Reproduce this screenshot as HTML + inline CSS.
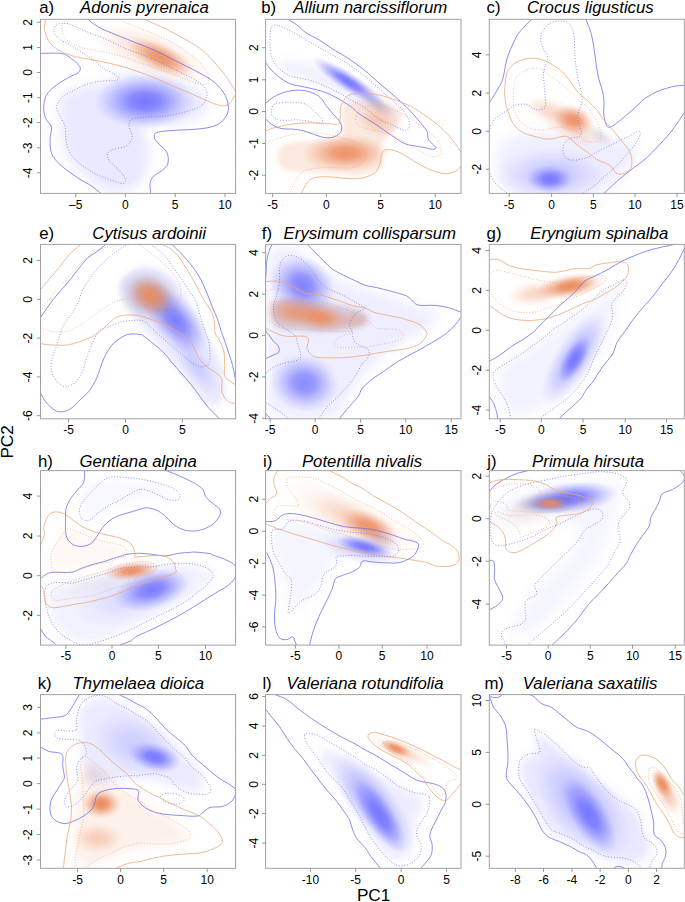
<!DOCTYPE html><html><head><meta charset="utf-8"><style>html,body{margin:0;padding:0;background:#fff;}svg{display:block;}</style></head><body>
<svg width="685" height="902" viewBox="0 0 685 902" font-family='"Liberation Sans", sans-serif'>
<defs><clipPath id="clip_a"><rect x="40.5" y="19.3" width="195.1" height="174.1"/></clipPath><filter id="f1" x="-50%" y="-50%" width="200%" height="200%"><feGaussianBlur stdDeviation="18"/></filter><radialGradient id="g1"><stop offset="0" stop-color="rgb(120,120,255)" stop-opacity="1.000"/><stop offset="0.3" stop-color="rgb(120,120,255)" stop-opacity="0.850"/><stop offset="0.55" stop-color="rgb(120,120,255)" stop-opacity="0.500"/><stop offset="0.8" stop-color="rgb(120,120,255)" stop-opacity="0.180"/><stop offset="1.0" stop-color="rgb(120,120,255)" stop-opacity="0.000"/></radialGradient><radialGradient id="g2"><stop offset="0" stop-color="rgb(236,138,92)" stop-opacity="0.300"/><stop offset="0.3" stop-color="rgb(236,138,92)" stop-opacity="0.255"/><stop offset="0.55" stop-color="rgb(236,138,92)" stop-opacity="0.150"/><stop offset="0.8" stop-color="rgb(236,138,92)" stop-opacity="0.054"/><stop offset="1.0" stop-color="rgb(236,138,92)" stop-opacity="0.000"/></radialGradient><radialGradient id="g3"><stop offset="0" stop-color="rgb(236,138,92)" stop-opacity="0.900"/><stop offset="0.3" stop-color="rgb(236,138,92)" stop-opacity="0.765"/><stop offset="0.55" stop-color="rgb(236,138,92)" stop-opacity="0.450"/><stop offset="0.8" stop-color="rgb(236,138,92)" stop-opacity="0.162"/><stop offset="1.0" stop-color="rgb(236,138,92)" stop-opacity="0.000"/></radialGradient><clipPath id="clip_b"><rect x="265.6" y="19.3" width="195.4" height="174.1"/></clipPath><filter id="f2" x="-50%" y="-50%" width="200%" height="200%"><feGaussianBlur stdDeviation="14"/></filter><filter id="f3" x="-50%" y="-50%" width="200%" height="200%"><feGaussianBlur stdDeviation="9"/></filter><radialGradient id="g4"><stop offset="0" stop-color="rgb(236,138,92)" stop-opacity="0.900"/><stop offset="0.3" stop-color="rgb(236,138,92)" stop-opacity="0.765"/><stop offset="0.55" stop-color="rgb(236,138,92)" stop-opacity="0.450"/><stop offset="0.8" stop-color="rgb(236,138,92)" stop-opacity="0.162"/><stop offset="1.0" stop-color="rgb(236,138,92)" stop-opacity="0.000"/></radialGradient><radialGradient id="g5"><stop offset="0" stop-color="rgb(236,138,92)" stop-opacity="0.350"/><stop offset="0.3" stop-color="rgb(236,138,92)" stop-opacity="0.297"/><stop offset="0.55" stop-color="rgb(236,138,92)" stop-opacity="0.175"/><stop offset="0.8" stop-color="rgb(236,138,92)" stop-opacity="0.063"/><stop offset="1.0" stop-color="rgb(236,138,92)" stop-opacity="0.000"/></radialGradient><radialGradient id="g6"><stop offset="0" stop-color="rgb(120,120,255)" stop-opacity="1.000"/><stop offset="0.3" stop-color="rgb(120,120,255)" stop-opacity="0.850"/><stop offset="0.55" stop-color="rgb(120,120,255)" stop-opacity="0.500"/><stop offset="0.8" stop-color="rgb(120,120,255)" stop-opacity="0.180"/><stop offset="1.0" stop-color="rgb(120,120,255)" stop-opacity="0.000"/></radialGradient><radialGradient id="g7"><stop offset="0" stop-color="rgb(140,130,170)" stop-opacity="0.350"/><stop offset="0.3" stop-color="rgb(140,130,170)" stop-opacity="0.297"/><stop offset="0.55" stop-color="rgb(140,130,170)" stop-opacity="0.175"/><stop offset="0.8" stop-color="rgb(140,130,170)" stop-opacity="0.063"/><stop offset="1.0" stop-color="rgb(140,130,170)" stop-opacity="0.000"/></radialGradient><clipPath id="clip_c"><rect x="489.3" y="19.3" width="195" height="174.1"/></clipPath><filter id="f4" x="-50%" y="-50%" width="200%" height="200%"><feGaussianBlur stdDeviation="20"/></filter><radialGradient id="g8"><stop offset="0" stop-color="rgb(120,120,255)" stop-opacity="0.350"/><stop offset="0.3" stop-color="rgb(120,120,255)" stop-opacity="0.297"/><stop offset="0.55" stop-color="rgb(120,120,255)" stop-opacity="0.175"/><stop offset="0.8" stop-color="rgb(120,120,255)" stop-opacity="0.063"/><stop offset="1.0" stop-color="rgb(120,120,255)" stop-opacity="0.000"/></radialGradient><radialGradient id="g9"><stop offset="0" stop-color="rgb(120,120,255)" stop-opacity="1.000"/><stop offset="0.3" stop-color="rgb(120,120,255)" stop-opacity="0.850"/><stop offset="0.55" stop-color="rgb(120,120,255)" stop-opacity="0.500"/><stop offset="0.8" stop-color="rgb(120,120,255)" stop-opacity="0.180"/><stop offset="1.0" stop-color="rgb(120,120,255)" stop-opacity="0.000"/></radialGradient><radialGradient id="g10"><stop offset="0" stop-color="rgb(236,138,92)" stop-opacity="0.320"/><stop offset="0.3" stop-color="rgb(236,138,92)" stop-opacity="0.272"/><stop offset="0.55" stop-color="rgb(236,138,92)" stop-opacity="0.160"/><stop offset="0.8" stop-color="rgb(236,138,92)" stop-opacity="0.058"/><stop offset="1.0" stop-color="rgb(236,138,92)" stop-opacity="0.000"/></radialGradient><radialGradient id="g11"><stop offset="0" stop-color="rgb(236,138,92)" stop-opacity="0.180"/><stop offset="0.3" stop-color="rgb(236,138,92)" stop-opacity="0.153"/><stop offset="0.55" stop-color="rgb(236,138,92)" stop-opacity="0.090"/><stop offset="0.8" stop-color="rgb(236,138,92)" stop-opacity="0.032"/><stop offset="1.0" stop-color="rgb(236,138,92)" stop-opacity="0.000"/></radialGradient><radialGradient id="g12"><stop offset="0" stop-color="rgb(236,138,92)" stop-opacity="0.900"/><stop offset="0.3" stop-color="rgb(236,138,92)" stop-opacity="0.765"/><stop offset="0.55" stop-color="rgb(236,138,92)" stop-opacity="0.450"/><stop offset="0.8" stop-color="rgb(236,138,92)" stop-opacity="0.162"/><stop offset="1.0" stop-color="rgb(236,138,92)" stop-opacity="0.000"/></radialGradient><radialGradient id="g13"><stop offset="0" stop-color="rgb(170,150,160)" stop-opacity="0.250"/><stop offset="0.3" stop-color="rgb(170,150,160)" stop-opacity="0.212"/><stop offset="0.55" stop-color="rgb(170,150,160)" stop-opacity="0.125"/><stop offset="0.8" stop-color="rgb(170,150,160)" stop-opacity="0.045"/><stop offset="1.0" stop-color="rgb(170,150,160)" stop-opacity="0.000"/></radialGradient><clipPath id="clip_e"><rect x="40.5" y="244.4" width="195.1" height="174.4"/></clipPath><filter id="f5" x="-50%" y="-50%" width="200%" height="200%"><feGaussianBlur stdDeviation="12"/></filter><radialGradient id="g14"><stop offset="0" stop-color="rgb(120,120,255)" stop-opacity="0.950"/><stop offset="0.3" stop-color="rgb(120,120,255)" stop-opacity="0.807"/><stop offset="0.55" stop-color="rgb(120,120,255)" stop-opacity="0.475"/><stop offset="0.8" stop-color="rgb(120,120,255)" stop-opacity="0.171"/><stop offset="1.0" stop-color="rgb(120,120,255)" stop-opacity="0.000"/></radialGradient><radialGradient id="g15"><stop offset="0" stop-color="rgb(120,120,255)" stop-opacity="0.250"/><stop offset="0.3" stop-color="rgb(120,120,255)" stop-opacity="0.212"/><stop offset="0.55" stop-color="rgb(120,120,255)" stop-opacity="0.125"/><stop offset="0.8" stop-color="rgb(120,120,255)" stop-opacity="0.045"/><stop offset="1.0" stop-color="rgb(120,120,255)" stop-opacity="0.000"/></radialGradient><radialGradient id="g16"><stop offset="0" stop-color="rgb(150,130,155)" stop-opacity="0.600"/><stop offset="0.3" stop-color="rgb(150,130,155)" stop-opacity="0.510"/><stop offset="0.55" stop-color="rgb(150,130,155)" stop-opacity="0.300"/><stop offset="0.8" stop-color="rgb(150,130,155)" stop-opacity="0.108"/><stop offset="1.0" stop-color="rgb(150,130,155)" stop-opacity="0.000"/></radialGradient><radialGradient id="g17"><stop offset="0" stop-color="rgb(236,138,92)" stop-opacity="0.900"/><stop offset="0.3" stop-color="rgb(236,138,92)" stop-opacity="0.765"/><stop offset="0.55" stop-color="rgb(236,138,92)" stop-opacity="0.450"/><stop offset="0.8" stop-color="rgb(236,138,92)" stop-opacity="0.162"/><stop offset="1.0" stop-color="rgb(236,138,92)" stop-opacity="0.000"/></radialGradient><clipPath id="clip_f"><rect x="265.6" y="244.4" width="195.4" height="174.4"/></clipPath><filter id="f6" x="-50%" y="-50%" width="200%" height="200%"><feGaussianBlur stdDeviation="16"/></filter><radialGradient id="g18"><stop offset="0" stop-color="rgb(120,120,255)" stop-opacity="0.920"/><stop offset="0.3" stop-color="rgb(120,120,255)" stop-opacity="0.782"/><stop offset="0.55" stop-color="rgb(120,120,255)" stop-opacity="0.460"/><stop offset="0.8" stop-color="rgb(120,120,255)" stop-opacity="0.166"/><stop offset="1.0" stop-color="rgb(120,120,255)" stop-opacity="0.000"/></radialGradient><radialGradient id="g19"><stop offset="0" stop-color="rgb(120,120,255)" stop-opacity="0.850"/><stop offset="0.3" stop-color="rgb(120,120,255)" stop-opacity="0.722"/><stop offset="0.55" stop-color="rgb(120,120,255)" stop-opacity="0.425"/><stop offset="0.8" stop-color="rgb(120,120,255)" stop-opacity="0.153"/><stop offset="1.0" stop-color="rgb(120,120,255)" stop-opacity="0.000"/></radialGradient><filter id="f7" x="-50%" y="-50%" width="200%" height="200%"><feGaussianBlur stdDeviation="10"/></filter><radialGradient id="g20"><stop offset="0" stop-color="rgb(236,138,92)" stop-opacity="0.700"/><stop offset="0.3" stop-color="rgb(236,138,92)" stop-opacity="0.595"/><stop offset="0.55" stop-color="rgb(236,138,92)" stop-opacity="0.350"/><stop offset="0.8" stop-color="rgb(236,138,92)" stop-opacity="0.126"/><stop offset="1.0" stop-color="rgb(236,138,92)" stop-opacity="0.000"/></radialGradient><radialGradient id="g21"><stop offset="0" stop-color="rgb(236,138,92)" stop-opacity="0.900"/><stop offset="0.3" stop-color="rgb(236,138,92)" stop-opacity="0.765"/><stop offset="0.55" stop-color="rgb(236,138,92)" stop-opacity="0.450"/><stop offset="0.8" stop-color="rgb(236,138,92)" stop-opacity="0.162"/><stop offset="1.0" stop-color="rgb(236,138,92)" stop-opacity="0.000"/></radialGradient><radialGradient id="g22"><stop offset="0" stop-color="rgb(236,138,92)" stop-opacity="0.300"/><stop offset="0.3" stop-color="rgb(236,138,92)" stop-opacity="0.255"/><stop offset="0.55" stop-color="rgb(236,138,92)" stop-opacity="0.150"/><stop offset="0.8" stop-color="rgb(236,138,92)" stop-opacity="0.054"/><stop offset="1.0" stop-color="rgb(236,138,92)" stop-opacity="0.000"/></radialGradient><clipPath id="clip_g"><rect x="489.3" y="244.4" width="195" height="174.4"/></clipPath><filter id="f8" x="-50%" y="-50%" width="200%" height="200%"><feGaussianBlur stdDeviation="18"/></filter><radialGradient id="g23"><stop offset="0" stop-color="rgb(120,120,255)" stop-opacity="0.550"/><stop offset="0.3" stop-color="rgb(120,120,255)" stop-opacity="0.468"/><stop offset="0.55" stop-color="rgb(120,120,255)" stop-opacity="0.275"/><stop offset="0.8" stop-color="rgb(120,120,255)" stop-opacity="0.099"/><stop offset="1.0" stop-color="rgb(120,120,255)" stop-opacity="0.000"/></radialGradient><radialGradient id="g24"><stop offset="0" stop-color="rgb(120,120,255)" stop-opacity="1.000"/><stop offset="0.3" stop-color="rgb(120,120,255)" stop-opacity="0.850"/><stop offset="0.55" stop-color="rgb(120,120,255)" stop-opacity="0.500"/><stop offset="0.8" stop-color="rgb(120,120,255)" stop-opacity="0.180"/><stop offset="1.0" stop-color="rgb(120,120,255)" stop-opacity="0.000"/></radialGradient><radialGradient id="g25"><stop offset="0" stop-color="rgb(236,138,92)" stop-opacity="0.350"/><stop offset="0.3" stop-color="rgb(236,138,92)" stop-opacity="0.297"/><stop offset="0.55" stop-color="rgb(236,138,92)" stop-opacity="0.175"/><stop offset="0.8" stop-color="rgb(236,138,92)" stop-opacity="0.063"/><stop offset="1.0" stop-color="rgb(236,138,92)" stop-opacity="0.000"/></radialGradient><radialGradient id="g26"><stop offset="0" stop-color="rgb(236,138,92)" stop-opacity="1.000"/><stop offset="0.3" stop-color="rgb(236,138,92)" stop-opacity="0.850"/><stop offset="0.55" stop-color="rgb(236,138,92)" stop-opacity="0.500"/><stop offset="0.8" stop-color="rgb(236,138,92)" stop-opacity="0.180"/><stop offset="1.0" stop-color="rgb(236,138,92)" stop-opacity="0.000"/></radialGradient><clipPath id="clip_h"><rect x="40.5" y="470.6" width="195.1" height="174.5"/></clipPath><filter id="f9" x="-50%" y="-50%" width="200%" height="200%"><feGaussianBlur stdDeviation="16"/></filter><filter id="f10" x="-50%" y="-50%" width="200%" height="200%"><feGaussianBlur stdDeviation="12"/></filter><filter id="f11" x="-50%" y="-50%" width="200%" height="200%"><feGaussianBlur stdDeviation="10"/></filter><radialGradient id="g27"><stop offset="0" stop-color="rgb(120,120,255)" stop-opacity="0.200"/><stop offset="0.3" stop-color="rgb(120,120,255)" stop-opacity="0.170"/><stop offset="0.55" stop-color="rgb(120,120,255)" stop-opacity="0.100"/><stop offset="0.8" stop-color="rgb(120,120,255)" stop-opacity="0.036"/><stop offset="1.0" stop-color="rgb(120,120,255)" stop-opacity="0.000"/></radialGradient><radialGradient id="g28"><stop offset="0" stop-color="rgb(120,120,255)" stop-opacity="0.950"/><stop offset="0.3" stop-color="rgb(120,120,255)" stop-opacity="0.807"/><stop offset="0.55" stop-color="rgb(120,120,255)" stop-opacity="0.475"/><stop offset="0.8" stop-color="rgb(120,120,255)" stop-opacity="0.171"/><stop offset="1.0" stop-color="rgb(120,120,255)" stop-opacity="0.000"/></radialGradient><radialGradient id="g29"><stop offset="0" stop-color="rgb(200,180,200)" stop-opacity="0.180"/><stop offset="0.3" stop-color="rgb(200,180,200)" stop-opacity="0.153"/><stop offset="0.55" stop-color="rgb(200,180,200)" stop-opacity="0.090"/><stop offset="0.8" stop-color="rgb(200,180,200)" stop-opacity="0.032"/><stop offset="1.0" stop-color="rgb(200,180,200)" stop-opacity="0.000"/></radialGradient><radialGradient id="g30"><stop offset="0" stop-color="rgb(236,138,92)" stop-opacity="0.950"/><stop offset="0.3" stop-color="rgb(236,138,92)" stop-opacity="0.807"/><stop offset="0.55" stop-color="rgb(236,138,92)" stop-opacity="0.475"/><stop offset="0.8" stop-color="rgb(236,138,92)" stop-opacity="0.171"/><stop offset="1.0" stop-color="rgb(236,138,92)" stop-opacity="0.000"/></radialGradient><clipPath id="clip_i"><rect x="265.6" y="470.6" width="195.4" height="174.5"/></clipPath><filter id="f12" x="-50%" y="-50%" width="200%" height="200%"><feGaussianBlur stdDeviation="14"/></filter><filter id="f13" x="-50%" y="-50%" width="200%" height="200%"><feGaussianBlur stdDeviation="14"/></filter><radialGradient id="g31"><stop offset="0" stop-color="rgb(236,138,92)" stop-opacity="0.300"/><stop offset="0.3" stop-color="rgb(236,138,92)" stop-opacity="0.255"/><stop offset="0.55" stop-color="rgb(236,138,92)" stop-opacity="0.150"/><stop offset="0.8" stop-color="rgb(236,138,92)" stop-opacity="0.054"/><stop offset="1.0" stop-color="rgb(236,138,92)" stop-opacity="0.000"/></radialGradient><radialGradient id="g32"><stop offset="0" stop-color="rgb(236,138,92)" stop-opacity="0.900"/><stop offset="0.3" stop-color="rgb(236,138,92)" stop-opacity="0.765"/><stop offset="0.55" stop-color="rgb(236,138,92)" stop-opacity="0.450"/><stop offset="0.8" stop-color="rgb(236,138,92)" stop-opacity="0.162"/><stop offset="1.0" stop-color="rgb(236,138,92)" stop-opacity="0.000"/></radialGradient><radialGradient id="g33"><stop offset="0" stop-color="rgb(120,120,255)" stop-opacity="0.300"/><stop offset="0.3" stop-color="rgb(120,120,255)" stop-opacity="0.255"/><stop offset="0.55" stop-color="rgb(120,120,255)" stop-opacity="0.150"/><stop offset="0.8" stop-color="rgb(120,120,255)" stop-opacity="0.054"/><stop offset="1.0" stop-color="rgb(120,120,255)" stop-opacity="0.000"/></radialGradient><radialGradient id="g34"><stop offset="0" stop-color="rgb(120,120,255)" stop-opacity="1.000"/><stop offset="0.3" stop-color="rgb(120,120,255)" stop-opacity="0.850"/><stop offset="0.55" stop-color="rgb(120,120,255)" stop-opacity="0.500"/><stop offset="0.8" stop-color="rgb(120,120,255)" stop-opacity="0.180"/><stop offset="1.0" stop-color="rgb(120,120,255)" stop-opacity="0.000"/></radialGradient><radialGradient id="g35"><stop offset="0" stop-color="rgb(170,140,170)" stop-opacity="0.350"/><stop offset="0.3" stop-color="rgb(170,140,170)" stop-opacity="0.297"/><stop offset="0.55" stop-color="rgb(170,140,170)" stop-opacity="0.175"/><stop offset="0.8" stop-color="rgb(170,140,170)" stop-opacity="0.063"/><stop offset="1.0" stop-color="rgb(170,140,170)" stop-opacity="0.000"/></radialGradient><clipPath id="clip_j"><rect x="489.3" y="470.6" width="195" height="174.5"/></clipPath><filter id="f14" x="-50%" y="-50%" width="200%" height="200%"><feGaussianBlur stdDeviation="18"/></filter><radialGradient id="g36"><stop offset="0" stop-color="rgb(236,138,92)" stop-opacity="0.100"/><stop offset="0.3" stop-color="rgb(236,138,92)" stop-opacity="0.085"/><stop offset="0.55" stop-color="rgb(236,138,92)" stop-opacity="0.050"/><stop offset="0.8" stop-color="rgb(236,138,92)" stop-opacity="0.018"/><stop offset="1.0" stop-color="rgb(236,138,92)" stop-opacity="0.000"/></radialGradient><radialGradient id="g37"><stop offset="0" stop-color="rgb(120,120,255)" stop-opacity="1.000"/><stop offset="0.3" stop-color="rgb(120,120,255)" stop-opacity="0.850"/><stop offset="0.55" stop-color="rgb(120,120,255)" stop-opacity="0.500"/><stop offset="0.8" stop-color="rgb(120,120,255)" stop-opacity="0.180"/><stop offset="1.0" stop-color="rgb(120,120,255)" stop-opacity="0.000"/></radialGradient><radialGradient id="g38"><stop offset="0" stop-color="rgb(115,100,165)" stop-opacity="0.600"/><stop offset="0.3" stop-color="rgb(115,100,165)" stop-opacity="0.510"/><stop offset="0.55" stop-color="rgb(115,100,165)" stop-opacity="0.300"/><stop offset="0.8" stop-color="rgb(115,100,165)" stop-opacity="0.108"/><stop offset="1.0" stop-color="rgb(115,100,165)" stop-opacity="0.000"/></radialGradient><radialGradient id="g39"><stop offset="0" stop-color="rgb(236,138,92)" stop-opacity="0.950"/><stop offset="0.3" stop-color="rgb(236,138,92)" stop-opacity="0.807"/><stop offset="0.55" stop-color="rgb(236,138,92)" stop-opacity="0.475"/><stop offset="0.8" stop-color="rgb(236,138,92)" stop-opacity="0.171"/><stop offset="1.0" stop-color="rgb(236,138,92)" stop-opacity="0.000"/></radialGradient><clipPath id="clip_k"><rect x="40.5" y="694.6" width="195.1" height="173.7"/></clipPath><filter id="f15" x="-50%" y="-50%" width="200%" height="200%"><feGaussianBlur stdDeviation="16"/></filter><filter id="f16" x="-50%" y="-50%" width="200%" height="200%"><feGaussianBlur stdDeviation="16"/></filter><radialGradient id="g40"><stop offset="0" stop-color="rgb(120,120,255)" stop-opacity="1.000"/><stop offset="0.3" stop-color="rgb(120,120,255)" stop-opacity="0.850"/><stop offset="0.55" stop-color="rgb(120,120,255)" stop-opacity="0.500"/><stop offset="0.8" stop-color="rgb(120,120,255)" stop-opacity="0.180"/><stop offset="1.0" stop-color="rgb(120,120,255)" stop-opacity="0.000"/></radialGradient><radialGradient id="g41"><stop offset="0" stop-color="rgb(120,120,255)" stop-opacity="0.250"/><stop offset="0.3" stop-color="rgb(120,120,255)" stop-opacity="0.212"/><stop offset="0.55" stop-color="rgb(120,120,255)" stop-opacity="0.125"/><stop offset="0.8" stop-color="rgb(120,120,255)" stop-opacity="0.045"/><stop offset="1.0" stop-color="rgb(120,120,255)" stop-opacity="0.000"/></radialGradient><radialGradient id="g42"><stop offset="0" stop-color="rgb(236,138,92)" stop-opacity="1.000"/><stop offset="0.3" stop-color="rgb(236,138,92)" stop-opacity="0.850"/><stop offset="0.55" stop-color="rgb(236,138,92)" stop-opacity="0.500"/><stop offset="0.8" stop-color="rgb(236,138,92)" stop-opacity="0.180"/><stop offset="1.0" stop-color="rgb(236,138,92)" stop-opacity="0.000"/></radialGradient><radialGradient id="g43"><stop offset="0" stop-color="rgb(236,138,92)" stop-opacity="0.350"/><stop offset="0.3" stop-color="rgb(236,138,92)" stop-opacity="0.297"/><stop offset="0.55" stop-color="rgb(236,138,92)" stop-opacity="0.175"/><stop offset="0.8" stop-color="rgb(236,138,92)" stop-opacity="0.063"/><stop offset="1.0" stop-color="rgb(236,138,92)" stop-opacity="0.000"/></radialGradient><radialGradient id="g44"><stop offset="0" stop-color="rgb(200,190,200)" stop-opacity="0.250"/><stop offset="0.3" stop-color="rgb(200,190,200)" stop-opacity="0.212"/><stop offset="0.55" stop-color="rgb(200,190,200)" stop-opacity="0.125"/><stop offset="0.8" stop-color="rgb(200,190,200)" stop-opacity="0.045"/><stop offset="1.0" stop-color="rgb(200,190,200)" stop-opacity="0.000"/></radialGradient><clipPath id="clip_l"><rect x="265.6" y="694.6" width="195.4" height="173.7"/></clipPath><filter id="f17" x="-50%" y="-50%" width="200%" height="200%"><feGaussianBlur stdDeviation="16"/></filter><radialGradient id="g45"><stop offset="0" stop-color="rgb(120,120,255)" stop-opacity="0.600"/><stop offset="0.3" stop-color="rgb(120,120,255)" stop-opacity="0.510"/><stop offset="0.55" stop-color="rgb(120,120,255)" stop-opacity="0.300"/><stop offset="0.8" stop-color="rgb(120,120,255)" stop-opacity="0.108"/><stop offset="1.0" stop-color="rgb(120,120,255)" stop-opacity="0.000"/></radialGradient><radialGradient id="g46"><stop offset="0" stop-color="rgb(120,120,255)" stop-opacity="1.000"/><stop offset="0.3" stop-color="rgb(120,120,255)" stop-opacity="0.850"/><stop offset="0.55" stop-color="rgb(120,120,255)" stop-opacity="0.500"/><stop offset="0.8" stop-color="rgb(120,120,255)" stop-opacity="0.180"/><stop offset="1.0" stop-color="rgb(120,120,255)" stop-opacity="0.000"/></radialGradient><radialGradient id="g47"><stop offset="0" stop-color="rgb(236,138,92)" stop-opacity="0.300"/><stop offset="0.3" stop-color="rgb(236,138,92)" stop-opacity="0.255"/><stop offset="0.55" stop-color="rgb(236,138,92)" stop-opacity="0.150"/><stop offset="0.8" stop-color="rgb(236,138,92)" stop-opacity="0.054"/><stop offset="1.0" stop-color="rgb(236,138,92)" stop-opacity="0.000"/></radialGradient><radialGradient id="g48"><stop offset="0" stop-color="rgb(236,138,92)" stop-opacity="0.950"/><stop offset="0.3" stop-color="rgb(236,138,92)" stop-opacity="0.807"/><stop offset="0.55" stop-color="rgb(236,138,92)" stop-opacity="0.475"/><stop offset="0.8" stop-color="rgb(236,138,92)" stop-opacity="0.171"/><stop offset="1.0" stop-color="rgb(236,138,92)" stop-opacity="0.000"/></radialGradient><clipPath id="clip_m"><rect x="489.3" y="694.6" width="195" height="173.7"/></clipPath><filter id="f18" x="-50%" y="-50%" width="200%" height="200%"><feGaussianBlur stdDeviation="16"/></filter><radialGradient id="g49"><stop offset="0" stop-color="rgb(120,120,255)" stop-opacity="0.450"/><stop offset="0.3" stop-color="rgb(120,120,255)" stop-opacity="0.383"/><stop offset="0.55" stop-color="rgb(120,120,255)" stop-opacity="0.225"/><stop offset="0.8" stop-color="rgb(120,120,255)" stop-opacity="0.081"/><stop offset="1.0" stop-color="rgb(120,120,255)" stop-opacity="0.000"/></radialGradient><radialGradient id="g50"><stop offset="0" stop-color="rgb(120,120,255)" stop-opacity="1.000"/><stop offset="0.3" stop-color="rgb(120,120,255)" stop-opacity="0.850"/><stop offset="0.55" stop-color="rgb(120,120,255)" stop-opacity="0.500"/><stop offset="0.8" stop-color="rgb(120,120,255)" stop-opacity="0.180"/><stop offset="1.0" stop-color="rgb(120,120,255)" stop-opacity="0.000"/></radialGradient><radialGradient id="g51"><stop offset="0" stop-color="rgb(236,138,92)" stop-opacity="0.450"/><stop offset="0.3" stop-color="rgb(236,138,92)" stop-opacity="0.383"/><stop offset="0.55" stop-color="rgb(236,138,92)" stop-opacity="0.225"/><stop offset="0.8" stop-color="rgb(236,138,92)" stop-opacity="0.081"/><stop offset="1.0" stop-color="rgb(236,138,92)" stop-opacity="0.000"/></radialGradient><radialGradient id="g52"><stop offset="0" stop-color="rgb(236,138,92)" stop-opacity="0.950"/><stop offset="0.3" stop-color="rgb(236,138,92)" stop-opacity="0.807"/><stop offset="0.55" stop-color="rgb(236,138,92)" stop-opacity="0.475"/><stop offset="0.8" stop-color="rgb(236,138,92)" stop-opacity="0.171"/><stop offset="1.0" stop-color="rgb(236,138,92)" stop-opacity="0.000"/></radialGradient></defs>
<g clip-path="url(#clip_a)"><g transform="translate(40,18) scale(0.287591)"><path d="M70.0 300.0 C75.0 263.3 95.0 262.5 120.0 250.0 C145.0 237.5 190.0 235.0 220.0 225.0 C250.0 215.0 266.7 194.2 300.0 190.0 C333.3 185.8 376.7 188.3 420.0 200.0 C463.3 211.7 535.0 238.3 560.0 260.0 C585.0 281.7 585.0 311.7 570.0 330.0 C555.0 348.3 505.0 361.7 470.0 370.0 C435.0 378.3 375.0 366.7 360.0 380.0 C345.0 393.3 380.0 420.0 380.0 450.0 C380.0 480.0 373.3 535.0 360.0 560.0 C346.7 585.0 321.7 593.3 300.0 600.0 C278.3 606.7 255.0 610.0 230.0 600.0 C205.0 590.0 173.3 561.7 150.0 540.0 C126.7 518.3 103.3 510.0 90.0 470.0 C76.7 430.0 65.0 336.7 70.0 300.0Z" fill="rgb(120,120,255)" fill-opacity="0.16" filter="url(#f1)"/><ellipse cx="365" cy="290" rx="175" ry="95" transform="rotate(0 365 290)" fill="url(#g1)"/><ellipse cx="390" cy="125" rx="220" ry="80" transform="rotate(22 390 125)" fill="url(#g2)"/><ellipse cx="420" cy="138" rx="125" ry="48" transform="rotate(25 420 138)" fill="url(#g3)"/><path d="M24.0 -10.0 C22.5 -3.5 16.0 19.2 15.0 29.0 C14.0 38.8 15.5 40.5 18.0 49.0 C20.5 57.5 24.5 71.2 30.0 80.0 C35.5 88.8 42.5 95.3 51.0 102.0 C59.5 108.7 69.2 114.7 81.0 120.0 C92.8 125.3 107.5 130.2 122.0 134.0 C136.5 137.8 152.8 140.2 168.0 143.0 C183.2 145.8 197.0 147.7 213.0 151.0 C229.0 154.3 248.7 159.2 264.0 163.0 C279.3 166.8 291.0 169.7 305.0 174.0 C319.0 178.3 333.8 183.8 348.0 189.0 C362.2 194.2 371.3 197.3 390.0 205.0 C408.7 212.7 436.7 225.0 460.0 235.0 C483.3 245.0 508.3 255.5 530.0 265.0 C551.7 274.5 573.0 285.3 590.0 292.0 C607.0 298.7 621.2 303.7 632.0 305.0 C642.8 306.3 648.7 303.8 655.0 300.0 C661.3 296.2 665.5 288.3 670.0 282.0 C674.5 275.7 677.8 268.2 682.0 262.0 C686.2 255.8 692.8 247.8 695.0 245.0" fill="none" stroke="#eea878" stroke-width="2.8" stroke-linejoin="round"/><path d="M695.0 275.0 C693.2 272.8 687.5 266.8 684.0 262.0 C680.5 257.2 679.5 254.8 674.0 246.0 C668.5 237.2 659.7 221.3 651.0 209.0 C642.3 196.7 634.3 186.3 622.0 172.0 C609.7 157.7 592.0 136.7 577.0 123.0 C562.0 109.3 549.5 101.2 532.0 90.0 C514.5 78.8 490.7 66.0 472.0 56.0 C453.3 46.0 438.7 38.8 420.0 30.0 C401.3 21.2 371.7 8.8 360.0 3.0 C348.3 -2.8 351.7 -3.7 350.0 -5.0" fill="none" stroke="#eea878" stroke-width="2.8" stroke-linejoin="round"/><path d="M100.0 -5.0 C96.8 -1.5 85.2 9.5 81.0 16.0 C76.8 22.5 75.3 27.7 75.0 34.0 C74.7 40.3 76.3 47.2 79.0 54.0 C81.7 60.8 84.7 68.7 91.0 75.0 C97.3 81.3 106.8 87.0 117.0 92.0 C127.2 97.0 139.3 101.5 152.0 105.0 C164.7 108.5 179.5 110.5 193.0 113.0 C206.5 115.5 219.5 117.2 233.0 120.0 C246.5 122.8 260.3 126.2 274.0 130.0 C287.7 133.8 302.7 138.7 315.0 143.0 C327.3 147.3 335.5 151.5 348.0 156.0 C360.5 160.5 371.3 163.5 390.0 170.0 C408.7 176.5 438.3 187.0 460.0 195.0 C481.7 203.0 502.5 211.8 520.0 218.0 C537.5 224.2 554.2 230.8 565.0 232.0 C575.8 233.2 581.7 230.3 585.0 225.0 C588.3 219.7 589.2 210.8 585.0 200.0 C580.8 189.2 572.5 173.7 560.0 160.0 C547.5 146.3 530.0 132.2 510.0 118.0 C490.0 103.8 467.0 88.7 440.0 75.0 C413.0 61.3 370.5 45.3 348.0 36.0 C325.5 26.7 319.0 25.3 305.0 19.0 C291.0 12.7 270.8 1.5 264.0 -2.0" fill="none" stroke="#eea878" stroke-width="2.8" stroke-dasharray="3.2 6.4" stroke-linejoin="round"/><path d="M-5.0 123.0 C7.7 123.0 53.3 121.0 71.0 123.0 C88.7 125.0 90.8 128.7 101.0 135.0 C111.2 141.3 125.5 154.2 132.0 161.0 C138.5 167.8 140.0 171.0 140.0 176.0 C140.0 181.0 138.5 186.0 132.0 191.0 C125.5 196.0 112.0 200.0 101.0 206.0 C90.0 212.0 77.0 219.3 66.0 227.0 C55.0 234.7 43.0 243.5 35.0 252.0 C27.0 260.5 21.7 267.3 18.0 278.0 C14.3 288.7 12.7 304.0 13.0 316.0 C13.3 328.0 15.5 339.3 20.0 350.0 C24.5 360.7 37.5 368.3 40.0 380.0 C42.5 391.7 35.0 405.0 35.0 420.0 C35.0 435.0 34.2 455.0 40.0 470.0 C45.8 485.0 55.0 495.8 70.0 510.0 C85.0 524.2 111.7 542.5 130.0 555.0 C148.3 567.5 165.3 575.0 180.0 585.0 C194.7 595.0 211.7 610.0 218.0 615.0" fill="none" stroke="#7070e8" stroke-width="2.8" stroke-linejoin="round"/><path d="M165.0 -5.0 C166.5 -2.3 166.5 4.3 174.0 11.0 C181.5 17.7 197.5 28.2 210.0 35.0 C222.5 41.8 230.2 44.2 249.0 52.0 C267.8 59.8 298.2 72.0 323.0 82.0 C347.8 92.0 373.2 100.8 398.0 112.0 C422.8 123.2 447.2 136.5 472.0 149.0 C496.8 161.5 524.5 174.5 547.0 187.0 C569.5 199.5 590.8 210.3 607.0 224.0 C623.2 237.7 636.0 254.2 644.0 269.0 C652.0 283.8 654.8 300.3 655.0 313.0 C655.2 325.7 651.7 335.2 645.0 345.0 C638.3 354.8 629.2 365.3 615.0 372.0 C600.8 378.7 582.5 382.0 560.0 385.0 C537.5 388.0 503.3 388.3 480.0 390.0 C456.7 391.7 433.7 392.5 420.0 395.0 C406.3 397.5 400.5 399.2 398.0 405.0 C395.5 410.8 398.0 420.0 405.0 430.0 C412.0 440.0 433.3 452.5 440.0 465.0 C446.7 477.5 447.5 494.2 445.0 505.0 C442.5 515.8 433.3 522.5 425.0 530.0 C416.7 537.5 402.0 542.5 395.0 550.0 C388.0 557.5 384.7 564.2 383.0 575.0 C381.3 585.8 384.7 608.3 385.0 615.0" fill="none" stroke="#7070e8" stroke-width="2.8" stroke-linejoin="round"/><path d="M48.0 42.0 C48.8 37.3 51.3 29.8 56.0 26.0 C60.7 22.2 68.5 19.8 76.0 19.0 C83.5 18.2 91.7 18.5 101.0 21.0 C110.3 23.5 120.0 28.8 132.0 34.0 C144.0 39.2 159.5 46.5 173.0 52.0 C186.5 57.5 199.5 61.5 213.0 67.0 C226.5 72.5 240.5 78.7 254.0 85.0 C267.5 91.3 278.3 98.3 294.0 105.0 C309.7 111.7 330.3 118.3 348.0 125.0 C365.7 131.7 379.7 135.8 400.0 145.0 C420.3 154.2 446.7 168.3 470.0 180.0 C493.3 191.7 522.5 204.2 540.0 215.0 C557.5 225.8 568.3 235.0 575.0 245.0 C581.7 255.0 582.5 265.0 580.0 275.0 C577.5 285.0 571.7 296.7 560.0 305.0 C548.3 313.3 530.0 319.2 510.0 325.0 C490.0 330.8 463.3 336.7 440.0 340.0 C416.7 343.3 390.0 343.0 370.0 345.0 C350.0 347.0 330.0 347.0 320.0 352.0 C310.0 357.0 310.0 364.5 310.0 375.0 C310.0 385.5 321.7 403.3 320.0 415.0 C318.3 426.7 310.0 438.3 300.0 445.0 C290.0 451.7 270.8 450.8 260.0 455.0 C249.2 459.2 238.3 463.3 235.0 470.0 C231.7 476.7 234.2 485.8 240.0 495.0 C245.8 504.2 260.8 515.0 270.0 525.0 C279.2 535.0 291.7 546.7 295.0 555.0 C298.3 563.3 297.5 573.3 290.0 575.0 C282.5 576.7 266.7 570.8 250.0 565.0 C233.3 559.2 210.0 550.8 190.0 540.0 C170.0 529.2 145.0 513.3 130.0 500.0 C115.0 486.7 106.7 473.3 100.0 460.0 C93.3 446.7 92.0 433.3 90.0 420.0 C88.0 406.7 91.3 393.3 88.0 380.0 C84.7 366.7 75.0 350.7 70.0 340.0 C65.0 329.3 59.2 323.8 58.0 316.0 C56.8 308.2 59.2 300.3 63.0 293.0 C66.8 285.7 72.0 278.8 81.0 272.0 C90.0 265.2 105.2 258.3 117.0 252.0 C128.8 245.7 140.2 238.7 152.0 234.0 C163.8 229.3 176.2 226.5 188.0 224.0 C199.8 221.5 210.3 220.2 223.0 219.0 C235.7 217.8 255.5 218.7 264.0 217.0 C272.5 215.3 274.8 212.5 274.0 209.0 C273.2 205.5 267.5 201.5 259.0 196.0 C250.5 190.5 234.8 184.0 223.0 176.0 C211.2 168.0 200.7 157.3 188.0 148.0 C175.3 138.7 160.5 128.8 147.0 120.0 C133.5 111.2 119.7 102.5 107.0 95.0 C94.3 87.5 80.3 81.8 71.0 75.0 C61.7 68.2 54.8 59.5 51.0 54.0 C47.2 48.5 47.2 46.7 48.0 42.0Z" fill="none" stroke="#7070e8" stroke-width="2.8" stroke-dasharray="3.2 6.4" stroke-linejoin="round"/></g></g>
<rect x="40.5" y="19.3" width="195.1" height="174.1" fill="none" stroke="#a2a2a2" stroke-width="1"/>
<path d="M75.8 193.4v3.6 M125.4 193.4v3.6 M175.2 193.4v3.6 M225 193.4v3.6 M40.5 22.3h-3.6 M40.5 47.5h-3.6 M40.5 72.5h-3.6 M40.5 97.7h-3.6 M40.5 122.7h-3.6 M40.5 147.8h-3.6 M40.5 172.8h-3.6" stroke="#8c8c8c" stroke-width="0.9" fill="none"/>
<text x="75.8" y="208.6" font-size="12.0" text-anchor="middle">–5</text>
<text x="125.4" y="208.6" font-size="12.0" text-anchor="middle">0</text>
<text x="175.2" y="208.6" font-size="12.0" text-anchor="middle">5</text>
<text x="225" y="208.6" font-size="12.0" text-anchor="middle">10</text>
<text transform="translate(32.4,22.3) rotate(-90)" font-size="12.0" text-anchor="middle">2</text>
<text transform="translate(32.4,47.5) rotate(-90)" font-size="12.0" text-anchor="middle">1</text>
<text transform="translate(32.4,72.5) rotate(-90)" font-size="12.0" text-anchor="middle">0</text>
<text transform="translate(32.4,97.7) rotate(-90)" font-size="12.0" text-anchor="middle">-1</text>
<text transform="translate(32.4,122.7) rotate(-90)" font-size="12.0" text-anchor="middle">-2</text>
<text transform="translate(32.4,147.8) rotate(-90)" font-size="12.0" text-anchor="middle">-3</text>
<text transform="translate(32.4,172.8) rotate(-90)" font-size="12.0" text-anchor="middle">-4</text>
<text x="39.2" y="13" font-size="16.8">a)</text>
<text x="80.1" y="13" font-size="16.8" font-style="italic">Adonis pyrenaica</text>
<g clip-path="url(#clip_b)"><g transform="translate(265,18) scale(0.287591)"><path d="M60.0 150.0 C73.3 145.0 118.3 151.7 150.0 160.0 C181.7 168.3 216.7 185.0 250.0 200.0 C283.3 215.0 318.3 233.3 350.0 250.0 C381.7 266.7 420.0 285.0 440.0 300.0 C460.0 315.0 470.0 331.7 470.0 340.0 C470.0 348.3 460.0 355.0 440.0 350.0 C420.0 345.0 381.7 325.0 350.0 310.0 C318.3 295.0 283.3 275.0 250.0 260.0 C216.7 245.0 180.0 231.7 150.0 220.0 C120.0 208.3 85.0 201.7 70.0 190.0 C55.0 178.3 46.7 155.0 60.0 150.0Z" fill="rgb(120,120,255)" fill-opacity="0.1" filter="url(#f2)"/><path d="M45.0 480.0 C46.7 469.2 47.5 453.3 60.0 445.0 C72.5 436.7 96.7 433.3 120.0 430.0 C143.3 426.7 177.0 427.0 200.0 425.0 C223.0 423.0 246.0 425.5 258.0 418.0 C270.0 410.5 270.0 396.3 272.0 380.0 C274.0 363.7 266.7 335.0 270.0 320.0 C273.3 305.0 280.3 296.7 292.0 290.0 C303.7 283.3 322.0 280.0 340.0 280.0 C358.0 280.0 381.7 285.0 400.0 290.0 C418.3 295.0 438.3 301.7 450.0 310.0 C461.7 318.3 468.3 328.3 470.0 340.0 C471.7 351.7 468.3 366.7 460.0 380.0 C451.7 393.3 430.0 407.5 420.0 420.0 C410.0 432.5 401.7 441.7 400.0 455.0 C398.3 468.3 411.7 487.5 410.0 500.0 C408.3 512.5 403.3 522.5 390.0 530.0 C376.7 537.5 353.3 543.0 330.0 545.0 C306.7 547.0 280.0 543.7 250.0 542.0 C220.0 540.3 178.3 537.0 150.0 535.0 C121.7 533.0 96.7 534.2 80.0 530.0 C63.3 525.8 55.8 518.3 50.0 510.0 C44.2 501.7 43.3 490.8 45.0 480.0Z" fill="rgb(236,138,92)" fill-opacity="0.2" filter="url(#f3)"/><ellipse cx="280" cy="470" rx="150" ry="66" transform="rotate(0 280 470)" fill="url(#g4)"/><ellipse cx="390" cy="355" rx="80" ry="55" transform="rotate(25 390 355)" fill="url(#g5)"/><ellipse cx="290" cy="222" rx="150" ry="34" transform="rotate(33 290 222)" fill="url(#g6)"/><ellipse cx="390" cy="300" rx="70" ry="28" transform="rotate(33 390 300)" fill="url(#g7)"/><path d="M-5.0 143.0 C-1.7 148.0 6.5 163.0 15.0 173.0 C23.5 183.0 34.2 193.8 46.0 203.0 C57.8 212.2 71.7 222.0 86.0 228.0 C100.3 234.0 116.7 235.5 132.0 239.0 C147.3 242.5 162.8 244.8 178.0 249.0 C193.2 253.2 207.8 257.3 223.0 264.0 C238.2 270.7 255.3 280.8 269.0 289.0 C282.7 297.2 296.0 306.2 305.0 313.0 C314.0 319.8 309.7 320.5 323.0 330.0 C336.3 339.5 365.5 357.0 385.0 370.0 C404.5 383.0 423.5 397.0 440.0 408.0 C456.5 419.0 470.5 429.8 484.0 436.0 C497.5 442.2 508.7 442.5 521.0 445.0 C533.3 447.5 547.7 449.0 558.0 451.0 C568.3 453.0 576.8 457.0 583.0 457.0 C589.2 457.0 595.0 454.0 595.0 451.0 C595.0 448.0 587.7 444.2 583.0 439.0 C578.3 433.8 570.2 427.3 567.0 420.0 C563.8 412.7 568.5 404.3 564.0 395.0 C559.5 385.7 549.2 375.3 540.0 364.0 C530.8 352.7 520.5 339.3 509.0 327.0 C497.5 314.7 484.5 302.3 471.0 290.0 C457.5 277.7 442.3 265.3 428.0 253.0 C413.7 240.7 398.3 227.7 385.0 216.0 C371.7 204.3 364.8 196.2 348.0 183.0 C331.2 169.8 303.0 149.7 284.0 137.0 C265.0 124.3 250.0 117.2 234.0 107.0 C218.0 96.8 203.3 85.3 188.0 76.0 C172.7 66.7 154.7 59.5 142.0 51.0 C129.3 42.5 122.2 32.7 112.0 25.0 C101.8 17.3 88.0 10.0 81.0 5.0 C74.0 0.0 71.8 -3.3 70.0 -5.0" fill="none" stroke="#7070e8" stroke-width="2.8" stroke-linejoin="round"/><path d="M23.0 31.0 C26.8 25.0 33.0 24.2 41.0 25.0 C49.0 25.8 59.2 30.5 71.0 36.0 C82.8 41.5 95.8 48.8 112.0 58.0 C128.2 67.2 149.5 80.3 168.0 91.0 C186.5 101.7 203.7 111.0 223.0 122.0 C242.3 133.0 263.2 143.5 284.0 157.0 C304.8 170.5 328.0 187.0 348.0 203.0 C368.0 219.0 387.5 238.5 404.0 253.0 C420.5 267.5 433.7 277.7 447.0 290.0 C460.3 302.3 474.8 314.7 484.0 327.0 C493.2 339.3 500.0 353.7 502.0 364.0 C504.0 374.3 500.0 384.8 496.0 389.0 C492.0 393.2 487.3 392.2 478.0 389.0 C468.7 385.8 453.5 376.2 440.0 370.0 C426.5 363.8 412.3 361.5 397.0 352.0 C381.7 342.5 363.3 323.5 348.0 313.0 C332.7 302.5 319.0 297.2 305.0 289.0 C291.0 280.8 278.5 272.0 264.0 264.0 C249.5 256.0 232.3 247.8 218.0 241.0 C203.7 234.2 192.3 228.0 178.0 223.0 C163.7 218.0 147.3 214.7 132.0 211.0 C116.7 207.3 100.3 207.3 86.0 201.0 C71.7 194.7 56.2 182.8 46.0 173.0 C35.8 163.2 29.7 153.8 25.0 142.0 C20.3 130.2 19.2 115.5 18.0 102.0 C16.8 88.5 17.2 72.8 18.0 61.0 C18.8 49.2 19.2 37.0 23.0 31.0Z" fill="none" stroke="#7070e8" stroke-width="2.8" stroke-dasharray="3.2 6.4" stroke-linejoin="round"/><path d="M-5.0 303.0 C1.0 298.2 17.5 281.8 31.0 274.0 C44.5 266.2 60.8 259.8 76.0 256.0 C91.2 252.2 107.7 250.5 122.0 251.0 C136.3 251.5 150.2 254.7 162.0 259.0 C173.8 263.3 184.5 269.3 193.0 277.0 C201.5 284.7 205.3 295.2 213.0 305.0 C220.7 314.8 231.3 327.0 239.0 336.0 C246.7 345.0 254.3 351.3 259.0 359.0 C263.7 366.7 267.0 374.8 267.0 382.0 C267.0 389.2 264.5 396.5 259.0 402.0 C253.5 407.5 243.3 412.8 234.0 415.0 C224.7 417.2 214.0 416.8 203.0 415.0 C192.0 413.2 179.8 407.8 168.0 404.0 C156.2 400.2 143.0 394.8 132.0 392.0 C121.0 389.2 114.7 388.3 102.0 387.0 C89.3 385.7 68.8 386.7 56.0 384.0 C43.2 381.3 35.2 377.5 25.0 371.0 C14.8 364.5 0.0 349.3 -5.0 345.0" fill="none" stroke="#7070e8" stroke-width="2.8" stroke-linejoin="round"/><path d="M31.0 300.0 C35.7 295.7 39.2 296.2 51.0 295.0 C62.8 293.8 87.7 292.5 102.0 293.0 C116.3 293.5 127.0 294.2 137.0 298.0 C147.0 301.8 154.3 309.7 162.0 316.0 C169.7 322.3 176.5 328.8 183.0 336.0 C189.5 343.2 200.2 354.0 201.0 359.0 C201.8 364.0 196.2 366.0 188.0 366.0 C179.8 366.0 164.7 361.0 152.0 359.0 C139.3 357.0 124.7 354.5 112.0 354.0 C99.3 353.5 87.0 356.0 76.0 356.0 C65.0 356.0 54.5 356.5 46.0 354.0 C37.5 351.5 28.8 346.5 25.0 341.0 C21.2 335.5 22.0 327.8 23.0 321.0 C24.0 314.2 26.3 304.3 31.0 300.0Z" fill="none" stroke="#7070e8" stroke-width="2.8" stroke-dasharray="3.2 6.4" stroke-linejoin="round"/><path d="M-5.0 396.0 C0.0 394.0 13.2 387.7 25.0 384.0 C36.8 380.3 50.7 377.0 66.0 374.0 C81.3 371.0 100.0 367.5 117.0 366.0 C134.0 364.5 152.0 364.8 168.0 365.0 C184.0 365.2 198.3 366.3 213.0 367.0 C227.7 367.7 248.0 371.7 256.0 369.0 C264.0 366.3 260.0 359.8 261.0 351.0 C262.0 342.2 260.7 325.3 262.0 316.0 C263.3 306.7 264.0 303.0 269.0 295.0 C274.0 287.0 280.0 273.5 292.0 268.0 C304.0 262.5 323.5 262.0 341.0 262.0 C358.5 262.0 377.3 263.8 397.0 268.0 C416.7 272.2 438.3 279.2 459.0 287.0 C479.7 294.8 500.3 303.2 521.0 315.0 C541.7 326.8 564.5 343.7 583.0 358.0 C601.5 372.3 618.7 387.5 632.0 401.0 C645.3 414.5 655.2 428.7 663.0 439.0 C670.8 449.3 673.7 454.5 679.0 463.0 C684.3 471.5 695.0 480.7 695.0 490.0 C695.0 499.3 685.3 511.5 679.0 519.0 C672.7 526.5 665.8 531.3 657.0 535.0 C648.2 538.7 638.3 541.7 626.0 541.0 C613.7 540.3 598.5 536.7 583.0 531.0 C567.5 525.3 549.5 516.2 533.0 507.0 C516.5 497.8 498.3 483.8 484.0 476.0 C469.7 468.2 458.3 462.7 447.0 460.0 C435.7 457.3 423.0 457.3 416.0 460.0 C409.0 462.7 407.7 468.2 405.0 476.0 C402.3 483.8 403.8 496.7 400.0 507.0 C396.2 517.3 391.8 529.8 382.0 538.0 C372.2 546.2 355.7 552.5 341.0 556.0 C326.3 559.5 310.2 559.3 294.0 559.0 C277.8 558.7 260.0 555.2 244.0 554.0 C228.0 552.8 211.7 551.2 198.0 552.0 C184.3 552.8 171.3 554.3 162.0 559.0 C152.7 563.7 148.3 570.7 142.0 580.0 C135.7 589.3 127.0 609.2 124.0 615.0" fill="none" stroke="#eea878" stroke-width="2.8" stroke-linejoin="round"/><path d="M-5.0 450.0 C0.0 446.2 13.2 433.3 25.0 427.0 C36.8 420.7 50.7 416.3 66.0 412.0 C81.3 407.7 99.2 403.2 117.0 401.0 C134.8 398.8 154.5 398.0 173.0 399.0 C191.5 400.0 211.2 403.8 228.0 407.0 C244.8 410.2 261.2 414.5 274.0 418.0 C286.8 421.5 295.3 423.8 305.0 428.0 C314.7 432.2 325.0 437.2 332.0 443.0 C339.0 448.8 344.2 455.5 347.0 463.0 C349.8 470.5 351.0 480.5 349.0 488.0 C347.0 495.5 343.2 502.7 335.0 508.0 C326.8 513.3 311.8 517.8 300.0 520.0 C288.2 522.2 278.5 521.0 264.0 521.0 C249.5 521.0 229.2 519.5 213.0 520.0 C196.8 520.5 180.5 521.7 167.0 524.0 C153.5 526.3 141.7 528.2 132.0 534.0 C122.3 539.8 115.3 549.7 109.0 559.0 C102.7 568.3 97.8 580.7 94.0 590.0 C90.2 599.3 87.3 610.8 86.0 615.0" fill="none" stroke="#eea878" stroke-width="2.8" stroke-dasharray="3.2 6.4" stroke-linejoin="round"/><path d="M317.0 340.0 C319.0 332.8 320.8 320.8 329.0 315.0 C337.2 309.2 351.5 306.0 366.0 305.0 C380.5 304.0 399.5 305.3 416.0 309.0 C432.5 312.7 449.5 319.8 465.0 327.0 C480.5 334.2 494.5 342.7 509.0 352.0 C523.5 361.3 537.7 371.7 552.0 383.0 C566.3 394.3 585.2 408.7 595.0 420.0 C604.8 431.3 608.8 441.7 611.0 451.0 C613.2 460.3 612.7 470.8 608.0 476.0 C603.3 481.2 592.3 483.0 583.0 482.0 C573.7 481.0 564.3 476.2 552.0 470.0 C539.7 463.8 523.5 453.3 509.0 445.0 C494.5 436.7 479.5 427.3 465.0 420.0 C450.5 412.7 437.5 406.2 422.0 401.0 C406.5 395.8 387.5 393.0 372.0 389.0 C356.5 385.0 338.2 382.2 329.0 377.0 C319.8 371.8 319.0 364.2 317.0 358.0 C315.0 351.8 315.0 347.2 317.0 340.0Z" fill="none" stroke="#eea878" stroke-width="2.8" stroke-dasharray="3.2 6.4" stroke-linejoin="round"/></g></g>
<rect x="265.6" y="19.3" width="195.4" height="174.1" fill="none" stroke="#a2a2a2" stroke-width="1"/>
<path d="M272.6 193.4v3.6 M326.4 193.4v3.6 M380.6 193.4v3.6 M435.3 193.4v3.6 M265.6 47.7h-3.6 M265.6 79.8h-3.6 M265.6 111.5h-3.6 M265.6 143.5h-3.6 M265.6 175.2h-3.6" stroke="#8c8c8c" stroke-width="0.9" fill="none"/>
<text x="272.6" y="208.6" font-size="12.0" text-anchor="middle">-5</text>
<text x="326.4" y="208.6" font-size="12.0" text-anchor="middle">0</text>
<text x="380.6" y="208.6" font-size="12.0" text-anchor="middle">5</text>
<text x="435.3" y="208.6" font-size="12.0" text-anchor="middle">10</text>
<text transform="translate(257.5,47.7) rotate(-90)" font-size="12.0" text-anchor="middle">2</text>
<text transform="translate(257.5,79.8) rotate(-90)" font-size="12.0" text-anchor="middle">1</text>
<text transform="translate(257.5,111.5) rotate(-90)" font-size="12.0" text-anchor="middle">0</text>
<text transform="translate(257.5,143.5) rotate(-90)" font-size="12.0" text-anchor="middle">-1</text>
<text transform="translate(257.5,175.2) rotate(-90)" font-size="12.0" text-anchor="middle">-2</text>
<text x="261.2" y="13" font-size="16.8">b)</text>
<text x="293.35" y="13" font-size="16.8" font-style="italic">Allium narcissiflorum</text>
<g clip-path="url(#clip_c)"><g transform="translate(488,18) scale(0.287591)"><path d="M30.0 470.0 C38.3 440.0 71.7 421.7 100.0 410.0 C128.3 398.3 166.7 400.0 200.0 400.0 C233.3 400.0 266.7 406.7 300.0 410.0 C333.3 413.3 370.0 416.7 400.0 420.0 C430.0 423.3 460.0 421.7 480.0 430.0 C500.0 438.3 521.7 451.7 520.0 470.0 C518.3 488.3 490.0 518.3 470.0 540.0 C450.0 561.7 428.3 586.7 400.0 600.0 C371.7 613.3 341.7 616.7 300.0 620.0 C258.3 623.3 191.7 625.0 150.0 620.0 C108.3 615.0 70.0 615.0 50.0 590.0 C30.0 565.0 21.7 500.0 30.0 470.0Z" fill="rgb(120,120,255)" fill-opacity="0.13" filter="url(#f4)"/><ellipse cx="225" cy="545" rx="200" ry="95" transform="rotate(0 225 545)" fill="url(#g8)"/><ellipse cx="215" cy="560" rx="80" ry="48" transform="rotate(0 215 560)" fill="url(#g9)"/><ellipse cx="275" cy="365" rx="150" ry="60" transform="rotate(34 275 365)" fill="url(#g10)"/><ellipse cx="200" cy="320" rx="90" ry="40" transform="rotate(20 200 320)" fill="url(#g11)"/><ellipse cx="298" cy="354" rx="75" ry="52" transform="rotate(20 298 354)" fill="url(#g12)"/><ellipse cx="390" cy="410" rx="60" ry="30" transform="rotate(35 390 410)" fill="url(#g13)"/><path d="M-5.0 305.0 C-3.3 303.2 -0.8 302.5 5.0 294.0 C10.8 285.5 22.3 267.5 30.0 254.0 C37.7 240.5 45.0 231.7 51.0 213.0 C57.0 194.3 59.3 164.0 66.0 142.0 C72.7 120.0 83.3 97.0 91.0 81.0 C98.7 65.0 101.8 58.7 112.0 46.0 C122.2 33.3 143.2 13.5 152.0 5.0 C160.8 -3.5 162.8 -3.3 165.0 -5.0" fill="none" stroke="#7070e8" stroke-width="2.8" stroke-linejoin="round"/><path d="M336.0 -5.0 C336.7 -3.3 336.3 -4.3 340.0 5.0 C343.7 14.3 353.3 34.8 358.0 51.0 C362.7 67.2 365.2 85.2 368.0 102.0 C370.8 118.8 372.5 135.2 375.0 152.0 C377.5 168.8 379.2 186.0 383.0 203.0 C386.8 220.0 394.7 240.5 398.0 254.0 C401.3 267.5 402.2 274.2 403.0 284.0 C403.8 293.8 403.0 303.7 403.0 313.0 C403.0 322.3 401.3 329.7 403.0 340.0 C404.7 350.3 408.7 368.7 413.0 375.0 C417.3 381.3 422.2 380.5 429.0 378.0 C435.8 375.5 443.8 368.0 454.0 360.0 C464.2 352.0 478.2 340.2 490.0 330.0 C501.8 319.8 516.7 306.7 525.0 299.0 C533.3 291.3 530.7 290.7 540.0 284.0 C549.3 277.3 567.3 265.7 581.0 259.0 C594.7 252.3 609.3 247.8 622.0 244.0 C634.7 240.2 644.8 237.8 657.0 236.0 C669.2 234.2 688.7 233.5 695.0 233.0" fill="none" stroke="#7070e8" stroke-width="2.8" stroke-linejoin="round"/><path d="M695.0 310.0 C689.5 318.3 672.5 344.8 662.0 360.0 C651.5 375.2 643.8 386.7 632.0 401.0 C620.2 415.3 604.5 431.7 591.0 446.0 C577.5 460.3 565.3 474.3 551.0 487.0 C536.7 499.7 521.2 509.3 505.0 522.0 C488.8 534.7 471.0 548.3 454.0 563.0 C437.0 577.7 412.3 600.5 403.0 610.0 C393.7 619.5 398.8 618.3 398.0 620.0" fill="none" stroke="#7070e8" stroke-width="2.8" stroke-linejoin="round"/><path d="M-5.0 410.0 C-3.3 407.5 2.8 400.0 5.0 395.0 C7.2 390.0 5.5 386.7 8.0 380.0 C10.5 373.3 13.7 362.5 20.0 355.0 C26.3 347.5 37.5 341.0 46.0 335.0 C54.5 329.0 63.0 324.3 71.0 319.0 C79.0 313.7 83.8 306.2 94.0 303.0 C104.2 299.8 121.5 298.2 132.0 300.0 C142.5 301.8 149.8 310.7 157.0 314.0 C164.2 317.3 168.7 320.0 175.0 320.0 C181.3 320.0 190.8 317.2 195.0 314.0 C199.2 310.8 199.5 309.2 200.0 301.0 C200.5 292.8 198.8 277.2 198.0 265.0 C197.2 252.8 195.8 240.0 195.0 228.0 C194.2 216.0 192.2 204.0 193.0 193.0 C193.8 182.0 197.5 171.3 200.0 162.0 C202.5 152.7 209.2 146.2 208.0 137.0 C206.8 127.8 197.2 117.2 193.0 107.0 C188.8 96.8 183.5 86.2 183.0 76.0 C182.5 65.8 185.0 55.3 190.0 46.0 C195.0 36.7 203.2 26.0 213.0 20.0 C222.8 14.0 238.0 10.3 249.0 10.0 C260.0 9.7 271.5 12.8 279.0 18.0 C286.5 23.2 290.5 31.3 294.0 41.0 C297.5 50.7 298.7 61.7 300.0 76.0 C301.3 90.3 300.8 110.0 302.0 127.0 C303.2 144.0 304.5 161.2 307.0 178.0 C309.5 194.8 313.7 212.8 317.0 228.0 C320.3 243.2 325.7 257.2 327.0 269.0 C328.3 280.8 327.0 289.8 325.0 299.0 C323.0 308.2 317.2 315.5 315.0 324.0 C312.8 332.5 311.2 340.7 312.0 350.0 C312.8 359.3 317.8 371.7 320.0 380.0 C322.2 388.3 325.8 394.5 325.0 400.0 C324.2 405.5 321.0 410.0 315.0 413.0 C309.0 416.0 296.7 415.0 289.0 418.0 C281.3 421.0 273.7 425.5 269.0 431.0 C264.3 436.5 261.8 443.3 261.0 451.0 C260.2 458.7 261.0 470.2 264.0 477.0 C267.0 483.8 272.2 489.2 279.0 492.0 C285.8 494.8 296.5 494.5 305.0 494.0 C313.5 493.5 322.8 490.7 330.0 489.0 C337.2 487.3 338.3 488.7 348.0 484.0 C357.7 479.3 372.8 469.0 388.0 461.0 C403.2 453.0 422.0 444.3 439.0 436.0 C456.0 427.7 476.5 417.8 490.0 411.0 C503.5 404.2 513.3 396.8 520.0 395.0 C526.7 393.2 530.0 394.8 530.0 400.0 C530.0 405.2 526.7 415.0 520.0 426.0 C513.3 437.0 501.8 451.7 490.0 466.0 C478.2 480.3 463.5 497.5 449.0 512.0 C434.5 526.5 417.3 540.3 403.0 553.0 C388.7 565.7 374.0 579.5 363.0 588.0 C352.0 596.5 344.5 598.7 337.0 604.0 C329.5 609.3 321.2 617.3 318.0 620.0" fill="none" stroke="#7070e8" stroke-width="2.8" stroke-dasharray="3.2 6.4" stroke-linejoin="round"/><path d="M-3.0 525.0 C-1.7 527.2 1.2 530.8 5.0 538.0 C8.8 545.2 13.2 558.8 20.0 568.0 C26.8 577.2 38.3 586.2 46.0 593.0 C53.7 599.8 61.2 604.5 66.0 609.0 C70.8 613.5 73.5 618.2 75.0 620.0" fill="none" stroke="#7070e8" stroke-width="2.8" stroke-dasharray="3.2 6.4" stroke-linejoin="round"/><path d="M145.0 140.0 C158.5 139.2 175.0 141.3 188.0 145.0 C201.0 148.7 211.2 154.8 223.0 162.0 C234.8 169.2 248.8 178.7 259.0 188.0 C269.2 197.3 276.3 207.8 284.0 218.0 C291.7 228.2 297.3 239.7 305.0 249.0 C312.7 258.3 322.8 267.3 330.0 274.0 C337.2 280.7 343.3 284.8 348.0 289.0 C352.7 293.2 353.0 294.0 358.0 299.0 C363.0 304.0 370.5 309.7 378.0 319.0 C385.5 328.3 393.7 343.2 403.0 355.0 C412.3 366.8 423.8 378.2 434.0 390.0 C444.2 401.8 454.7 414.2 464.0 426.0 C473.3 437.8 484.0 450.0 490.0 461.0 C496.0 472.0 498.8 481.8 500.0 492.0 C501.2 502.2 500.5 514.3 497.0 522.0 C493.5 529.7 486.2 534.5 479.0 538.0 C471.8 541.5 460.7 543.8 454.0 543.0 C447.3 542.2 443.2 537.3 439.0 533.0 C434.8 528.7 435.0 522.2 429.0 517.0 C423.0 511.8 411.5 506.2 403.0 502.0 C394.5 497.8 386.3 497.0 378.0 492.0 C369.7 487.0 359.8 477.2 353.0 472.0 C346.2 466.8 344.2 466.2 337.0 461.0 C329.8 455.8 318.8 448.2 310.0 441.0 C301.2 433.8 291.7 423.0 284.0 418.0 C276.3 413.0 272.3 411.0 264.0 411.0 C255.7 411.0 244.2 416.3 234.0 418.0 C223.8 419.7 214.0 421.8 203.0 421.0 C192.0 420.2 179.8 416.0 168.0 413.0 C156.2 410.0 143.0 407.7 132.0 403.0 C121.0 398.3 110.5 393.0 102.0 385.0 C93.5 377.0 86.3 365.2 81.0 355.0 C75.7 344.8 73.2 333.2 70.0 324.0 C66.8 314.8 64.0 311.7 62.0 300.0 C60.0 288.3 57.8 270.2 58.0 254.0 C58.2 237.8 60.0 216.5 63.0 203.0 C66.0 189.5 68.7 181.8 76.0 173.0 C83.3 164.2 95.5 155.5 107.0 150.0 C118.5 144.5 131.5 140.8 145.0 140.0Z" fill="none" stroke="#eea878" stroke-width="2.8" stroke-linejoin="round"/><path d="M157.0 175.0 C168.8 173.7 177.8 175.3 188.0 180.0 C198.2 184.7 207.0 195.0 218.0 203.0 C229.0 211.0 241.3 217.8 254.0 228.0 C266.7 238.2 282.2 253.0 294.0 264.0 C305.8 275.0 316.0 286.3 325.0 294.0 C334.0 301.7 342.5 304.0 348.0 310.0 C353.5 316.0 353.8 323.3 358.0 330.0 C362.2 336.7 368.0 340.8 373.0 350.0 C378.0 359.2 384.7 374.8 388.0 385.0 C391.3 395.2 393.8 403.8 393.0 411.0 C392.2 418.2 388.0 424.5 383.0 428.0 C378.0 431.5 370.7 432.3 363.0 432.0 C355.3 431.7 345.0 431.3 337.0 426.0 C329.0 420.7 323.8 406.3 315.0 400.0 C306.2 393.7 294.2 391.3 284.0 388.0 C273.8 384.7 264.2 380.8 254.0 380.0 C243.8 379.2 233.2 381.3 223.0 383.0 C212.8 384.7 204.8 389.7 193.0 390.0 C181.2 390.3 164.7 389.2 152.0 385.0 C139.3 380.8 126.3 373.5 117.0 365.0 C107.7 356.5 100.7 344.2 96.0 334.0 C91.3 323.8 90.2 317.3 89.0 304.0 C87.8 290.7 87.8 269.2 89.0 254.0 C90.2 238.8 91.3 224.0 96.0 213.0 C100.7 202.0 106.8 194.3 117.0 188.0 C127.2 181.7 145.2 176.3 157.0 175.0Z" fill="none" stroke="#eea878" stroke-width="2.8" stroke-dasharray="3.2 6.4" stroke-linejoin="round"/></g></g>
<rect x="489.3" y="19.3" width="195" height="174.1" fill="none" stroke="#a2a2a2" stroke-width="1"/>
<path d="M509.2 193.4v3.6 M551.6 193.4v3.6 M593.4 193.4v3.6 M635 193.4v3.6 M677 193.4v3.6 M489.3 54.8h-3.6 M489.3 93.1h-3.6 M489.3 131.3h-3.6 M489.3 169.2h-3.6" stroke="#8c8c8c" stroke-width="0.9" fill="none"/>
<text x="509.2" y="208.6" font-size="12.0" text-anchor="middle">-5</text>
<text x="551.6" y="208.6" font-size="12.0" text-anchor="middle">0</text>
<text x="593.4" y="208.6" font-size="12.0" text-anchor="middle">5</text>
<text x="635" y="208.6" font-size="12.0" text-anchor="middle">10</text>
<text x="677" y="208.6" font-size="12.0" text-anchor="middle">15</text>
<text transform="translate(481.2,54.8) rotate(-90)" font-size="12.0" text-anchor="middle">4</text>
<text transform="translate(481.2,93.1) rotate(-90)" font-size="12.0" text-anchor="middle">2</text>
<text transform="translate(481.2,131.3) rotate(-90)" font-size="12.0" text-anchor="middle">0</text>
<text transform="translate(481.2,169.2) rotate(-90)" font-size="12.0" text-anchor="middle">-2</text>
<text x="486.6" y="13" font-size="16.8">c)</text>
<text x="526.9" y="13" font-size="16.8" font-style="italic">Crocus ligusticus</text>
<g clip-path="url(#clip_e)"><g transform="translate(40,243) scale(0.287591)"><path d="M300.0 110.0 C313.3 100.0 338.3 81.7 360.0 80.0 C381.7 78.3 408.3 86.7 430.0 100.0 C451.7 113.3 471.7 136.7 490.0 160.0 C508.3 183.3 525.0 213.3 540.0 240.0 C555.0 266.7 566.7 293.3 580.0 320.0 C593.3 346.7 610.0 373.3 620.0 400.0 C630.0 426.7 638.3 455.0 640.0 480.0 C641.7 505.0 638.3 536.7 630.0 550.0 C621.7 563.3 606.7 568.3 590.0 560.0 C573.3 551.7 550.0 523.3 530.0 500.0 C510.0 476.7 491.7 446.7 470.0 420.0 C448.3 393.3 421.7 365.0 400.0 340.0 C378.3 315.0 358.3 293.3 340.0 270.0 C321.7 246.7 300.0 221.7 290.0 200.0 C280.0 178.3 278.3 155.0 280.0 140.0 C281.7 125.0 286.7 120.0 300.0 110.0Z" fill="rgb(120,120,255)" fill-opacity="0.16" filter="url(#f5)"/><ellipse cx="470" cy="268" rx="150" ry="75" transform="rotate(50 470 268)" fill="url(#g14)"/><ellipse cx="540" cy="420" rx="130" ry="50" transform="rotate(55 540 420)" fill="url(#g15)"/><ellipse cx="380" cy="185" rx="120" ry="95" transform="rotate(25 380 185)" fill="url(#g16)"/><ellipse cx="385" cy="183" rx="85" ry="65" transform="rotate(30 385 183)" fill="url(#g17)"/><path d="M-5.0 170.0 C-3.8 168.7 -4.7 170.0 2.0 162.0 C8.7 154.0 24.3 134.7 35.0 122.0 C45.7 109.3 55.0 99.5 66.0 86.0 C77.0 72.5 88.3 54.5 101.0 41.0 C113.7 27.5 133.8 12.7 142.0 5.0 C150.2 -2.7 148.7 -3.3 150.0 -5.0" fill="none" stroke="#eea878" stroke-width="2.8" stroke-linejoin="round"/><path d="M-5.0 242.0 C-3.8 240.7 -3.8 241.3 2.0 234.0 C7.8 226.7 20.2 210.8 30.0 198.0 C39.8 185.2 50.8 168.8 61.0 157.0 C71.2 145.2 80.0 138.8 91.0 127.0 C102.0 115.2 116.0 97.8 127.0 86.0 C138.0 74.2 146.0 65.7 157.0 56.0 C168.0 46.3 181.2 34.8 193.0 28.0 C204.8 21.2 215.3 18.3 228.0 15.0 C240.7 11.7 254.5 9.7 269.0 8.0 C283.5 6.3 301.8 5.0 315.0 5.0 C328.2 5.0 337.5 3.8 348.0 8.0 C358.5 12.2 366.3 21.2 378.0 30.0 C389.7 38.8 405.3 50.0 418.0 61.0 C430.7 72.0 443.8 84.2 454.0 96.0 C464.2 107.8 473.0 121.0 479.0 132.0 C485.0 143.0 488.7 151.8 490.0 162.0 C491.3 172.2 489.7 184.5 487.0 193.0 C484.3 201.5 480.3 208.3 474.0 213.0 C467.7 217.7 459.2 219.7 449.0 221.0 C438.8 222.3 424.8 222.3 413.0 221.0 C401.2 219.7 389.0 216.0 378.0 213.0 C367.0 210.0 355.0 206.0 347.0 203.0 C339.0 200.0 338.8 196.3 330.0 195.0 C321.2 193.7 306.7 192.8 294.0 195.0 C281.3 197.2 267.5 201.7 254.0 208.0 C240.5 214.3 225.7 224.5 213.0 233.0 C200.3 241.5 189.8 250.5 178.0 259.0 C166.2 267.5 154.8 276.3 142.0 284.0 C129.2 291.7 114.5 300.7 101.0 305.0 C87.5 309.3 72.8 310.0 61.0 310.0 C49.2 310.0 39.8 307.7 30.0 305.0 C20.2 302.3 7.8 296.5 2.0 294.0 C-3.8 291.5 -3.8 290.7 -5.0 290.0" fill="none" stroke="#eea878" stroke-width="2.8" stroke-dasharray="3.2 6.4" stroke-linejoin="round"/><path d="M-5.0 268.0 C-3.8 266.5 -3.8 267.3 2.0 259.0 C7.8 250.7 20.2 231.5 30.0 218.0 C39.8 204.5 49.2 192.3 61.0 178.0 C72.8 163.7 88.3 147.3 101.0 132.0 C113.7 116.7 126.0 99.5 137.0 86.0 C148.0 72.5 156.8 60.3 167.0 51.0 C177.2 41.7 187.8 37.7 198.0 30.0 C208.2 22.3 221.8 10.8 228.0 5.0 C234.2 -0.8 233.8 -3.3 235.0 -5.0" fill="none" stroke="#7070e8" stroke-width="2.8" stroke-linejoin="round"/><path d="M325.0 -5.0 C323.3 -3.5 320.2 1.5 315.0 4.0 C309.8 6.5 303.3 4.8 294.0 10.0 C284.7 15.2 270.8 25.7 259.0 35.0 C247.2 44.3 234.0 55.8 223.0 66.0 C212.0 76.2 202.3 85.0 193.0 96.0 C183.7 107.0 174.7 120.2 167.0 132.0 C159.3 143.8 152.8 154.3 147.0 167.0 C141.2 179.7 137.8 195.2 132.0 208.0 C126.2 220.8 119.7 232.2 112.0 244.0 C104.3 255.8 92.8 267.5 86.0 279.0 C79.2 290.5 75.2 301.2 71.0 313.0 C66.8 324.8 65.2 337.2 61.0 350.0 C56.8 362.8 49.8 376.5 46.0 390.0 C42.2 403.5 38.0 419.2 38.0 431.0 C38.0 442.8 41.3 451.3 46.0 461.0 C50.7 470.7 58.5 482.5 66.0 489.0 C73.5 495.5 82.5 500.0 91.0 500.0 C99.5 500.0 109.3 494.7 117.0 489.0 C124.7 483.3 131.2 474.8 137.0 466.0 C142.8 457.2 147.8 447.0 152.0 436.0 C156.2 425.0 157.7 412.7 162.0 400.0 C166.3 387.3 172.8 372.7 178.0 360.0 C183.2 347.3 188.0 333.3 193.0 324.0 C198.0 314.7 199.5 309.8 208.0 304.0 C216.5 298.2 231.3 294.0 244.0 289.0 C256.7 284.0 270.5 277.3 284.0 274.0 C297.5 270.7 314.3 269.8 325.0 269.0 C335.7 268.2 340.8 267.8 348.0 269.0 C355.2 270.2 360.5 270.7 368.0 276.0 C375.5 281.3 385.5 293.8 393.0 301.0 C400.5 308.2 402.8 310.0 413.0 319.0 C423.2 328.0 441.2 344.0 454.0 355.0 C466.8 366.0 477.3 374.5 490.0 385.0 C502.7 395.5 519.0 410.5 530.0 418.0 C541.0 425.5 548.3 428.3 556.0 430.0 C563.7 431.7 570.5 430.3 576.0 428.0 C581.5 425.7 586.5 424.0 589.0 416.0 C591.5 408.0 591.5 392.7 591.0 380.0 C590.5 367.3 589.3 353.5 586.0 340.0 C582.7 326.5 578.5 321.8 571.0 299.0 C563.5 276.2 550.3 225.8 541.0 203.0 C531.7 180.2 523.5 175.5 515.0 162.0 C506.5 148.5 498.5 134.7 490.0 122.0 C481.5 109.3 472.5 97.8 464.0 86.0 C455.5 74.2 447.5 61.2 439.0 51.0 C430.5 40.8 422.3 32.7 413.0 25.0 C403.7 17.3 389.3 10.0 383.0 5.0 C376.7 0.0 376.3 -3.3 375.0 -5.0" fill="none" stroke="#7070e8" stroke-width="2.8" stroke-dasharray="3.2 6.4" stroke-linejoin="round"/><path d="M-5.0 350.0 C-3.8 350.0 -4.0 349.3 2.0 350.0 C8.0 350.7 16.2 353.2 31.0 354.0 C45.8 354.8 74.2 356.5 91.0 355.0 C107.8 353.5 118.3 349.2 132.0 345.0 C145.7 340.8 161.2 335.5 173.0 330.0 C184.8 324.5 195.5 317.2 203.0 312.0 C210.5 306.8 212.8 303.7 218.0 299.0 C223.2 294.3 226.3 290.7 234.0 284.0 C241.7 277.3 254.0 264.5 264.0 259.0 C274.0 253.5 283.0 252.3 294.0 251.0 C305.0 249.7 321.0 250.5 330.0 251.0 C339.0 251.5 340.0 252.0 348.0 254.0 C356.0 256.0 365.3 258.8 378.0 263.0 C390.7 267.2 409.7 273.0 424.0 279.0 C438.3 285.0 452.2 292.3 464.0 299.0 C475.8 305.7 484.8 311.3 495.0 319.0 C505.2 326.7 517.5 335.7 525.0 345.0 C532.5 354.3 534.8 364.8 540.0 375.0 C545.2 385.2 549.2 396.7 556.0 406.0 C562.8 415.3 571.8 423.5 581.0 431.0 C590.2 438.5 602.5 444.2 611.0 451.0 C619.5 457.8 628.5 461.8 632.0 472.0 C635.5 482.2 630.3 501.0 632.0 512.0 C633.7 523.0 637.0 530.8 642.0 538.0 C647.0 545.2 653.2 551.7 662.0 555.0 C670.8 558.3 689.5 557.5 695.0 558.0" fill="none" stroke="#eea878" stroke-width="2.8" stroke-linejoin="round"/><path d="M415.0 -5.0 C416.5 -3.3 417.5 0.8 424.0 5.0 C430.5 9.2 443.8 12.3 454.0 20.0 C464.2 27.7 475.7 39.2 485.0 51.0 C494.3 62.8 501.7 77.5 510.0 91.0 C518.3 104.5 527.3 118.3 535.0 132.0 C542.7 145.7 549.2 160.3 556.0 173.0 C562.8 185.7 569.3 197.0 576.0 208.0 C582.7 219.0 591.0 228.0 596.0 239.0 C601.0 250.0 603.8 261.7 606.0 274.0 C608.2 286.3 606.3 302.8 609.0 313.0 C611.7 323.2 617.0 324.7 622.0 335.0 C627.0 345.3 635.7 359.8 639.0 375.0 C642.3 390.2 641.5 411.7 642.0 426.0 C642.5 440.3 638.7 451.7 642.0 461.0 C645.3 470.3 653.2 475.5 662.0 482.0 C670.8 488.5 689.5 497.0 695.0 500.0" fill="none" stroke="#eea878" stroke-width="2.8" stroke-linejoin="round"/><path d="M450.0 -5.0 C451.5 -3.3 451.5 -2.7 459.0 5.0 C466.5 12.7 484.0 29.2 495.0 41.0 C506.0 52.8 515.7 64.2 525.0 76.0 C534.3 87.8 543.3 99.3 551.0 112.0 C558.7 124.7 565.2 139.3 571.0 152.0 C576.8 164.7 581.0 175.3 586.0 188.0 C591.0 200.7 595.8 215.5 601.0 228.0 C606.2 240.5 612.3 250.3 617.0 263.0 C621.7 275.7 624.8 291.2 629.0 304.0 C633.2 316.8 637.3 326.5 642.0 340.0 C646.7 353.5 652.3 370.7 657.0 385.0 C661.7 399.3 666.7 413.3 670.0 426.0 C673.3 438.7 675.0 450.3 677.0 461.0 C679.0 471.7 679.8 480.2 682.0 490.0 C684.2 499.8 688.7 515.0 690.0 520.0" fill="none" stroke="#7070e8" stroke-width="2.8" stroke-linejoin="round"/><path d="M-5.0 515.0 C-3.8 516.2 -2.2 515.7 2.0 522.0 C6.2 528.3 11.8 543.2 20.0 553.0 C28.2 562.8 41.7 575.3 51.0 581.0 C60.3 586.7 66.7 587.8 76.0 587.0 C85.3 586.2 96.0 583.3 107.0 576.0 C118.0 568.7 131.0 553.7 142.0 543.0 C153.0 532.3 163.7 524.7 173.0 512.0 C182.3 499.3 190.5 483.8 198.0 467.0 C205.5 450.2 211.2 427.2 218.0 411.0 C224.8 394.8 231.3 381.5 239.0 370.0 C246.7 358.5 253.0 350.7 264.0 342.0 C275.0 333.3 291.0 322.0 305.0 318.0 C319.0 314.0 339.2 317.3 348.0 318.0 C356.8 318.7 351.3 317.5 358.0 322.0 C364.7 326.5 376.2 335.3 388.0 345.0 C399.8 354.7 417.2 368.2 429.0 380.0 C440.8 391.8 448.8 404.2 459.0 416.0 C469.2 427.8 479.0 438.3 490.0 451.0 C501.0 463.7 514.0 478.3 525.0 492.0 C536.0 505.7 545.8 519.5 556.0 533.0 C566.2 546.5 575.0 560.3 586.0 573.0 C597.0 585.7 614.7 601.2 622.0 609.0 C629.3 616.8 628.7 618.2 630.0 620.0" fill="none" stroke="#7070e8" stroke-width="2.8" stroke-linejoin="round"/></g></g>
<rect x="40.5" y="244.4" width="195.1" height="174.4" fill="none" stroke="#a2a2a2" stroke-width="1"/>
<path d="M68.5 418.8v3.6 M125.5 418.8v3.6 M182.4 418.8v3.6 M40.5 260.5h-3.6 M40.5 299.3h-3.6 M40.5 338.1h-3.6 M40.5 376.9h-3.6 M40.5 415.7h-3.6" stroke="#8c8c8c" stroke-width="0.9" fill="none"/>
<text x="68.5" y="434" font-size="12.0" text-anchor="middle">-5</text>
<text x="125.5" y="434" font-size="12.0" text-anchor="middle">0</text>
<text x="182.4" y="434" font-size="12.0" text-anchor="middle">5</text>
<text transform="translate(32.4,260.5) rotate(-90)" font-size="12.0" text-anchor="middle">2</text>
<text transform="translate(32.4,299.3) rotate(-90)" font-size="12.0" text-anchor="middle">0</text>
<text transform="translate(32.4,338.1) rotate(-90)" font-size="12.0" text-anchor="middle">-2</text>
<text transform="translate(32.4,376.9) rotate(-90)" font-size="12.0" text-anchor="middle">-4</text>
<text transform="translate(32.4,415.7) rotate(-90)" font-size="12.0" text-anchor="middle">-6</text>
<text x="39.2" y="239.2" font-size="16.8">e)</text>
<text x="92.3" y="239.2" font-size="16.8" font-style="italic">Cytisus ardoinii</text>
<g clip-path="url(#clip_f)"><g transform="translate(265,243) scale(0.287591)"><path d="M20.0 40.0 C35.0 10.0 76.7 16.7 100.0 20.0 C123.3 23.3 138.3 45.0 160.0 60.0 C181.7 75.0 203.3 95.0 230.0 110.0 C256.7 125.0 288.3 138.3 320.0 150.0 C351.7 161.7 386.7 168.3 420.0 180.0 C453.3 191.7 490.0 210.0 520.0 220.0 C550.0 230.0 593.3 226.7 600.0 240.0 C606.7 253.3 581.7 281.7 560.0 300.0 C538.3 318.3 500.0 330.0 470.0 350.0 C440.0 370.0 408.3 391.7 380.0 420.0 C351.7 448.3 323.3 490.0 300.0 520.0 C276.7 550.0 273.3 585.0 240.0 600.0 C206.7 615.0 136.7 613.3 100.0 610.0 C63.3 606.7 35.0 615.0 20.0 580.0 C5.0 545.0 11.7 463.3 10.0 400.0 C8.3 336.7 8.3 260.0 10.0 200.0 C11.7 140.0 5.0 70.0 20.0 40.0Z" fill="rgb(120,120,255)" fill-opacity="0.13" filter="url(#f6)"/><ellipse cx="130" cy="148" rx="120" ry="100" transform="rotate(35 130 148)" fill="url(#g18)"/><ellipse cx="137" cy="487" rx="120" ry="100" transform="rotate(10 137 487)" fill="url(#g19)"/><path d="M30.0 205.0 C39.2 192.5 60.0 195.8 80.0 195.0 C100.0 194.2 125.0 197.5 150.0 200.0 C175.0 202.5 205.0 205.8 230.0 210.0 C255.0 214.2 280.0 218.3 300.0 225.0 C320.0 231.7 341.7 240.8 350.0 250.0 C358.3 259.2 358.3 271.7 350.0 280.0 C341.7 288.3 325.0 295.0 300.0 300.0 C275.0 305.0 230.0 309.2 200.0 310.0 C170.0 310.8 143.3 306.7 120.0 305.0 C96.7 303.3 75.8 305.8 60.0 300.0 C44.2 294.2 30.0 285.8 25.0 270.0 C20.0 254.2 20.8 217.5 30.0 205.0Z" fill="rgb(170,140,160)" fill-opacity="0.35" filter="url(#f7)"/><ellipse cx="95" cy="240" rx="100" ry="58" transform="rotate(5 95 240)" fill="url(#g20)"/><ellipse cx="190" cy="258" rx="110" ry="52" transform="rotate(8 190 258)" fill="url(#g21)"/><ellipse cx="310" cy="268" rx="70" ry="38" transform="rotate(0 310 268)" fill="url(#g22)"/><path d="M140.0 -5.0 C141.2 -3.3 141.5 -1.0 147.0 5.0 C152.5 11.0 163.7 21.7 173.0 31.0 C182.3 40.3 192.8 51.0 203.0 61.0 C213.2 71.0 222.2 82.5 234.0 91.0 C245.8 99.5 260.5 105.2 274.0 112.0 C287.5 118.8 302.7 126.2 315.0 132.0 C327.3 137.8 335.8 143.2 348.0 147.0 C360.2 150.8 372.8 151.5 388.0 155.0 C403.2 158.5 422.0 163.3 439.0 168.0 C456.0 172.7 478.2 178.0 490.0 183.0 C501.8 188.0 502.8 192.5 510.0 198.0 C517.2 203.5 519.5 212.8 533.0 216.0 C546.5 219.2 572.8 215.3 591.0 217.0 C609.2 218.7 627.7 222.3 642.0 226.0 C656.3 229.7 669.0 235.7 677.0 239.0 C685.0 242.3 690.0 241.8 690.0 246.0 C690.0 250.2 681.7 257.7 677.0 264.0 C672.3 270.3 669.5 275.8 662.0 284.0 C654.5 292.2 643.8 303.7 632.0 313.0 C620.2 322.3 608.0 329.7 591.0 340.0 C574.0 350.3 551.2 363.2 530.0 375.0 C508.8 386.8 483.5 399.2 464.0 411.0 C444.5 422.8 429.0 435.0 413.0 446.0 C397.0 457.0 380.7 466.8 368.0 477.0 C355.3 487.2 344.2 497.8 337.0 507.0 C329.8 516.2 332.2 521.8 325.0 532.0 C317.8 542.2 304.2 556.0 294.0 568.0 C283.8 580.0 270.5 595.3 264.0 604.0 C257.5 612.7 256.5 617.3 255.0 620.0" fill="none" stroke="#7070e8" stroke-width="2.8" stroke-linejoin="round"/><path d="M32.0 -5.0 C30.8 -3.3 27.8 0.0 25.0 5.0 C22.2 10.0 17.8 17.3 15.0 25.0 C12.2 32.7 9.7 42.5 8.0 51.0 C6.3 59.5 6.0 63.3 5.0 76.0 C4.0 88.7 3.7 106.3 2.0 127.0 C0.3 147.7 -5.0 171.0 -5.0 200.0 C-5.0 229.0 -1.2 281.2 2.0 301.0 C5.2 320.8 9.7 312.5 14.0 319.0 C18.3 325.5 22.7 333.5 28.0 340.0 C33.3 346.5 42.7 351.5 46.0 358.0 C49.3 364.5 51.0 373.7 48.0 379.0 C45.0 384.3 35.7 386.2 28.0 390.0 C20.3 393.8 7.5 399.5 2.0 402.0 C-3.5 404.5 -3.8 404.5 -5.0 405.0" fill="none" stroke="#7070e8" stroke-width="2.8" stroke-linejoin="round"/><path d="M-5.0 588.0 C-3.8 588.8 -1.3 590.0 2.0 593.0 C5.3 596.0 11.7 601.5 15.0 606.0 C18.3 610.5 20.8 617.7 22.0 620.0" fill="none" stroke="#7070e8" stroke-width="2.8" stroke-linejoin="round"/><path d="M51.0 127.0 C51.0 120.2 49.3 97.8 51.0 86.0 C52.7 74.2 55.2 63.2 61.0 56.0 C66.8 48.8 76.7 43.8 86.0 43.0 C95.3 42.2 106.8 45.5 117.0 51.0 C127.2 56.5 137.7 65.8 147.0 76.0 C156.3 86.2 163.7 100.2 173.0 112.0 C182.3 123.8 192.0 137.7 203.0 147.0 C214.0 156.3 227.2 162.0 239.0 168.0 C250.8 174.0 262.2 177.2 274.0 183.0 C285.8 188.8 299.0 196.7 310.0 203.0 C321.0 209.3 333.3 217.0 340.0 221.0 C346.7 225.0 352.5 224.0 350.0 227.0 C347.5 230.0 332.5 233.7 325.0 239.0 C317.5 244.3 310.2 251.5 305.0 259.0 C299.8 266.5 294.5 276.3 294.0 284.0 C293.5 291.7 299.3 295.7 302.0 305.0 C304.7 314.3 305.3 331.3 310.0 340.0 C314.7 348.7 323.7 353.2 330.0 357.0 C336.3 360.8 343.3 360.8 348.0 363.0 C352.7 365.2 355.5 366.3 358.0 370.0 C360.5 373.7 363.8 379.0 363.0 385.0 C362.2 391.0 357.3 400.0 353.0 406.0 C348.7 412.0 343.3 411.8 337.0 421.0 C330.7 430.2 323.8 447.5 315.0 461.0 C306.2 474.5 295.0 489.2 284.0 502.0 C273.0 514.8 260.8 526.2 249.0 538.0 C237.2 549.8 222.3 562.0 213.0 573.0 C203.7 584.0 197.7 596.2 193.0 604.0 C188.3 611.8 186.3 617.3 185.0 620.0" fill="none" stroke="#7070e8" stroke-width="2.8" stroke-dasharray="3.2 6.4" stroke-linejoin="round"/><path d="M51.0 127.0 C50.2 132.8 48.5 151.0 46.0 162.0 C43.5 173.0 38.7 183.7 36.0 193.0 C33.3 202.3 31.0 211.2 30.0 218.0 C29.0 224.8 28.5 225.5 30.0 234.0 C31.5 242.5 33.3 259.0 39.0 269.0 C44.7 279.0 55.2 286.8 64.0 294.0 C72.8 301.2 84.8 306.7 92.0 312.0 C99.2 317.3 103.3 319.5 107.0 326.0 C110.7 332.5 111.3 341.5 114.0 351.0 C116.7 360.5 121.7 374.7 123.0 383.0 C124.3 391.3 125.5 396.3 122.0 401.0 C118.5 405.7 111.3 408.2 102.0 411.0 C92.7 413.8 77.8 414.7 66.0 418.0 C54.2 421.3 41.2 425.5 31.0 431.0 C20.8 436.5 11.0 446.2 5.0 451.0 C-1.0 455.8 -3.3 458.5 -5.0 460.0" fill="none" stroke="#7070e8" stroke-width="2.8" stroke-dasharray="3.2 6.4" stroke-linejoin="round"/><path d="M-5.0 548.0 C-3.8 548.8 -4.0 548.8 2.0 553.0 C8.0 557.2 21.2 566.3 31.0 573.0 C40.8 579.7 52.7 586.5 61.0 593.0 C69.3 599.5 77.0 607.5 81.0 612.0 C85.0 616.5 84.3 618.7 85.0 620.0" fill="none" stroke="#7070e8" stroke-width="2.8" stroke-dasharray="3.2 6.4" stroke-linejoin="round"/><path d="M-5.0 135.0 C-3.8 134.8 -6.5 134.3 2.0 134.0 C10.5 133.7 33.7 131.7 46.0 133.0 C58.3 134.3 65.0 137.5 76.0 142.0 C87.0 146.5 101.0 154.5 112.0 160.0 C123.0 165.5 131.0 172.0 142.0 175.0 C153.0 178.0 165.3 175.8 178.0 178.0 C190.7 180.2 203.7 183.8 218.0 188.0 C232.3 192.2 249.5 198.0 264.0 203.0 C278.5 208.0 291.0 214.2 305.0 218.0 C319.0 221.8 335.8 222.2 348.0 226.0 C360.2 229.8 367.2 237.2 378.0 241.0 C388.8 244.8 398.7 246.0 413.0 249.0 C427.3 252.0 449.5 255.7 464.0 259.0 C478.5 262.3 489.0 265.7 500.0 269.0 C511.0 272.3 521.7 274.8 530.0 279.0 C538.3 283.2 544.5 288.3 550.0 294.0 C555.5 299.7 560.8 308.8 563.0 313.0 C565.2 317.2 565.2 314.5 563.0 319.0 C560.8 323.5 555.5 334.0 550.0 340.0 C544.5 346.0 540.0 350.3 530.0 355.0 C520.0 359.7 505.2 364.7 490.0 368.0 C474.8 371.3 456.0 372.5 439.0 375.0 C422.0 377.5 403.2 380.5 388.0 383.0 C372.8 385.5 363.7 387.7 348.0 390.0 C332.3 392.3 311.5 395.5 294.0 397.0 C276.5 398.5 262.3 399.0 243.0 399.0 C223.7 399.0 192.5 399.7 178.0 397.0 C163.5 394.3 161.3 388.3 156.0 383.0 C150.7 377.7 147.2 370.3 146.0 365.0 C144.8 359.7 148.2 356.3 149.0 351.0 C149.8 345.7 153.8 337.5 151.0 333.0 C148.2 328.5 145.3 325.5 132.0 324.0 C118.7 322.5 88.8 326.7 71.0 324.0 C53.2 321.3 36.2 312.7 25.0 308.0 C13.8 303.3 9.0 299.0 4.0 296.0 C-1.0 293.0 -3.5 291.0 -5.0 290.0" fill="none" stroke="#eea878" stroke-width="2.8" stroke-linejoin="round"/><path d="M-5.0 169.0 C-3.8 168.7 -3.8 168.3 2.0 167.0 C7.8 165.7 19.3 161.0 30.0 161.0 C40.7 161.0 54.2 163.0 66.0 167.0 C77.8 171.0 90.0 179.8 101.0 185.0 C112.0 190.2 120.8 195.5 132.0 198.0 C143.2 200.5 156.2 198.7 168.0 200.0 C179.8 201.3 190.3 203.0 203.0 206.0 C215.7 209.0 230.5 213.5 244.0 218.0 C257.5 222.5 270.5 227.8 284.0 233.0 C297.5 238.2 315.3 244.7 325.0 249.0 C334.7 253.3 335.7 254.8 342.0 259.0 C348.3 263.2 356.2 268.2 363.0 274.0 C369.8 279.8 374.7 289.8 383.0 294.0 C391.3 298.2 401.2 298.0 413.0 299.0 C424.8 300.0 445.5 299.2 454.0 300.0 C462.5 300.8 459.3 300.8 464.0 304.0 C468.7 307.2 480.3 314.0 482.0 319.0 C483.7 324.0 481.2 329.7 474.0 334.0 C466.8 338.3 453.3 341.5 439.0 345.0 C424.7 348.5 403.2 352.2 388.0 355.0 C372.8 357.8 358.5 360.8 348.0 362.0 C337.5 363.2 336.5 361.7 325.0 362.0 C313.5 362.3 292.5 364.3 279.0 364.0 C265.5 363.7 249.8 363.7 244.0 360.0 C238.2 356.3 239.8 348.0 244.0 342.0 C248.2 336.0 258.8 329.5 269.0 324.0 C279.2 318.5 303.3 311.8 305.0 309.0 C306.7 306.2 289.3 307.3 279.0 307.0 C268.7 306.7 254.0 307.0 243.0 307.0 C232.0 307.0 223.8 307.3 213.0 307.0 C202.2 306.7 189.8 306.0 178.0 305.0 C166.2 304.0 153.8 301.8 142.0 301.0 C130.2 300.2 118.8 300.5 107.0 300.0 C95.2 299.5 81.2 299.5 71.0 298.0 C60.8 296.5 54.3 294.7 46.0 291.0 C37.7 287.3 28.0 280.5 21.0 276.0 C14.0 271.5 8.3 267.0 4.0 264.0 C-0.3 261.0 -3.5 259.0 -5.0 258.0" fill="none" stroke="#eea878" stroke-width="2.8" stroke-dasharray="3.2 6.4" stroke-linejoin="round"/></g></g>
<rect x="265.6" y="244.4" width="195.4" height="174.4" fill="none" stroke="#a2a2a2" stroke-width="1"/>
<path d="M270.2 418.8v3.6 M315.2 418.8v3.6 M360.6 418.8v3.6 M405.8 418.8v3.6 M451.2 418.8v3.6 M265.6 252.7h-3.6 M265.6 294.2h-3.6 M265.6 335.4h-3.6 M265.6 376.9h-3.6 M265.6 418.3h-3.6" stroke="#8c8c8c" stroke-width="0.9" fill="none"/>
<text x="270.2" y="434" font-size="12.0" text-anchor="middle">-5</text>
<text x="315.2" y="434" font-size="12.0" text-anchor="middle">0</text>
<text x="360.6" y="434" font-size="12.0" text-anchor="middle">5</text>
<text x="405.8" y="434" font-size="12.0" text-anchor="middle">10</text>
<text x="451.2" y="434" font-size="12.0" text-anchor="middle">15</text>
<text transform="translate(257.5,252.7) rotate(-90)" font-size="12.0" text-anchor="middle">4</text>
<text transform="translate(257.5,294.2) rotate(-90)" font-size="12.0" text-anchor="middle">2</text>
<text transform="translate(257.5,335.4) rotate(-90)" font-size="12.0" text-anchor="middle">0</text>
<text transform="translate(257.5,376.9) rotate(-90)" font-size="12.0" text-anchor="middle">-2</text>
<text transform="translate(257.5,418.3) rotate(-90)" font-size="12.0" text-anchor="middle">-4</text>
<text x="261.8" y="239.2" font-size="16.8">f)</text>
<text x="283.6" y="239.2" font-size="16.8" font-style="italic">Erysimum collisparsum</text>
<g clip-path="url(#clip_g)"><g transform="translate(488,243) scale(0.287591)"><path d="M40.0 440.0 C51.7 410.0 90.0 401.7 120.0 380.0 C150.0 358.3 186.7 333.3 220.0 310.0 C253.3 286.7 286.7 263.3 320.0 240.0 C353.3 216.7 395.0 185.0 420.0 170.0 C445.0 155.0 465.0 140.0 470.0 150.0 C475.0 160.0 460.0 200.0 450.0 230.0 C440.0 260.0 426.7 296.7 410.0 330.0 C393.3 363.3 371.7 400.0 350.0 430.0 C328.3 460.0 305.0 486.7 280.0 510.0 C255.0 533.3 230.0 555.0 200.0 570.0 C170.0 585.0 125.0 601.7 100.0 600.0 C75.0 598.3 60.0 586.7 50.0 560.0 C40.0 533.3 28.3 470.0 40.0 440.0Z" fill="rgb(120,120,255)" fill-opacity="0.08" filter="url(#f8)"/><ellipse cx="300" cy="400" rx="190" ry="70" transform="rotate(-58 300 400)" fill="url(#g23)"/><ellipse cx="300" cy="405" rx="90" ry="38" transform="rotate(-60 300 405)" fill="url(#g24)"/><ellipse cx="170" cy="175" rx="110" ry="45" transform="rotate(-8 170 175)" fill="url(#g25)"/><ellipse cx="285" cy="150" rx="120" ry="42" transform="rotate(-10 285 150)" fill="url(#g26)"/><path d="M-5.0 57.0 C-3.3 57.0 -1.8 56.8 5.0 57.0 C11.8 57.2 24.2 54.3 36.0 58.0 C47.8 61.7 63.3 73.8 76.0 79.0 C88.7 84.2 99.3 86.5 112.0 89.0 C124.7 91.5 138.5 92.3 152.0 94.0 C165.5 95.7 179.3 97.7 193.0 99.0 C206.7 100.3 221.3 102.5 234.0 102.0 C246.7 101.5 257.2 98.2 269.0 96.0 C280.8 93.8 291.8 90.2 305.0 89.0 C318.2 87.8 335.8 91.2 348.0 89.0 C360.2 86.8 366.2 79.3 378.0 76.0 C389.8 72.7 405.5 70.8 419.0 69.0 C432.5 67.2 448.0 64.2 459.0 65.0 C470.0 65.8 480.3 67.0 485.0 74.0 C489.7 81.0 489.7 97.3 487.0 107.0 C484.3 116.7 477.0 123.7 469.0 132.0 C461.0 140.3 450.0 149.3 439.0 157.0 C428.0 164.7 414.8 171.2 403.0 178.0 C391.2 184.8 379.0 193.0 368.0 198.0 C357.0 203.0 349.3 203.0 337.0 208.0 C324.7 213.0 307.8 221.7 294.0 228.0 C280.2 234.3 266.7 240.8 254.0 246.0 C241.3 251.2 230.7 255.5 218.0 259.0 C205.3 262.5 193.2 265.3 178.0 267.0 C162.8 268.7 144.0 270.0 127.0 269.0 C110.0 268.0 91.2 266.0 76.0 261.0 C60.8 256.0 47.8 246.5 36.0 239.0 C24.2 231.5 11.8 220.8 5.0 216.0 C-1.8 211.2 -3.3 211.0 -5.0 210.0" fill="none" stroke="#eea878" stroke-width="2.8" stroke-linejoin="round"/><path d="M-5.0 115.0 C-3.3 114.0 -1.0 112.5 5.0 109.0 C11.0 105.5 20.8 95.2 31.0 94.0 C41.2 92.8 52.5 98.7 66.0 102.0 C79.5 105.3 97.7 110.3 112.0 114.0 C126.3 117.7 138.5 121.0 152.0 124.0 C165.5 127.0 179.3 129.8 193.0 132.0 C206.7 134.2 220.5 137.0 234.0 137.0 C247.5 137.0 260.5 134.5 274.0 132.0 C287.5 129.5 304.5 124.2 315.0 122.0 C325.5 119.8 328.2 120.3 337.0 119.0 C345.8 117.7 357.0 114.8 368.0 114.0 C379.0 113.2 395.8 112.3 403.0 114.0 C410.2 115.7 411.8 119.3 411.0 124.0 C410.2 128.7 405.2 136.5 398.0 142.0 C390.8 147.5 378.2 151.8 368.0 157.0 C357.8 162.2 347.5 167.8 337.0 173.0 C326.5 178.2 317.2 182.5 305.0 188.0 C292.8 193.5 278.5 200.2 264.0 206.0 C249.5 211.8 234.0 217.5 218.0 223.0 C202.0 228.5 185.7 236.0 168.0 239.0 C150.3 242.0 129.0 242.8 112.0 241.0 C95.0 239.2 79.5 234.3 66.0 228.0 C52.5 221.7 41.2 213.0 31.0 203.0 C20.8 193.0 11.0 175.2 5.0 168.0 C-1.0 160.8 -3.3 161.3 -5.0 160.0" fill="none" stroke="#eea878" stroke-width="2.8" stroke-dasharray="3.2 6.4" stroke-linejoin="round"/><path d="M-5.0 416.0 C-3.3 415.2 -2.7 415.3 5.0 411.0 C12.7 406.7 28.3 398.5 41.0 390.0 C53.7 381.5 67.5 369.2 81.0 360.0 C94.5 350.8 108.5 343.8 122.0 335.0 C135.5 326.2 154.3 313.0 162.0 307.0 C169.7 301.0 162.8 304.5 168.0 299.0 C173.2 293.5 183.8 283.2 193.0 274.0 C202.2 264.8 212.8 254.2 223.0 244.0 C233.2 233.8 243.8 222.3 254.0 213.0 C264.2 203.7 274.7 196.5 284.0 188.0 C293.3 179.5 301.2 171.3 310.0 162.0 C318.8 152.7 325.7 140.3 337.0 132.0 C348.3 123.7 364.3 118.8 378.0 112.0 C391.7 105.2 404.7 99.0 419.0 91.0 C433.3 83.0 449.7 71.5 464.0 64.0 C478.3 56.5 490.5 52.0 505.0 46.0 C519.5 40.0 535.0 33.2 551.0 28.0 C567.0 22.8 585.0 18.8 601.0 15.0 C617.0 11.2 637.2 8.3 647.0 5.0 C656.8 1.7 657.8 -3.3 660.0 -5.0" fill="none" stroke="#7070e8" stroke-width="2.8" stroke-linejoin="round"/><path d="M690.0 8.0 C688.8 10.0 687.7 11.2 683.0 20.0 C678.3 28.8 669.7 47.3 662.0 61.0 C654.3 74.7 646.3 88.5 637.0 102.0 C627.7 115.5 617.0 127.7 606.0 142.0 C595.0 156.3 582.0 174.5 571.0 188.0 C560.0 201.5 550.2 211.2 540.0 223.0 C529.8 234.8 519.2 247.2 510.0 259.0 C500.8 270.8 489.7 287.3 485.0 294.0 C480.3 300.7 488.0 290.5 482.0 299.0 C476.0 307.5 457.0 330.7 449.0 345.0 C441.0 359.3 442.5 370.7 434.0 385.0 C425.5 399.3 409.0 415.7 398.0 431.0 C387.0 446.3 378.2 462.7 368.0 477.0 C357.8 491.3 344.2 506.8 337.0 517.0 C329.8 527.2 332.2 529.5 325.0 538.0 C317.8 546.5 305.8 557.0 294.0 568.0 C282.2 579.0 262.0 595.3 254.0 604.0 C246.0 612.7 247.3 617.3 246.0 620.0" fill="none" stroke="#7070e8" stroke-width="2.8" stroke-linejoin="round"/><path d="M-5.0 524.0 C-3.7 525.5 -1.2 527.3 3.0 533.0 C7.2 538.7 15.3 548.0 20.0 558.0 C24.7 568.0 28.8 582.7 31.0 593.0 C33.2 603.3 32.7 615.5 33.0 620.0" fill="none" stroke="#7070e8" stroke-width="2.8" stroke-linejoin="round"/><path d="M80.0 620.0 C79.8 618.7 80.5 619.8 79.0 612.0 C77.5 604.2 74.8 585.3 71.0 573.0 C67.2 560.7 62.7 549.8 56.0 538.0 C49.3 526.2 37.3 513.8 31.0 502.0 C24.7 490.2 19.3 476.3 18.0 467.0 C16.7 457.7 17.5 452.8 23.0 446.0 C28.5 439.2 37.8 434.5 51.0 426.0 C64.2 417.5 85.2 406.0 102.0 395.0 C118.8 384.0 136.8 370.8 152.0 360.0 C167.2 349.2 180.3 340.2 193.0 330.0 C205.7 319.8 217.8 306.7 228.0 299.0 C238.2 291.3 243.8 290.7 254.0 284.0 C264.2 277.3 277.2 267.3 289.0 259.0 C300.8 250.7 315.2 241.7 325.0 234.0 C334.8 226.3 340.8 219.8 348.0 213.0 C355.2 206.2 358.8 201.5 368.0 193.0 C377.2 184.5 391.2 170.0 403.0 162.0 C414.8 154.0 428.0 150.5 439.0 145.0 C450.0 139.5 461.8 130.7 469.0 129.0 C476.2 127.3 481.2 129.5 482.0 135.0 C482.8 140.5 479.5 153.2 474.0 162.0 C468.5 170.8 456.5 179.5 449.0 188.0 C441.5 196.5 431.5 203.7 429.0 213.0 C426.5 222.3 434.0 233.8 434.0 244.0 C434.0 254.2 431.7 264.8 429.0 274.0 C426.3 283.2 424.0 286.3 418.0 299.0 C412.0 311.7 401.3 333.0 393.0 350.0 C384.7 367.0 375.5 384.2 368.0 401.0 C360.5 417.8 356.0 435.8 348.0 451.0 C340.0 466.2 330.7 478.3 320.0 492.0 C309.3 505.7 297.5 520.3 284.0 533.0 C270.5 545.7 252.5 558.0 239.0 568.0 C225.5 578.0 213.2 585.7 203.0 593.0 C192.8 600.3 183.5 607.5 178.0 612.0 C172.5 616.5 171.3 618.7 170.0 620.0" fill="none" stroke="#7070e8" stroke-width="2.8" stroke-dasharray="3.2 6.4" stroke-linejoin="round"/></g></g>
<rect x="489.3" y="244.4" width="195" height="174.4" fill="none" stroke="#a2a2a2" stroke-width="1"/>
<path d="M500.3 418.8v3.6 M541.3 418.8v3.6 M583 418.8v3.6 M625.2 418.8v3.6 M666.6 418.8v3.6 M489.3 250.5h-3.6 M489.3 290.4h-3.6 M489.3 330.3h-3.6 M489.3 370.2h-3.6 M489.3 410.1h-3.6" stroke="#8c8c8c" stroke-width="0.9" fill="none"/>
<text x="500.3" y="434" font-size="12.0" text-anchor="middle">-5</text>
<text x="541.3" y="434" font-size="12.0" text-anchor="middle">0</text>
<text x="583" y="434" font-size="12.0" text-anchor="middle">5</text>
<text x="625.2" y="434" font-size="12.0" text-anchor="middle">10</text>
<text x="666.6" y="434" font-size="12.0" text-anchor="middle">15</text>
<text transform="translate(481.2,250.5) rotate(-90)" font-size="12.0" text-anchor="middle">4</text>
<text transform="translate(481.2,290.4) rotate(-90)" font-size="12.0" text-anchor="middle">2</text>
<text transform="translate(481.2,330.3) rotate(-90)" font-size="12.0" text-anchor="middle">0</text>
<text transform="translate(481.2,370.2) rotate(-90)" font-size="12.0" text-anchor="middle">-2</text>
<text transform="translate(481.2,410.1) rotate(-90)" font-size="12.0" text-anchor="middle">-4</text>
<text x="486.6" y="239.2" font-size="16.8">g)</text>
<text x="530.2" y="239.2" font-size="16.8" font-style="italic">Eryngium spinalba</text>
<g clip-path="url(#clip_h)"><g transform="translate(40,469) scale(0.287591)"><path d="M30.0 420.0 C40.0 399.2 71.7 403.3 100.0 395.0 C128.3 386.7 166.7 378.3 200.0 370.0 C233.3 361.7 263.3 350.8 300.0 345.0 C336.7 339.2 380.0 336.7 420.0 335.0 C460.0 333.3 510.0 330.0 540.0 335.0 C570.0 340.0 593.3 352.5 600.0 365.0 C606.7 377.5 596.7 394.2 580.0 410.0 C563.3 425.8 530.0 443.3 500.0 460.0 C470.0 476.7 433.3 493.3 400.0 510.0 C366.7 526.7 333.3 545.0 300.0 560.0 C266.7 575.0 233.3 595.0 200.0 600.0 C166.7 605.0 126.7 603.3 100.0 590.0 C73.3 576.7 51.7 548.3 40.0 520.0 C28.3 491.7 20.0 440.8 30.0 420.0Z" fill="rgb(120,120,255)" fill-opacity="0.09" filter="url(#f9)"/><path d="M160.0 60.0 C176.7 45.0 220.0 42.5 250.0 40.0 C280.0 37.5 311.7 41.7 340.0 45.0 C368.3 48.3 400.0 52.5 420.0 60.0 C440.0 67.5 463.3 83.3 460.0 90.0 C456.7 96.7 426.7 95.0 400.0 100.0 C373.3 105.0 330.0 111.7 300.0 120.0 C270.0 128.3 241.7 141.7 220.0 150.0 C198.3 158.3 181.7 173.3 170.0 170.0 C158.3 166.7 151.7 148.3 150.0 130.0 C148.3 111.7 143.3 75.0 160.0 60.0Z" fill="rgb(120,120,255)" fill-opacity="0.05" filter="url(#f10)"/><path d="M50.0 260.0 C55.0 239.2 66.7 225.8 80.0 220.0 C93.3 214.2 110.0 220.8 130.0 225.0 C150.0 229.2 176.7 238.3 200.0 245.0 C223.3 251.7 254.2 257.5 270.0 265.0 C285.8 272.5 296.7 281.7 295.0 290.0 C293.3 298.3 279.2 307.5 260.0 315.0 C240.8 322.5 206.7 329.2 180.0 335.0 C153.3 340.8 121.7 348.3 100.0 350.0 C78.3 351.7 58.3 360.0 50.0 345.0 C41.7 330.0 45.0 280.8 50.0 260.0Z" fill="rgb(236,138,92)" fill-opacity="0.06" filter="url(#f11)"/><ellipse cx="330" cy="440" rx="240" ry="95" transform="rotate(-18 330 440)" fill="url(#g27)"/><ellipse cx="389" cy="420" rx="135" ry="68" transform="rotate(-15 389 420)" fill="url(#g28)"/><ellipse cx="200" cy="400" rx="170" ry="45" transform="rotate(-15 200 400)" fill="url(#g29)"/><ellipse cx="318" cy="354" rx="100" ry="34" transform="rotate(-6 318 354)" fill="url(#g30)"/><path d="M150.0 -5.0 C150.8 -3.3 154.7 -3.5 155.0 5.0 C155.3 13.5 155.8 35.0 152.0 46.0 C148.2 57.0 139.5 61.7 132.0 71.0 C124.5 80.3 113.8 91.0 107.0 102.0 C100.2 113.0 94.0 124.3 91.0 137.0 C88.0 149.7 89.3 164.5 89.0 178.0 C88.7 191.5 87.8 207.0 89.0 218.0 C90.2 229.0 91.3 236.3 96.0 244.0 C100.7 251.7 108.5 259.8 117.0 264.0 C125.5 268.2 136.8 269.8 147.0 269.0 C157.2 268.2 169.5 264.8 178.0 259.0 C186.5 253.2 191.3 243.3 198.0 234.0 C204.7 224.7 210.3 212.3 218.0 203.0 C225.7 193.7 234.7 184.8 244.0 178.0 C253.3 171.2 262.2 166.7 274.0 162.0 C285.8 157.3 302.7 153.7 315.0 150.0 C327.3 146.3 339.2 142.5 348.0 140.0 C356.8 137.5 358.8 134.7 368.0 135.0 C377.2 135.3 392.0 137.5 403.0 142.0 C414.0 146.5 424.7 154.3 434.0 162.0 C443.3 169.7 449.7 180.3 459.0 188.0 C468.3 195.7 478.2 203.3 490.0 208.0 C501.8 212.7 516.5 216.0 530.0 216.0 C543.5 216.0 558.3 212.7 571.0 208.0 C583.7 203.3 596.7 196.5 606.0 188.0 C615.3 179.5 624.3 165.5 627.0 157.0 C629.7 148.5 628.0 144.5 622.0 137.0 C616.0 129.5 598.7 118.8 591.0 112.0 C583.3 105.2 580.2 102.8 576.0 96.0 C571.8 89.2 572.0 78.5 566.0 71.0 C560.0 63.5 551.0 57.7 540.0 51.0 C529.0 44.3 512.7 37.0 500.0 31.0 C487.3 25.0 474.2 19.3 464.0 15.0 C453.8 10.7 444.7 8.3 439.0 5.0 C433.3 1.7 431.5 -3.3 430.0 -5.0" fill="none" stroke="#7070e8" stroke-width="2.8" stroke-linejoin="round"/><path d="M348.0 71.0 C337.5 72.7 326.5 80.0 315.0 86.0 C303.5 92.0 291.7 100.2 279.0 107.0 C266.3 113.8 251.7 119.5 239.0 127.0 C226.3 134.5 214.0 143.5 203.0 152.0 C192.0 160.5 182.3 174.5 173.0 178.0 C163.7 181.5 153.0 178.2 147.0 173.0 C141.0 167.8 137.0 156.3 137.0 147.0 C137.0 137.7 141.0 127.2 147.0 117.0 C153.0 106.8 163.7 96.2 173.0 86.0 C182.3 75.8 192.8 65.2 203.0 56.0 C213.2 46.8 222.2 35.7 234.0 31.0 C245.8 26.3 260.5 28.0 274.0 28.0 C287.5 28.0 304.5 30.2 315.0 31.0 C325.5 31.8 324.8 31.0 337.0 33.0 C349.2 35.0 371.0 38.8 388.0 43.0 C405.0 47.2 424.7 52.8 439.0 58.0 C453.3 63.2 466.0 68.5 474.0 74.0 C482.0 79.5 486.2 85.5 487.0 91.0 C487.8 96.5 485.3 104.3 479.0 107.0 C472.7 109.7 460.0 109.7 449.0 107.0 C438.0 104.3 424.8 96.2 413.0 91.0 C401.2 85.8 388.8 79.3 378.0 76.0 C367.2 72.7 358.5 69.3 348.0 71.0Z" fill="none" stroke="#7070e8" stroke-width="2.8" stroke-dasharray="3.2 6.4" stroke-linejoin="round"/><path d="M-5.0 386.0 C-3.8 385.2 -2.8 384.5 2.0 381.0 C6.8 377.5 16.2 368.7 24.0 365.0 C31.8 361.3 34.7 360.0 49.0 359.0 C63.3 358.0 94.5 361.2 110.0 359.0 C125.5 356.8 129.8 350.5 142.0 346.0 C154.2 341.5 169.5 336.0 183.0 332.0 C196.5 328.0 211.2 325.5 223.0 322.0 C234.8 318.5 244.8 314.0 254.0 311.0 C263.2 308.0 270.3 306.3 278.0 304.0 C285.7 301.7 288.7 298.8 300.0 297.0 C311.3 295.2 330.8 293.0 346.0 293.0 C361.2 293.0 375.8 295.5 391.0 297.0 C406.2 298.5 421.7 302.7 437.0 302.0 C452.3 301.3 469.0 295.0 483.0 293.0 C497.0 291.0 511.5 290.7 521.0 290.0 C530.5 289.3 528.3 288.3 540.0 289.0 C551.7 289.7 580.8 292.3 591.0 294.0 C601.2 295.7 592.5 295.7 601.0 299.0 C609.5 302.3 630.2 308.8 642.0 314.0 C653.8 319.2 665.2 324.0 672.0 330.0 C678.8 336.0 682.2 341.7 683.0 350.0 C683.8 358.3 682.2 370.7 677.0 380.0 C671.8 389.3 663.0 397.5 652.0 406.0 C641.0 414.5 624.5 422.7 611.0 431.0 C597.5 439.3 584.5 447.5 571.0 456.0 C557.5 464.5 545.3 472.7 530.0 482.0 C514.7 491.3 495.8 502.7 479.0 512.0 C462.2 521.3 445.8 529.5 429.0 538.0 C412.2 546.5 393.3 555.8 378.0 563.0 C362.7 570.2 347.5 575.2 337.0 581.0 C326.5 586.8 324.7 592.8 315.0 598.0 C305.3 603.2 286.5 608.3 279.0 612.0 C271.5 615.7 271.5 618.7 270.0 620.0" fill="none" stroke="#7070e8" stroke-width="2.8" stroke-linejoin="round"/><path d="M-5.0 550.0 C-3.7 551.3 -1.2 552.5 3.0 558.0 C7.2 563.5 12.0 575.0 20.0 583.0 C28.0 591.0 44.7 599.8 51.0 606.0 C57.3 612.2 56.8 617.7 58.0 620.0" fill="none" stroke="#7070e8" stroke-width="2.8" stroke-linejoin="round"/><path d="M16.0 426.0 C17.5 420.0 18.5 410.2 24.0 405.0 C29.5 399.8 39.5 396.7 49.0 395.0 C58.5 393.3 70.2 394.7 81.0 395.0 C91.8 395.3 101.8 398.7 114.0 397.0 C126.2 395.3 140.5 389.0 154.0 385.0 C167.5 381.0 181.3 377.0 195.0 373.0 C208.7 369.0 222.2 365.5 236.0 361.0 C249.8 356.5 267.3 349.0 278.0 346.0 C288.7 343.0 288.7 344.0 300.0 343.0 C311.3 342.0 330.8 340.5 346.0 340.0 C361.2 339.5 375.5 341.3 391.0 340.0 C406.5 338.7 422.5 334.0 439.0 332.0 C455.5 330.0 473.2 328.0 490.0 328.0 C506.8 328.0 524.8 329.2 540.0 332.0 C555.2 334.8 570.8 339.5 581.0 345.0 C591.2 350.5 598.5 358.3 601.0 365.0 C603.5 371.7 600.2 378.2 596.0 385.0 C591.8 391.8 583.5 399.2 576.0 406.0 C568.5 412.8 560.3 418.5 551.0 426.0 C541.7 433.5 532.0 442.5 520.0 451.0 C508.0 459.5 494.2 468.5 479.0 477.0 C463.8 485.5 445.8 493.7 429.0 502.0 C412.2 510.3 393.3 519.3 378.0 527.0 C362.7 534.7 351.0 541.2 337.0 548.0 C323.0 554.8 309.5 561.3 294.0 568.0 C278.5 574.7 260.8 582.0 244.0 588.0 C227.2 594.0 207.0 600.0 193.0 604.0 C179.0 608.0 170.2 611.3 160.0 612.0 C149.8 612.7 141.7 611.2 132.0 608.0 C122.3 604.8 113.0 599.7 102.0 593.0 C91.0 586.3 76.2 578.0 66.0 568.0 C55.8 558.0 47.8 545.7 41.0 533.0 C34.2 520.3 29.3 507.3 25.0 492.0 C20.7 476.7 16.5 452.0 15.0 441.0 C13.5 430.0 14.5 432.0 16.0 426.0Z" fill="none" stroke="#7070e8" stroke-width="2.8" stroke-dasharray="3.2 6.4" stroke-linejoin="round"/><path d="M-5.0 268.0 C-3.8 267.3 -1.3 270.7 2.0 264.0 C5.3 257.3 13.2 238.2 15.0 228.0 C16.8 217.8 11.3 213.0 13.0 203.0 C14.7 193.0 20.3 176.5 25.0 168.0 C29.7 159.5 34.2 155.0 41.0 152.0 C47.8 149.0 57.7 148.7 66.0 150.0 C74.3 151.3 81.7 154.5 91.0 160.0 C100.3 165.5 111.8 175.8 122.0 183.0 C132.2 190.2 141.8 197.5 152.0 203.0 C162.2 208.5 172.0 212.2 183.0 216.0 C194.0 219.8 206.2 223.0 218.0 226.0 C229.8 229.0 242.2 231.0 254.0 234.0 C265.8 237.0 278.8 239.8 289.0 244.0 C299.2 248.2 308.7 253.2 315.0 259.0 C321.3 264.8 324.5 272.2 327.0 279.0 C329.5 285.8 329.8 295.5 330.0 300.0 C330.2 304.5 323.2 305.3 328.0 306.0 C332.8 306.7 347.0 304.8 359.0 304.0 C371.0 303.2 387.0 301.0 400.0 301.0 C413.0 301.0 426.3 300.2 437.0 304.0 C447.7 307.8 458.2 316.3 464.0 324.0 C469.8 331.7 470.3 344.5 472.0 350.0 C473.7 355.5 477.8 353.7 474.0 357.0 C470.2 360.3 459.2 366.2 449.0 370.0 C438.8 373.8 424.8 376.2 413.0 380.0 C401.2 383.8 390.7 389.2 378.0 393.0 C365.3 396.8 351.5 397.7 337.0 403.0 C322.5 408.3 306.3 418.3 291.0 425.0 C275.7 431.7 259.7 438.2 245.0 443.0 C230.3 447.8 216.8 450.5 203.0 454.0 C189.2 457.5 175.5 461.3 162.0 464.0 C148.5 466.7 135.5 467.7 122.0 470.0 C108.5 472.3 94.5 476.0 81.0 478.0 C67.5 480.0 51.2 484.0 41.0 482.0 C30.8 480.0 24.2 472.7 20.0 466.0 C15.8 459.3 17.3 450.0 16.0 442.0 C14.7 434.0 14.3 424.2 12.0 418.0 C9.7 411.8 4.8 408.0 2.0 405.0 C-0.8 402.0 -3.8 400.8 -5.0 400.0" fill="none" stroke="#eea878" stroke-width="2.8" stroke-linejoin="round"/><path d="M96.0 208.0 C103.7 207.2 115.0 213.7 127.0 218.0 C139.0 222.3 153.7 228.8 168.0 234.0 C182.3 239.2 197.8 244.8 213.0 249.0 C228.2 253.2 246.3 255.7 259.0 259.0 C271.7 262.3 281.8 264.8 289.0 269.0 C296.2 273.2 300.2 278.8 302.0 284.0 C303.8 289.2 302.7 296.3 300.0 300.0 C297.3 303.7 293.7 303.0 286.0 306.0 C278.3 309.0 264.7 314.3 254.0 318.0 C243.3 321.7 231.8 325.7 222.0 328.0 C212.2 330.3 206.3 329.3 195.0 332.0 C183.7 334.7 167.5 340.0 154.0 344.0 C140.5 348.0 126.2 353.2 114.0 356.0 C101.8 358.8 92.5 360.8 81.0 361.0 C69.5 361.2 52.0 362.5 45.0 357.0 C38.0 351.5 40.0 337.5 39.0 328.0 C38.0 318.5 37.3 309.5 39.0 300.0 C40.7 290.5 45.3 278.7 49.0 271.0 C52.7 263.3 55.7 262.0 61.0 254.0 C66.3 246.0 75.2 230.7 81.0 223.0 C86.8 215.3 88.3 208.8 96.0 208.0Z" fill="none" stroke="#eea878" stroke-width="2.8" stroke-dasharray="3.2 6.4" stroke-linejoin="round"/><path d="M41.0 426.0 C42.7 422.0 42.3 422.2 49.0 418.0 C55.7 413.8 68.8 406.2 81.0 401.0 C93.2 395.8 108.5 391.7 122.0 387.0 C135.5 382.3 148.5 377.3 162.0 373.0 C175.5 368.7 189.3 365.2 203.0 361.0 C216.7 356.8 231.5 352.5 244.0 348.0 C256.5 343.5 264.8 337.7 278.0 334.0 C291.2 330.3 313.2 328.0 323.0 326.0 C332.8 324.0 327.8 322.5 337.0 322.0 C346.2 321.5 367.0 320.8 378.0 323.0 C389.0 325.2 399.2 330.5 403.0 335.0 C406.8 339.5 405.2 345.3 401.0 350.0 C396.8 354.7 388.7 358.8 378.0 363.0 C367.3 367.2 345.8 369.7 337.0 375.0 C328.2 380.3 334.7 389.5 325.0 395.0 C315.3 400.5 292.5 404.2 279.0 408.0 C265.5 411.8 256.7 413.7 244.0 418.0 C231.3 422.3 216.7 429.7 203.0 434.0 C189.3 438.3 175.5 441.7 162.0 444.0 C148.5 446.3 135.5 446.3 122.0 448.0 C108.5 449.7 92.5 452.7 81.0 454.0 C69.5 455.3 60.0 458.0 53.0 456.0 C46.0 454.0 41.0 447.0 39.0 442.0 C37.0 437.0 39.3 430.0 41.0 426.0Z" fill="none" stroke="#eea878" stroke-width="2.8" stroke-dasharray="3.2 6.4" stroke-linejoin="round"/></g></g>
<rect x="40.5" y="470.6" width="195.1" height="174.5" fill="none" stroke="#a2a2a2" stroke-width="1"/>
<path d="M65.9 645.1v3.6 M112 645.1v3.6 M158.4 645.1v3.6 M205.4 645.1v3.6 M40.5 496.1h-3.6 M40.5 536h-3.6 M40.5 575.7h-3.6 M40.5 615.4h-3.6" stroke="#8c8c8c" stroke-width="0.9" fill="none"/>
<text x="65.9" y="660.3" font-size="12.0" text-anchor="middle">-5</text>
<text x="112" y="660.3" font-size="12.0" text-anchor="middle">0</text>
<text x="158.4" y="660.3" font-size="12.0" text-anchor="middle">5</text>
<text x="205.4" y="660.3" font-size="12.0" text-anchor="middle">10</text>
<text transform="translate(32.4,496.1) rotate(-90)" font-size="12.0" text-anchor="middle">4</text>
<text transform="translate(32.4,536) rotate(-90)" font-size="12.0" text-anchor="middle">2</text>
<text transform="translate(32.4,575.7) rotate(-90)" font-size="12.0" text-anchor="middle">0</text>
<text transform="translate(32.4,615.4) rotate(-90)" font-size="12.0" text-anchor="middle">-2</text>
<text x="37.9" y="466.9" font-size="16.8">h)</text>
<text x="79.4" y="466.9" font-size="16.8" font-style="italic">Gentiana alpina</text>
<g clip-path="url(#clip_i)"><g transform="translate(265,469) scale(0.287591)"><path d="M30.0 215.0 C40.0 193.3 71.7 191.7 100.0 190.0 C128.3 188.3 166.7 199.2 200.0 205.0 C233.3 210.8 266.7 219.2 300.0 225.0 C333.3 230.8 375.0 232.5 400.0 240.0 C425.0 247.5 446.7 260.0 450.0 270.0 C453.3 280.0 445.0 294.2 420.0 300.0 C395.0 305.8 328.3 301.7 300.0 305.0 C271.7 308.3 263.3 310.8 250.0 320.0 C236.7 329.2 231.7 343.3 220.0 360.0 C208.3 376.7 198.3 400.0 180.0 420.0 C161.7 440.0 126.7 471.7 110.0 480.0 C93.3 488.3 86.7 486.7 80.0 470.0 C73.3 453.3 76.7 405.0 70.0 380.0 C63.3 355.0 46.7 347.5 40.0 320.0 C33.3 292.5 20.0 236.7 30.0 215.0Z" fill="rgb(120,120,255)" fill-opacity="0.07" filter="url(#f12)"/><path d="M110.0 60.0 C125.0 50.0 171.7 53.3 200.0 60.0 C228.3 66.7 255.0 88.3 280.0 100.0 C305.0 111.7 325.0 118.3 350.0 130.0 C375.0 141.7 405.0 155.0 430.0 170.0 C455.0 185.0 485.0 205.0 500.0 220.0 C515.0 235.0 528.3 251.7 520.0 260.0 C511.7 268.3 478.3 271.7 450.0 270.0 C421.7 268.3 383.3 258.3 350.0 250.0 C316.7 241.7 283.3 231.7 250.0 220.0 C216.7 208.3 173.3 196.7 150.0 180.0 C126.7 163.3 116.7 140.0 110.0 120.0 C103.3 100.0 95.0 70.0 110.0 60.0Z" fill="rgb(236,138,92)" fill-opacity="0.07" filter="url(#f13)"/><ellipse cx="300" cy="170" rx="180" ry="65" transform="rotate(25 300 170)" fill="url(#g31)"/><ellipse cx="360" cy="200" rx="110" ry="50" transform="rotate(22 360 200)" fill="url(#g32)"/><ellipse cx="330" cy="280" rx="160" ry="50" transform="rotate(14 330 280)" fill="url(#g33)"/><ellipse cx="345" cy="270" rx="100" ry="32" transform="rotate(14 345 270)" fill="url(#g34)"/><ellipse cx="400" cy="245" rx="80" ry="30" transform="rotate(20 400 245)" fill="url(#g35)"/><path d="M52.0 -5.0 C51.0 -3.3 49.2 0.0 46.0 5.0 C42.8 10.0 35.5 17.3 33.0 25.0 C30.5 32.7 29.7 40.8 31.0 51.0 C32.3 61.2 42.8 77.5 41.0 86.0 C39.2 94.5 26.5 96.5 20.0 102.0 C13.5 107.5 6.2 115.2 2.0 119.0 C-2.2 122.8 -3.8 124.0 -5.0 125.0" fill="none" stroke="#eea878" stroke-width="2.8" stroke-linejoin="round"/><path d="M-5.0 187.0 C-3.8 187.5 -4.0 187.3 2.0 190.0 C8.0 192.7 18.7 198.3 31.0 203.0 C43.3 207.7 60.0 212.8 76.0 218.0 C92.0 223.2 110.0 228.8 127.0 234.0 C144.0 239.2 161.2 244.0 178.0 249.0 C194.8 254.0 211.2 259.3 228.0 264.0 C244.8 268.7 260.8 272.7 279.0 277.0 C297.2 281.3 318.8 286.2 337.0 290.0 C355.2 293.8 371.0 297.5 388.0 300.0 C405.0 302.5 422.0 302.8 439.0 305.0 C456.0 307.2 473.2 310.3 490.0 313.0 C506.8 315.7 527.3 318.8 540.0 321.0 C552.7 323.2 556.7 323.2 566.0 326.0 C575.3 328.8 583.3 336.0 596.0 338.0 C608.7 340.0 630.2 339.7 642.0 338.0 C653.8 336.3 661.5 333.0 667.0 328.0 C672.5 323.0 675.0 315.7 675.0 308.0 C675.0 300.3 672.5 289.7 667.0 282.0 C661.5 274.3 650.3 267.5 642.0 262.0 C633.7 256.5 628.0 256.3 617.0 249.0 C606.0 241.7 590.5 228.2 576.0 218.0 C561.5 207.8 546.2 199.0 530.0 188.0 C513.8 177.0 495.8 163.0 479.0 152.0 C462.2 141.0 445.8 131.7 429.0 122.0 C412.2 112.3 393.3 103.3 378.0 94.0 C362.7 84.7 349.2 73.2 337.0 66.0 C324.8 58.8 317.2 57.8 305.0 51.0 C292.8 44.2 277.7 32.7 264.0 25.0 C250.3 17.3 231.2 10.0 223.0 5.0 C214.8 0.0 216.3 -3.3 215.0 -5.0" fill="none" stroke="#eea878" stroke-width="2.8" stroke-linejoin="round"/><path d="M81.0 31.0 C87.0 27.2 97.5 28.0 112.0 28.0 C126.5 28.0 151.2 27.2 168.0 31.0 C184.8 34.8 198.7 44.3 213.0 51.0 C227.3 57.7 240.5 63.8 254.0 71.0 C267.5 78.2 280.2 86.3 294.0 94.0 C307.8 101.7 321.3 109.0 337.0 117.0 C352.7 125.0 371.0 132.7 388.0 142.0 C405.0 151.3 422.0 162.8 439.0 173.0 C456.0 183.2 474.0 192.8 490.0 203.0 C506.0 213.2 524.8 224.7 535.0 234.0 C545.2 243.3 550.2 252.3 551.0 259.0 C551.8 265.7 546.8 270.7 540.0 274.0 C533.2 277.3 518.3 278.0 510.0 279.0 C501.7 280.0 501.8 280.3 490.0 280.0 C478.2 279.7 451.8 278.8 439.0 277.0 C426.2 275.2 425.7 271.7 413.0 269.0 C400.3 266.3 375.7 262.7 363.0 261.0 C350.3 259.3 346.7 262.7 337.0 259.0 C327.3 255.3 318.8 245.0 305.0 239.0 C291.2 233.0 271.0 228.2 254.0 223.0 C237.0 217.8 220.0 213.8 203.0 208.0 C186.0 202.2 168.8 193.0 152.0 188.0 C135.2 183.0 118.0 180.5 102.0 178.0 C86.0 175.5 67.5 175.7 56.0 173.0 C44.5 170.3 36.8 167.2 33.0 162.0 C29.2 156.8 30.8 147.5 33.0 142.0 C35.2 136.5 38.8 131.5 46.0 129.0 C53.2 126.5 66.7 127.0 76.0 127.0 C85.3 127.0 95.2 129.0 102.0 129.0 C108.8 129.0 116.2 131.5 117.0 127.0 C117.8 122.5 112.2 110.5 107.0 102.0 C101.8 93.5 91.2 84.5 86.0 76.0 C80.8 67.5 76.8 58.5 76.0 51.0 C75.2 43.5 75.0 34.8 81.0 31.0Z" fill="none" stroke="#eea878" stroke-width="2.8" stroke-dasharray="3.2 6.4" stroke-linejoin="round"/><path d="M-5.0 184.0 C-3.8 183.8 -4.8 183.7 2.0 183.0 C8.8 182.3 26.2 183.8 36.0 180.0 C45.8 176.2 51.8 164.2 61.0 160.0 C70.2 155.8 80.0 155.0 91.0 155.0 C102.0 155.0 112.5 157.0 127.0 160.0 C141.5 163.0 161.2 168.3 178.0 173.0 C194.8 177.7 211.2 183.3 228.0 188.0 C244.8 192.7 260.8 198.0 279.0 201.0 C297.2 204.0 318.8 204.0 337.0 206.0 C355.2 208.0 371.0 209.3 388.0 213.0 C405.0 216.7 422.0 222.5 439.0 228.0 C456.0 233.5 479.8 242.8 490.0 246.0 C500.2 249.2 493.3 245.2 500.0 247.0 C506.7 248.8 524.5 252.8 530.0 257.0 C535.5 261.2 534.7 265.2 533.0 272.0 C531.3 278.8 526.3 290.8 520.0 298.0 C513.7 305.2 504.3 310.3 495.0 315.0 C485.7 319.7 477.7 324.2 464.0 326.0 C450.3 327.8 429.8 326.7 413.0 326.0 C396.2 325.3 373.8 323.2 363.0 322.0 C352.2 320.8 352.7 318.7 348.0 319.0 C343.3 319.3 338.0 320.5 335.0 324.0 C332.0 327.5 335.0 334.5 330.0 340.0 C325.0 345.5 315.2 352.0 305.0 357.0 C294.8 362.0 279.2 365.7 269.0 370.0 C258.8 374.3 249.8 375.3 244.0 383.0 C238.2 390.7 239.2 403.0 234.0 416.0 C228.8 429.0 220.7 445.0 213.0 461.0 C205.3 477.0 195.5 495.0 188.0 512.0 C180.5 529.0 173.5 546.3 168.0 563.0 C162.5 579.7 157.5 602.5 155.0 612.0 C152.5 621.5 153.3 618.7 153.0 620.0" fill="none" stroke="#7070e8" stroke-width="2.8" stroke-linejoin="round"/><path d="M-5.0 282.0 C-3.8 283.2 -0.5 286.2 2.0 289.0 C4.5 291.8 6.2 291.3 10.0 299.0 C13.8 306.7 21.2 322.3 25.0 335.0 C28.8 347.7 30.8 355.7 33.0 375.0 C35.2 394.3 38.0 429.8 38.0 451.0 C38.0 472.2 33.3 485.0 33.0 502.0 C32.7 519.0 33.0 538.7 36.0 553.0 C39.0 567.3 44.3 581.3 51.0 588.0 C57.7 594.7 68.5 593.8 76.0 593.0 C83.5 592.2 91.3 582.0 96.0 583.0 C100.7 584.0 101.8 594.2 104.0 599.0 C106.2 603.8 107.8 608.5 109.0 612.0 C110.2 615.5 110.7 618.7 111.0 620.0" fill="none" stroke="#7070e8" stroke-width="2.8" stroke-linejoin="round"/><path d="M25.0 213.0 C31.3 207.8 51.7 213.0 61.0 208.0 C70.3 203.0 73.3 188.0 81.0 183.0 C88.7 178.0 95.2 177.7 107.0 178.0 C118.8 178.3 136.0 181.2 152.0 185.0 C168.0 188.8 186.0 196.3 203.0 201.0 C220.0 205.7 237.0 209.7 254.0 213.0 C271.0 216.3 291.2 219.3 305.0 221.0 C318.8 222.7 323.2 221.3 337.0 223.0 C350.8 224.7 372.7 227.5 388.0 231.0 C403.3 234.5 418.0 239.3 429.0 244.0 C440.0 248.7 448.2 253.5 454.0 259.0 C459.8 264.5 463.2 271.2 464.0 277.0 C464.8 282.8 463.2 289.3 459.0 294.0 C454.8 298.7 450.8 303.3 439.0 305.0 C427.2 306.7 405.0 304.3 388.0 304.0 C371.0 303.7 350.8 303.7 337.0 303.0 C323.2 302.3 314.7 300.2 305.0 300.0 C295.3 299.8 288.3 301.3 279.0 302.0 C269.7 302.7 254.0 301.2 249.0 304.0 C244.0 306.8 249.8 313.0 249.0 319.0 C248.2 325.0 249.2 334.0 244.0 340.0 C238.8 346.0 224.8 350.0 218.0 355.0 C211.2 360.0 207.2 360.7 203.0 370.0 C198.8 379.3 198.0 400.0 193.0 411.0 C188.0 422.0 183.2 428.5 173.0 436.0 C162.8 443.5 143.8 448.3 132.0 456.0 C120.2 463.7 110.5 474.3 102.0 482.0 C93.5 489.7 83.7 505.5 81.0 502.0 C78.3 498.5 84.3 473.7 86.0 461.0 C87.7 448.3 90.2 438.7 91.0 426.0 C91.8 413.3 94.3 395.2 91.0 385.0 C87.7 374.8 77.7 374.2 71.0 365.0 C64.3 355.8 57.3 341.0 51.0 330.0 C44.7 319.0 37.3 309.2 33.0 299.0 C28.7 288.8 26.7 279.0 25.0 269.0 C23.3 259.0 23.0 248.3 23.0 239.0 C23.0 229.7 18.7 218.2 25.0 213.0Z" fill="none" stroke="#7070e8" stroke-width="2.8" stroke-dasharray="3.2 6.4" stroke-linejoin="round"/></g></g>
<rect x="265.6" y="470.6" width="195.4" height="174.5" fill="none" stroke="#a2a2a2" stroke-width="1"/>
<path d="M295.4 645.1v3.6 M338.9 645.1v3.6 M382.2 645.1v3.6 M427 645.1v3.6 M265.6 499.2h-3.6 M265.6 531.2h-3.6 M265.6 563.3h-3.6 M265.6 595.2h-3.6 M265.6 626.9h-3.6" stroke="#8c8c8c" stroke-width="0.9" fill="none"/>
<text x="295.4" y="660.3" font-size="12.0" text-anchor="middle">-5</text>
<text x="338.9" y="660.3" font-size="12.0" text-anchor="middle">0</text>
<text x="382.2" y="660.3" font-size="12.0" text-anchor="middle">5</text>
<text x="427" y="660.3" font-size="12.0" text-anchor="middle">10</text>
<text transform="translate(257.5,499.2) rotate(-90)" font-size="12.0" text-anchor="middle">2</text>
<text transform="translate(257.5,531.2) rotate(-90)" font-size="12.0" text-anchor="middle">0</text>
<text transform="translate(257.5,563.3) rotate(-90)" font-size="12.0" text-anchor="middle">-2</text>
<text transform="translate(257.5,595.2) rotate(-90)" font-size="12.0" text-anchor="middle">-4</text>
<text transform="translate(257.5,626.9) rotate(-90)" font-size="12.0" text-anchor="middle">-6</text>
<text x="263" y="466.9" font-size="16.8">i)</text>
<text x="301.9" y="466.9" font-size="16.8" font-style="italic">Potentilla nivalis</text>
<g clip-path="url(#clip_j)"><g transform="translate(488,469) scale(0.287591)"><path d="M40.0 130.0 C53.3 110.0 85.0 93.3 120.0 80.0 C155.0 66.7 203.3 56.7 250.0 50.0 C296.7 43.3 365.0 38.3 400.0 40.0 C435.0 41.7 451.7 41.7 460.0 60.0 C468.3 78.3 456.7 121.7 450.0 150.0 C443.3 178.3 431.7 201.7 420.0 230.0 C408.3 258.3 400.0 288.3 380.0 320.0 C360.0 351.7 326.7 388.3 300.0 420.0 C273.3 451.7 245.0 485.0 220.0 510.0 C195.0 535.0 173.3 558.3 150.0 570.0 C126.7 581.7 88.3 588.3 80.0 580.0 C71.7 571.7 88.3 543.3 100.0 520.0 C111.7 496.7 133.3 463.3 150.0 440.0 C166.7 416.7 178.3 403.3 200.0 380.0 C221.7 356.7 260.0 326.7 280.0 300.0 C300.0 273.3 325.0 240.0 320.0 220.0 C315.0 200.0 283.3 185.0 250.0 180.0 C216.7 175.0 155.0 186.7 120.0 190.0 C85.0 193.3 53.3 210.0 40.0 200.0 C26.7 190.0 26.7 150.0 40.0 130.0Z" fill="rgb(120,120,255)" fill-opacity="0.07" filter="url(#f14)"/><ellipse cx="120" cy="160" rx="100" ry="50" transform="rotate(0 120 160)" fill="url(#g36)"/><ellipse cx="290" cy="100" rx="160" ry="55" transform="rotate(-6 290 100)" fill="url(#g37)"/><ellipse cx="200" cy="120" rx="120" ry="42" transform="rotate(-3 200 120)" fill="url(#g38)"/><ellipse cx="218" cy="120" rx="60" ry="22" transform="rotate(0 218 120)" fill="url(#g39)"/><path d="M-5.0 85.0 C-3.3 83.5 -1.0 81.7 5.0 76.0 C11.0 70.3 20.8 58.5 31.0 51.0 C41.2 43.5 54.2 37.0 66.0 31.0 C77.8 25.0 90.2 19.2 102.0 15.0 C113.8 10.8 129.0 9.3 137.0 6.0 C145.0 2.7 147.8 -3.2 150.0 -5.0" fill="none" stroke="#7070e8" stroke-width="2.8" stroke-linejoin="round"/><path d="M-5.0 314.0 C-3.3 314.5 0.8 315.7 5.0 317.0 C9.2 318.3 17.0 316.5 20.0 322.0 C23.0 327.5 22.5 339.5 23.0 350.0 C23.5 360.5 20.0 373.2 23.0 385.0 C26.0 396.8 36.3 410.8 41.0 421.0 C45.7 431.2 50.2 439.3 51.0 446.0 C51.8 452.7 50.3 455.5 46.0 461.0 C41.7 466.5 31.8 474.3 25.0 479.0 C18.2 483.7 10.0 486.7 5.0 489.0 C0.0 491.3 -3.3 492.3 -5.0 493.0" fill="none" stroke="#7070e8" stroke-width="2.8" stroke-linejoin="round"/><path d="M660.0 -5.0 C661.2 -3.3 663.2 0.0 667.0 5.0 C670.8 10.0 681.3 18.2 683.0 25.0 C684.7 31.8 683.8 38.3 677.0 46.0 C670.2 53.7 653.8 64.3 642.0 71.0 C630.2 77.7 613.7 79.2 606.0 86.0 C598.3 92.8 600.2 102.7 596.0 112.0 C591.8 121.3 586.0 132.7 581.0 142.0 C576.0 151.3 569.3 158.7 566.0 168.0 C562.7 177.3 565.3 188.0 561.0 198.0 C556.7 208.0 547.7 217.0 540.0 228.0 C532.3 239.0 523.0 251.2 515.0 264.0 C507.0 276.8 497.8 294.2 492.0 305.0 C486.2 315.8 488.8 317.3 480.0 329.0 C471.2 340.7 452.7 359.7 439.0 375.0 C425.3 390.3 410.7 407.5 398.0 421.0 C385.3 434.5 373.2 445.0 363.0 456.0 C352.8 467.0 345.0 476.8 337.0 487.0 C329.0 497.2 323.8 506.0 315.0 517.0 C306.2 528.0 295.0 541.2 284.0 553.0 C273.0 564.8 259.2 578.2 249.0 588.0 C238.8 597.8 228.7 606.7 223.0 612.0 C217.3 617.3 216.3 618.7 215.0 620.0" fill="none" stroke="#7070e8" stroke-width="2.8" stroke-linejoin="round"/><path d="M60.0 620.0 C59.3 616.3 58.3 605.0 56.0 598.0 C53.7 591.0 46.0 584.7 46.0 578.0 C46.0 571.3 49.3 563.0 56.0 558.0 C62.7 553.0 75.8 551.3 86.0 548.0 C96.2 544.7 109.3 543.2 117.0 538.0 C124.7 532.8 130.0 524.7 132.0 517.0 C134.0 509.3 129.0 501.3 129.0 492.0 C129.0 482.7 128.2 468.7 132.0 461.0 C135.8 453.3 145.7 450.5 152.0 446.0 C158.3 441.5 168.3 440.7 170.0 434.0 C171.7 427.3 161.5 413.3 162.0 406.0 C162.5 398.7 163.7 400.2 173.0 390.0 C182.3 379.8 202.8 360.2 218.0 345.0 C233.2 329.8 249.5 313.3 264.0 299.0 C278.5 284.7 292.8 273.3 305.0 259.0 C317.2 244.7 326.5 224.0 337.0 213.0 C347.5 202.0 358.2 199.7 368.0 193.0 C377.8 186.3 391.0 179.8 396.0 173.0 C401.0 166.2 400.2 157.5 398.0 152.0 C395.8 146.5 389.7 142.0 383.0 140.0 C376.3 138.0 363.8 139.2 358.0 140.0 C352.2 140.8 352.7 143.0 348.0 145.0 C343.3 147.0 339.0 148.2 330.0 152.0 C321.0 155.8 306.7 162.0 294.0 168.0 C281.3 174.0 268.3 181.3 254.0 188.0 C239.7 194.7 223.3 200.8 208.0 208.0 C192.7 215.2 177.2 224.2 162.0 231.0 C146.8 237.8 131.3 244.0 117.0 249.0 C102.7 254.0 88.7 258.0 76.0 261.0 C63.3 264.0 51.2 268.2 41.0 267.0 C30.8 265.8 20.5 263.0 15.0 254.0 C9.5 245.0 8.8 227.3 8.0 213.0 C7.2 198.7 8.0 180.7 10.0 168.0 C12.0 155.3 14.0 148.0 20.0 137.0 C26.0 126.0 36.7 112.2 46.0 102.0 C55.3 91.8 64.2 83.3 76.0 76.0 C87.8 68.7 102.7 63.0 117.0 58.0 C131.3 53.0 146.0 49.7 162.0 46.0 C178.0 42.3 196.0 39.5 213.0 36.0 C230.0 32.5 247.0 28.0 264.0 25.0 C281.0 22.0 301.2 19.8 315.0 18.0 C328.8 16.2 336.5 15.3 347.0 14.0 C357.5 12.7 366.0 10.5 378.0 10.0 C390.0 9.5 405.5 9.3 419.0 11.0 C432.5 12.7 448.5 15.8 459.0 20.0 C469.5 24.2 478.7 30.0 482.0 36.0 C485.3 42.0 481.2 49.3 479.0 56.0 C476.8 62.7 469.8 69.3 469.0 76.0 C468.2 82.7 470.5 90.0 474.0 96.0 C477.5 102.0 487.0 106.0 490.0 112.0 C493.0 118.0 493.8 125.3 492.0 132.0 C490.2 138.7 484.5 144.3 479.0 152.0 C473.5 159.7 463.5 169.5 459.0 178.0 C454.5 186.5 452.0 193.7 452.0 203.0 C452.0 212.3 458.7 223.8 459.0 234.0 C459.3 244.2 457.3 254.8 454.0 264.0 C450.7 273.2 442.3 282.7 439.0 289.0 C435.7 295.3 438.3 293.5 434.0 302.0 C429.7 310.5 422.3 327.0 413.0 340.0 C403.7 353.0 390.7 365.7 378.0 380.0 C365.3 394.3 349.2 412.5 337.0 426.0 C324.8 439.5 317.2 448.3 305.0 461.0 C292.8 473.7 277.7 489.2 264.0 502.0 C250.3 514.8 235.7 527.0 223.0 538.0 C210.3 549.0 199.8 558.0 188.0 568.0 C176.2 578.0 160.5 590.7 152.0 598.0 C143.5 605.3 141.0 608.3 137.0 612.0 C133.0 615.7 129.5 618.7 128.0 620.0" fill="none" stroke="#7070e8" stroke-width="2.8" stroke-dasharray="3.2 6.4" stroke-linejoin="round"/><path d="M-5.0 50.0 C-3.3 49.7 -2.7 50.0 5.0 48.0 C12.7 46.0 24.8 39.8 41.0 38.0 C57.2 36.2 81.8 36.3 102.0 37.0 C122.2 37.7 145.2 38.8 162.0 42.0 C178.8 45.2 191.0 50.7 203.0 56.0 C215.0 61.3 225.5 69.8 234.0 74.0 C242.5 78.2 244.0 79.0 254.0 81.0 C264.0 83.0 281.3 83.5 294.0 86.0 C306.7 88.5 321.0 93.5 330.0 96.0 C339.0 98.5 343.3 99.2 348.0 101.0 C352.7 102.8 355.5 103.5 358.0 107.0 C360.5 110.5 363.8 117.0 363.0 122.0 C362.2 127.0 357.3 132.8 353.0 137.0 C348.7 141.2 343.3 144.0 337.0 147.0 C330.7 150.0 324.7 152.8 315.0 155.0 C305.3 157.2 290.8 158.3 279.0 160.0 C267.2 161.7 251.2 162.8 244.0 165.0 C236.8 167.2 236.8 168.3 236.0 173.0 C235.2 177.7 242.0 185.5 239.0 193.0 C236.0 200.5 227.3 209.5 218.0 218.0 C208.7 226.5 195.7 235.5 183.0 244.0 C170.3 252.5 155.5 261.5 142.0 269.0 C128.5 276.5 113.0 285.7 102.0 289.0 C91.0 292.3 82.8 291.5 76.0 289.0 C69.2 286.5 63.5 281.5 61.0 274.0 C58.5 266.5 62.7 253.3 61.0 244.0 C59.3 234.7 56.0 225.7 51.0 218.0 C46.0 210.3 38.7 203.8 31.0 198.0 C23.3 192.2 11.0 186.0 5.0 183.0 C-1.0 180.0 -3.3 180.5 -5.0 180.0" fill="none" stroke="#eea878" stroke-width="2.8" stroke-linejoin="round"/><path d="M-5.0 112.0 C-3.7 112.5 0.8 112.3 3.0 115.0 C5.2 117.7 8.0 123.8 8.0 128.0 C8.0 132.2 5.2 137.7 3.0 140.0 C0.8 142.3 -3.7 141.7 -5.0 142.0" fill="none" stroke="#eea878" stroke-width="2.8" stroke-linejoin="round"/><path d="M10.0 76.0 C13.5 70.7 20.0 67.8 31.0 64.0 C42.0 60.2 60.0 54.8 76.0 53.0 C92.0 51.2 112.7 51.7 127.0 53.0 C141.3 54.3 153.2 57.2 162.0 61.0 C170.8 64.8 176.5 71.3 180.0 76.0 C183.5 80.7 177.5 86.5 183.0 89.0 C188.5 91.5 201.2 90.2 213.0 91.0 C224.8 91.8 240.5 92.7 254.0 94.0 C267.5 95.3 283.0 96.0 294.0 99.0 C305.0 102.0 315.7 107.8 320.0 112.0 C324.3 116.2 324.3 119.8 320.0 124.0 C315.7 128.2 305.0 133.5 294.0 137.0 C283.0 140.5 269.2 142.8 254.0 145.0 C238.8 147.2 220.0 149.2 203.0 150.0 C186.0 150.8 168.8 150.5 152.0 150.0 C135.2 149.5 115.5 148.3 102.0 147.0 C88.5 145.7 77.0 145.3 71.0 142.0 C65.0 138.7 69.3 131.2 66.0 127.0 C62.7 122.8 57.8 119.5 51.0 117.0 C44.2 114.5 31.8 115.5 25.0 112.0 C18.2 108.5 12.5 102.0 10.0 96.0 C7.5 90.0 6.5 81.3 10.0 76.0Z" fill="none" stroke="#eea878" stroke-width="2.8" stroke-dasharray="3.2 6.4" stroke-linejoin="round"/><path d="M25.0 152.0 C26.7 150.0 32.5 148.3 41.0 150.0 C49.5 151.7 61.7 160.2 76.0 162.0 C90.3 163.8 110.0 161.0 127.0 161.0 C144.0 161.0 164.5 159.7 178.0 162.0 C191.5 164.3 202.2 169.8 208.0 175.0 C213.8 180.2 215.5 187.5 213.0 193.0 C210.5 198.5 201.5 203.8 193.0 208.0 C184.5 212.2 172.2 214.2 162.0 218.0 C151.8 221.8 140.0 228.0 132.0 231.0 C124.0 234.0 117.8 238.2 114.0 236.0 C110.2 233.8 112.0 224.3 109.0 218.0 C106.0 211.7 103.2 204.7 96.0 198.0 C88.8 191.3 76.8 184.0 66.0 178.0 C55.2 172.0 37.8 166.3 31.0 162.0 C24.2 157.7 23.3 154.0 25.0 152.0Z" fill="none" stroke="#eea878" stroke-width="2.8" stroke-dasharray="3.2 6.4" stroke-linejoin="round"/></g></g>
<rect x="489.3" y="470.6" width="195" height="174.5" fill="none" stroke="#a2a2a2" stroke-width="1"/>
<path d="M506.5 645.1v3.6 M548.2 645.1v3.6 M590.3 645.1v3.6 M632.6 645.1v3.6 M675.2 645.1v3.6 M489.3 476.2h-3.6 M489.3 518.7h-3.6 M489.3 561.3h-3.6 M489.3 604.1h-3.6" stroke="#8c8c8c" stroke-width="0.9" fill="none"/>
<text x="506.5" y="660.3" font-size="12.0" text-anchor="middle">-5</text>
<text x="548.2" y="660.3" font-size="12.0" text-anchor="middle">0</text>
<text x="590.3" y="660.3" font-size="12.0" text-anchor="middle">5</text>
<text x="632.6" y="660.3" font-size="12.0" text-anchor="middle">10</text>
<text x="675.2" y="660.3" font-size="12.0" text-anchor="middle">15</text>
<text transform="translate(481.2,476.2) rotate(-90)" font-size="12.0" text-anchor="middle">2</text>
<text transform="translate(481.2,518.7) rotate(-90)" font-size="12.0" text-anchor="middle">0</text>
<text transform="translate(481.2,561.3) rotate(-90)" font-size="12.0" text-anchor="middle">-2</text>
<text transform="translate(481.2,604.1) rotate(-90)" font-size="12.0" text-anchor="middle">-4</text>
<text x="487.3" y="466.9" font-size="16.8">j)</text>
<text x="532.1" y="466.9" font-size="16.8" font-style="italic">Primula hirsuta</text>
<g clip-path="url(#clip_k)"><g transform="translate(40,693) scale(0.287591)"><path d="M140.0 60.0 C150.0 38.3 178.3 25.0 200.0 20.0 C221.7 15.0 246.7 21.7 270.0 30.0 C293.3 38.3 315.0 51.7 340.0 70.0 C365.0 88.3 393.3 116.7 420.0 140.0 C446.7 163.3 476.7 186.7 500.0 210.0 C523.3 233.3 550.0 258.3 560.0 280.0 C570.0 301.7 573.3 331.7 560.0 340.0 C546.7 348.3 506.7 336.7 480.0 330.0 C453.3 323.3 430.0 305.0 400.0 300.0 C370.0 295.0 330.0 298.3 300.0 300.0 C270.0 301.7 241.7 310.0 220.0 310.0 C198.3 310.0 181.7 313.3 170.0 300.0 C158.3 286.7 155.0 255.0 150.0 230.0 C145.0 205.0 141.7 178.3 140.0 150.0 C138.3 121.7 130.0 81.7 140.0 60.0Z" fill="rgb(120,120,255)" fill-opacity="0.15" filter="url(#f15)"/><path d="M150.0 240.0 C161.7 225.0 183.3 250.0 200.0 260.0 C216.7 270.0 228.3 283.3 250.0 300.0 C271.7 316.7 301.7 340.0 330.0 360.0 C358.3 380.0 391.7 400.0 420.0 420.0 C448.3 440.0 486.7 463.3 500.0 480.0 C513.3 496.7 516.7 511.7 500.0 520.0 C483.3 528.3 433.3 525.0 400.0 530.0 C366.7 535.0 333.3 540.0 300.0 550.0 C266.7 560.0 226.7 581.7 200.0 590.0 C173.3 598.3 153.3 615.0 140.0 600.0 C126.7 585.0 121.7 541.7 120.0 500.0 C118.3 458.3 125.0 393.3 130.0 350.0 C135.0 306.7 138.3 255.0 150.0 240.0Z" fill="rgb(236,138,92)" fill-opacity="0.12" filter="url(#f16)"/><ellipse cx="398" cy="223" rx="95" ry="50" transform="rotate(15 398 223)" fill="url(#g40)"/><ellipse cx="330" cy="180" rx="170" ry="110" transform="rotate(25 330 180)" fill="url(#g41)"/><ellipse cx="213" cy="385" rx="70" ry="52" transform="rotate(0 213 385)" fill="url(#g42)"/><ellipse cx="200" cy="505" rx="90" ry="55" transform="rotate(0 200 505)" fill="url(#g43)"/><ellipse cx="190" cy="290" rx="60" ry="50" transform="rotate(0 190 290)" fill="url(#g44)"/><path d="M-5.0 92.0 C-3.8 91.8 -5.7 92.0 2.0 91.0 C9.7 90.0 27.0 88.0 41.0 86.0 C55.0 84.0 75.0 84.0 86.0 79.0 C97.0 74.0 101.0 64.0 107.0 56.0 C113.0 48.0 117.0 39.5 122.0 31.0 C127.0 22.5 133.7 11.0 137.0 5.0 C140.3 -1.0 141.2 -3.3 142.0 -5.0" fill="none" stroke="#7070e8" stroke-width="2.8" stroke-linejoin="round"/><path d="M-5.0 184.0 C-3.8 184.7 -4.0 184.8 2.0 188.0 C8.0 191.2 18.7 198.8 31.0 203.0 C43.3 207.2 68.0 204.5 76.0 213.0 C84.0 221.5 77.7 242.2 79.0 254.0 C80.3 265.8 83.3 276.3 84.0 284.0 C84.7 291.7 86.8 291.5 83.0 300.0 C79.2 308.5 68.5 322.5 61.0 335.0 C53.5 347.5 42.2 361.5 38.0 375.0 C33.8 388.5 33.8 405.0 36.0 416.0 C38.2 427.0 42.7 434.7 51.0 441.0 C59.3 447.3 73.3 454.0 86.0 454.0 C98.7 454.0 113.3 447.3 127.0 441.0 C140.7 434.7 157.8 424.5 168.0 416.0 C178.2 407.5 183.0 400.2 188.0 390.0 C193.0 379.8 192.2 363.3 198.0 355.0 C203.8 346.7 211.2 343.8 223.0 340.0 C234.8 336.2 252.0 333.0 269.0 332.0 C286.0 331.0 312.7 332.3 325.0 334.0 C337.3 335.7 340.2 335.2 343.0 342.0 C345.8 348.8 336.2 364.3 342.0 375.0 C347.8 385.7 363.5 398.3 378.0 406.0 C392.5 413.7 410.3 417.7 429.0 421.0 C447.7 424.3 470.7 424.8 490.0 426.0 C509.3 427.2 532.3 429.7 545.0 428.0 C557.7 426.3 558.3 421.0 566.0 416.0 C573.7 411.0 580.0 401.5 591.0 398.0 C602.0 394.5 620.2 398.0 632.0 395.0 C643.8 392.0 654.5 385.8 662.0 380.0 C669.5 374.2 674.0 367.5 677.0 360.0 C680.0 352.5 684.2 342.7 680.0 335.0 C675.8 327.3 660.8 320.0 652.0 314.0 C643.2 308.0 635.5 304.8 627.0 299.0 C618.5 293.2 611.2 287.3 601.0 279.0 C590.8 270.7 577.8 259.2 566.0 249.0 C554.2 238.8 540.2 229.0 530.0 218.0 C519.8 207.0 515.2 194.0 505.0 183.0 C494.8 172.0 480.0 161.3 469.0 152.0 C458.0 142.7 450.8 138.8 439.0 127.0 C427.2 115.2 410.7 93.7 398.0 81.0 C385.3 68.3 373.2 58.2 363.0 51.0 C352.8 43.8 346.7 43.2 337.0 38.0 C327.3 32.8 315.5 25.5 305.0 20.0 C294.5 14.5 280.7 9.2 274.0 5.0 C267.3 0.8 266.5 -3.3 265.0 -5.0" fill="none" stroke="#7070e8" stroke-width="2.8" stroke-linejoin="round"/><path d="M127.0 127.0 C133.0 120.2 124.5 105.3 127.0 91.0 C129.5 76.7 134.3 53.7 142.0 41.0 C149.7 28.3 162.8 20.5 173.0 15.0 C183.2 9.5 192.8 8.0 203.0 8.0 C213.2 8.0 223.8 10.3 234.0 15.0 C244.2 19.7 252.2 29.2 264.0 36.0 C275.8 42.8 292.8 49.3 305.0 56.0 C317.2 62.7 324.8 68.3 337.0 76.0 C349.2 83.7 364.3 90.2 378.0 102.0 C391.7 113.8 405.5 132.7 419.0 147.0 C432.5 161.3 445.5 175.3 459.0 188.0 C472.5 200.7 488.2 211.2 500.0 223.0 C511.8 234.8 519.8 248.8 530.0 259.0 C540.2 269.2 552.5 275.5 561.0 284.0 C569.5 292.5 575.5 302.3 581.0 310.0 C586.5 317.7 593.2 323.3 594.0 330.0 C594.8 336.7 593.2 346.3 586.0 350.0 C578.8 353.7 562.8 352.5 551.0 352.0 C539.2 351.5 527.0 350.7 515.0 347.0 C503.0 343.3 489.2 338.0 479.0 330.0 C468.8 322.0 460.7 305.5 454.0 299.0 C447.3 292.5 447.5 294.0 439.0 291.0 C430.5 288.0 414.8 282.3 403.0 281.0 C391.2 279.7 379.0 281.8 368.0 283.0 C357.0 284.2 345.8 287.3 337.0 288.0 C328.2 288.7 327.2 286.3 315.0 287.0 C302.8 287.7 279.3 290.0 264.0 292.0 C248.7 294.0 234.8 296.5 223.0 299.0 C211.2 301.5 201.3 301.8 193.0 307.0 C184.7 312.2 180.7 320.3 173.0 330.0 C165.3 339.7 156.3 355.0 147.0 365.0 C137.7 375.0 126.3 385.0 117.0 390.0 C107.7 395.0 96.2 397.5 91.0 395.0 C85.8 392.5 85.2 382.5 86.0 375.0 C86.8 367.5 90.8 358.5 96.0 350.0 C101.2 341.5 111.0 332.3 117.0 324.0 C123.0 315.7 130.3 310.0 132.0 300.0 C133.7 290.0 126.2 275.0 127.0 264.0 C127.8 253.0 132.0 241.7 137.0 234.0 C142.0 226.3 152.8 223.2 157.0 218.0 C161.2 212.8 162.8 209.7 162.0 203.0 C161.2 196.3 157.0 184.8 152.0 178.0 C147.0 171.2 140.5 164.8 132.0 162.0 C123.5 159.2 112.8 161.8 101.0 161.0 C89.2 160.2 69.3 160.2 61.0 157.0 C52.7 153.8 51.0 146.7 51.0 142.0 C51.0 137.3 54.3 130.7 61.0 129.0 C67.7 127.3 80.0 132.3 91.0 132.0 C102.0 131.7 121.0 133.8 127.0 127.0Z" fill="none" stroke="#7070e8" stroke-width="2.8" stroke-dasharray="3.2 6.4" stroke-linejoin="round"/><path d="M419.0 360.0 C419.8 355.8 426.5 351.7 434.0 350.0 C441.5 348.3 453.8 348.3 464.0 350.0 C474.2 351.7 489.0 355.8 495.0 360.0 C501.0 364.2 501.7 370.8 500.0 375.0 C498.3 379.2 492.7 383.3 485.0 385.0 C477.3 386.7 463.3 386.7 454.0 385.0 C444.7 383.3 434.8 379.2 429.0 375.0 C423.2 370.8 418.2 364.2 419.0 360.0Z" fill="none" stroke="#7070e8" stroke-width="2.8" stroke-dasharray="3.2 6.4" stroke-linejoin="round"/><path d="M80.0 620.0 C80.2 618.7 79.5 624.8 81.0 612.0 C82.5 599.2 86.5 563.0 89.0 543.0 C91.5 523.0 93.0 509.0 96.0 492.0 C99.0 475.0 104.8 458.0 107.0 441.0 C109.2 424.0 109.8 406.8 109.0 390.0 C108.2 373.2 104.3 355.0 102.0 340.0 C99.7 325.0 97.2 318.7 95.0 300.0 C92.8 281.3 87.8 245.8 89.0 228.0 C90.2 210.2 94.8 201.8 102.0 193.0 C109.2 184.2 121.0 178.3 132.0 175.0 C143.0 171.7 156.2 170.0 168.0 173.0 C179.8 176.0 192.0 184.7 203.0 193.0 C214.0 201.3 223.0 212.8 234.0 223.0 C245.0 233.2 257.2 243.8 269.0 254.0 C280.8 264.2 294.8 274.2 305.0 284.0 C315.2 293.8 324.7 307.2 330.0 313.0 C335.3 318.8 329.0 313.7 337.0 319.0 C345.0 324.3 361.0 335.7 378.0 345.0 C395.0 354.3 420.3 365.7 439.0 375.0 C457.7 384.3 471.3 392.5 490.0 401.0 C508.7 409.5 534.2 416.8 551.0 426.0 C567.8 435.2 579.2 445.8 591.0 456.0 C602.8 466.2 614.8 476.8 622.0 487.0 C629.2 497.2 635.8 508.5 634.0 517.0 C632.2 525.5 623.2 531.7 611.0 538.0 C598.8 544.3 579.5 551.3 561.0 555.0 C542.5 558.7 520.3 558.2 500.0 560.0 C479.7 561.8 459.3 563.0 439.0 566.0 C418.7 569.0 393.2 574.7 378.0 578.0 C362.8 581.3 360.2 583.5 348.0 586.0 C335.8 588.5 319.8 588.7 305.0 593.0 C290.2 597.3 268.2 607.5 259.0 612.0 C249.8 616.5 251.5 618.7 250.0 620.0" fill="none" stroke="#eea878" stroke-width="2.8" stroke-linejoin="round"/><path d="M126.0 620.0 C126.2 618.7 127.7 619.0 127.0 612.0 C126.3 605.0 121.2 592.2 122.0 578.0 C122.8 563.8 128.7 543.8 132.0 527.0 C135.3 510.2 138.7 493.8 142.0 477.0 C145.3 460.2 150.7 447.2 152.0 426.0 C153.3 404.8 150.8 371.2 150.0 350.0 C149.2 328.8 148.3 315.0 147.0 299.0 C145.7 283.0 141.2 267.5 142.0 254.0 C142.8 240.5 145.2 220.5 152.0 218.0 C158.8 215.5 172.0 230.5 183.0 239.0 C194.0 247.5 207.8 259.0 218.0 269.0 C228.2 279.0 234.7 288.8 244.0 299.0 C253.3 309.2 262.2 319.8 274.0 330.0 C285.8 340.2 302.7 352.5 315.0 360.0 C327.3 367.5 335.0 366.5 348.0 375.0 C361.0 383.5 377.8 401.7 393.0 411.0 C408.2 420.3 423.7 423.5 439.0 431.0 C454.3 438.5 472.3 448.3 485.0 456.0 C497.7 463.7 508.7 470.2 515.0 477.0 C521.3 483.8 524.7 491.2 523.0 497.0 C521.3 502.8 514.8 507.8 505.0 512.0 C495.2 516.2 479.3 519.8 464.0 522.0 C448.7 524.2 429.8 525.0 413.0 525.0 C396.2 525.0 375.7 522.5 363.0 522.0 C350.3 521.5 343.3 521.2 337.0 522.0 C330.7 522.8 333.8 524.3 325.0 527.0 C316.2 529.7 299.2 532.0 284.0 538.0 C268.8 544.0 249.2 555.5 234.0 563.0 C218.8 570.5 206.7 574.8 193.0 583.0 C179.3 591.2 160.0 605.8 152.0 612.0 C144.0 618.2 146.2 618.7 145.0 620.0" fill="none" stroke="#eea878" stroke-width="2.8" stroke-dasharray="3.2 6.4" stroke-linejoin="round"/></g></g>
<rect x="40.5" y="694.6" width="195.1" height="173.7" fill="none" stroke="#a2a2a2" stroke-width="1"/>
<path d="M77.5 868.3v3.6 M120.6 868.3v3.6 M163.7 868.3v3.6 M207.2 868.3v3.6 M40.5 707.4h-3.6 M40.5 732.9h-3.6 M40.5 758.1h-3.6 M40.5 783.6h-3.6 M40.5 809.1h-3.6 M40.5 834.6h-3.6 M40.5 860.1h-3.6" stroke="#8c8c8c" stroke-width="0.9" fill="none"/>
<text x="77.5" y="883.5" font-size="12.0" text-anchor="middle">-5</text>
<text x="120.6" y="883.5" font-size="12.0" text-anchor="middle">0</text>
<text x="163.7" y="883.5" font-size="12.0" text-anchor="middle">5</text>
<text x="207.2" y="883.5" font-size="12.0" text-anchor="middle">10</text>
<text transform="translate(32.4,707.4) rotate(-90)" font-size="12.0" text-anchor="middle">3</text>
<text transform="translate(32.4,732.9) rotate(-90)" font-size="12.0" text-anchor="middle">2</text>
<text transform="translate(32.4,758.1) rotate(-90)" font-size="12.0" text-anchor="middle">1</text>
<text transform="translate(32.4,783.6) rotate(-90)" font-size="12.0" text-anchor="middle">0</text>
<text transform="translate(32.4,809.1) rotate(-90)" font-size="12.0" text-anchor="middle">-1</text>
<text transform="translate(32.4,834.6) rotate(-90)" font-size="12.0" text-anchor="middle">-2</text>
<text transform="translate(32.4,860.1) rotate(-90)" font-size="12.0" text-anchor="middle">-3</text>
<text x="37.7" y="688.9" font-size="16.8">k)</text>
<text x="72.6" y="688.9" font-size="16.8" font-style="italic">Thymelaea dioica</text>
<g clip-path="url(#clip_l)"><g transform="translate(265,693) scale(0.287591)"><path d="M200.0 200.0 C210.0 195.0 238.3 201.7 260.0 210.0 C281.7 218.3 303.3 235.0 330.0 250.0 C356.7 265.0 388.3 283.3 420.0 300.0 C451.7 316.7 498.3 336.7 520.0 350.0 C541.7 363.3 550.0 361.7 550.0 380.0 C550.0 398.3 526.7 433.3 520.0 460.0 C513.3 486.7 518.3 520.0 510.0 540.0 C501.7 560.0 485.0 576.7 470.0 580.0 C455.0 583.3 438.3 576.7 420.0 560.0 C401.7 543.3 380.0 510.0 360.0 480.0 C340.0 450.0 320.0 411.7 300.0 380.0 C280.0 348.3 256.7 313.3 240.0 290.0 C223.3 266.7 206.7 255.0 200.0 240.0 C193.3 225.0 190.0 205.0 200.0 200.0Z" fill="rgb(120,120,255)" fill-opacity="0.14" filter="url(#f17)"/><ellipse cx="375" cy="385" rx="210" ry="80" transform="rotate(52 375 385)" fill="url(#g45)"/><ellipse cx="400" cy="428" rx="145" ry="50" transform="rotate(57 400 428)" fill="url(#g46)"/><ellipse cx="480" cy="205" rx="120" ry="35" transform="rotate(24 480 205)" fill="url(#g47)"/><ellipse cx="455" cy="193" rx="62" ry="24" transform="rotate(22 455 193)" fill="url(#g48)"/><path d="M30.0 -5.0 C30.8 -3.3 27.3 0.3 35.0 5.0 C42.7 9.7 62.3 14.5 76.0 23.0 C89.7 31.5 102.7 45.0 117.0 56.0 C131.3 67.0 146.0 78.0 162.0 89.0 C178.0 100.0 196.0 111.5 213.0 122.0 C230.0 132.5 247.0 142.7 264.0 152.0 C281.0 161.3 301.0 170.3 315.0 178.0 C329.0 185.7 337.5 192.2 348.0 198.0 C358.5 203.8 364.5 205.3 378.0 213.0 C391.5 220.7 412.2 233.8 429.0 244.0 C445.8 254.2 463.8 264.7 479.0 274.0 C494.2 283.3 508.0 294.2 520.0 300.0 C532.0 305.8 539.2 306.2 551.0 309.0 C562.8 311.8 580.0 313.5 591.0 317.0 C602.0 320.5 610.7 324.5 617.0 330.0 C623.3 335.5 627.3 341.7 629.0 350.0 C630.7 358.3 630.0 369.8 627.0 380.0 C624.0 390.2 617.0 399.2 611.0 411.0 C605.0 422.8 597.3 437.5 591.0 451.0 C584.7 464.5 574.7 479.3 573.0 492.0 C571.3 504.7 580.2 515.2 581.0 527.0 C581.8 538.8 582.2 552.0 578.0 563.0 C573.8 574.0 562.3 584.8 556.0 593.0 C549.7 601.2 544.0 607.5 540.0 612.0 C536.0 616.5 533.3 618.7 532.0 620.0" fill="none" stroke="#7070e8" stroke-width="2.8" stroke-linejoin="round"/><path d="M-5.0 47.0 C-3.8 48.5 -3.0 49.5 2.0 56.0 C7.0 62.5 16.8 75.8 25.0 86.0 C33.2 96.2 42.5 105.2 51.0 117.0 C59.5 128.8 67.5 144.3 76.0 157.0 C84.5 169.7 92.7 181.2 102.0 193.0 C111.3 204.8 122.0 215.3 132.0 228.0 C142.0 240.7 153.2 257.2 162.0 269.0 C170.8 280.8 176.5 288.0 185.0 299.0 C193.5 310.0 203.2 323.2 213.0 335.0 C222.8 346.8 233.8 357.3 244.0 370.0 C254.2 382.7 265.7 399.2 274.0 411.0 C282.3 422.8 288.8 430.0 294.0 441.0 C299.2 452.0 300.7 466.0 305.0 477.0 C309.3 488.0 312.8 496.8 320.0 507.0 C327.2 517.2 340.0 527.8 348.0 538.0 C356.0 548.2 358.8 555.7 368.0 568.0 C377.2 580.3 396.0 603.3 403.0 612.0 C410.0 620.7 408.8 618.7 410.0 620.0" fill="none" stroke="#7070e8" stroke-width="2.8" stroke-linejoin="round"/><path d="M137.0 147.0 C137.8 140.7 144.3 140.0 152.0 140.0 C159.7 140.0 170.3 141.5 183.0 147.0 C195.7 152.5 212.0 163.7 228.0 173.0 C244.0 182.3 263.7 193.8 279.0 203.0 C294.3 212.2 308.5 220.3 320.0 228.0 C331.5 235.7 336.7 242.2 348.0 249.0 C359.3 255.8 372.8 259.7 388.0 269.0 C403.2 278.3 426.3 295.8 439.0 305.0 C451.7 314.2 451.3 317.3 464.0 324.0 C476.7 330.7 498.8 339.8 515.0 345.0 C531.2 350.2 551.3 350.8 561.0 355.0 C570.7 359.2 572.2 360.7 573.0 370.0 C573.8 379.3 570.7 398.3 566.0 411.0 C561.3 423.7 551.3 435.0 545.0 446.0 C538.7 457.0 530.5 467.7 528.0 477.0 C525.5 486.3 527.5 493.7 530.0 502.0 C532.5 510.3 541.3 517.7 543.0 527.0 C544.7 536.3 543.8 548.7 540.0 558.0 C536.2 567.3 528.3 576.2 520.0 583.0 C511.7 589.8 500.2 596.3 490.0 599.0 C479.8 601.7 469.2 602.5 459.0 599.0 C448.8 595.5 439.2 587.3 429.0 578.0 C418.8 568.7 408.2 555.7 398.0 543.0 C387.8 530.3 376.8 515.7 368.0 502.0 C359.2 488.3 352.2 474.5 345.0 461.0 C337.8 447.5 332.5 434.5 325.0 421.0 C317.5 407.5 309.3 395.2 300.0 380.0 C290.7 364.8 278.2 342.5 269.0 330.0 C259.8 317.5 252.7 312.7 245.0 305.0 C237.3 297.3 230.8 293.3 223.0 284.0 C215.2 274.7 206.3 260.8 198.0 249.0 C189.7 237.2 181.5 224.8 173.0 213.0 C164.5 201.2 153.0 189.0 147.0 178.0 C141.0 167.0 136.2 153.3 137.0 147.0Z" fill="none" stroke="#7070e8" stroke-width="2.8" stroke-dasharray="3.2 6.4" stroke-linejoin="round"/><path d="M358.0 152.0 C357.2 145.2 363.8 138.2 373.0 137.0 C382.2 135.8 397.8 140.8 413.0 145.0 C428.2 149.2 447.0 155.7 464.0 162.0 C481.0 168.3 498.0 175.3 515.0 183.0 C532.0 190.7 549.0 199.5 566.0 208.0 C583.0 216.5 601.0 225.5 617.0 234.0 C633.0 242.5 650.8 253.0 662.0 259.0 C673.2 265.0 679.0 264.0 684.0 270.0 C689.0 276.0 693.2 286.3 692.0 295.0 C690.8 303.7 683.7 312.8 677.0 322.0 C670.3 331.2 659.5 341.5 652.0 350.0 C644.5 358.5 637.8 369.2 632.0 373.0 C626.2 376.8 623.8 376.0 617.0 373.0 C610.2 370.0 599.5 363.2 591.0 355.0 C582.5 346.8 572.7 333.3 566.0 324.0 C559.3 314.7 557.0 306.5 551.0 299.0 C545.0 291.5 537.7 286.5 530.0 279.0 C522.3 271.5 516.0 262.5 505.0 254.0 C494.0 245.5 479.3 236.5 464.0 228.0 C448.7 219.5 427.3 211.3 413.0 203.0 C398.7 194.7 387.2 186.5 378.0 178.0 C368.8 169.5 358.8 158.8 358.0 152.0Z" fill="none" stroke="#eea878" stroke-width="2.8" stroke-linejoin="round"/><path d="M413.0 173.0 C413.0 168.0 420.5 168.0 429.0 168.0 C437.5 168.0 449.7 168.8 464.0 173.0 C478.3 177.2 498.0 185.5 515.0 193.0 C532.0 200.5 549.0 208.7 566.0 218.0 C583.0 227.3 601.0 238.8 617.0 249.0 C633.0 259.2 653.7 271.5 662.0 279.0 C670.3 286.5 666.2 290.7 667.0 294.0 C667.8 297.3 670.3 297.3 667.0 299.0 C663.7 300.7 652.8 301.5 647.0 304.0 C641.2 306.5 635.0 308.0 632.0 314.0 C629.0 320.0 631.2 333.2 629.0 340.0 C626.8 346.8 623.7 353.3 619.0 355.0 C614.3 356.7 607.3 355.2 601.0 350.0 C594.7 344.8 586.8 331.5 581.0 324.0 C575.2 316.5 572.8 312.5 566.0 305.0 C559.2 297.5 549.3 288.3 540.0 279.0 C530.7 269.7 521.8 258.3 510.0 249.0 C498.2 239.7 482.5 231.5 469.0 223.0 C455.5 214.5 438.3 206.3 429.0 198.0 C419.7 189.7 413.0 178.0 413.0 173.0Z" fill="none" stroke="#eea878" stroke-width="2.8" stroke-dasharray="3.2 6.4" stroke-linejoin="round"/></g></g>
<rect x="265.6" y="694.6" width="195.4" height="173.7" fill="none" stroke="#a2a2a2" stroke-width="1"/>
<path d="M310.4 868.3v3.6 M355.7 868.3v3.6 M401.2 868.3v3.6 M446.6 868.3v3.6 M265.6 696.5h-3.6 M265.6 726h-3.6 M265.6 755.3h-3.6 M265.6 784.3h-3.6 M265.6 813.6h-3.6 M265.6 843.1h-3.6" stroke="#8c8c8c" stroke-width="0.9" fill="none"/>
<text x="310.4" y="883.5" font-size="12.0" text-anchor="middle">-10</text>
<text x="355.7" y="883.5" font-size="12.0" text-anchor="middle">-5</text>
<text x="401.2" y="883.5" font-size="12.0" text-anchor="middle">0</text>
<text x="446.6" y="883.5" font-size="12.0" text-anchor="middle">5</text>
<text transform="translate(257.5,696.5) rotate(-90)" font-size="12.0" text-anchor="middle">6</text>
<text transform="translate(257.5,726) rotate(-90)" font-size="12.0" text-anchor="middle">4</text>
<text transform="translate(257.5,755.3) rotate(-90)" font-size="12.0" text-anchor="middle">2</text>
<text transform="translate(257.5,784.3) rotate(-90)" font-size="12.0" text-anchor="middle">0</text>
<text transform="translate(257.5,813.6) rotate(-90)" font-size="12.0" text-anchor="middle">-2</text>
<text transform="translate(257.5,843.1) rotate(-90)" font-size="12.0" text-anchor="middle">-4</text>
<text x="262.4" y="688.9" font-size="16.8">l)</text>
<text x="286.55" y="688.9" font-size="16.8" font-style="italic">Valeriana rotundifolia</text>
<g clip-path="url(#clip_m)"><g transform="translate(488,693) scale(0.287591)"><path d="M170.0 150.0 C180.0 145.0 208.3 165.0 230.0 180.0 C251.7 195.0 278.3 221.7 300.0 240.0 C321.7 258.3 336.7 271.7 360.0 290.0 C383.3 308.3 415.0 330.0 440.0 350.0 C465.0 370.0 493.3 388.3 510.0 410.0 C526.7 431.7 531.7 455.0 540.0 480.0 C548.3 505.0 566.7 541.7 560.0 560.0 C553.3 578.3 526.7 588.3 500.0 590.0 C473.3 591.7 433.3 581.7 400.0 570.0 C366.7 558.3 330.0 535.0 300.0 520.0 C270.0 505.0 243.3 501.7 220.0 480.0 C196.7 458.3 176.7 420.0 160.0 390.0 C143.3 360.0 126.7 325.0 120.0 300.0 C113.3 275.0 111.7 255.0 120.0 240.0 C128.3 225.0 161.7 225.0 170.0 210.0 C178.3 195.0 160.0 155.0 170.0 150.0Z" fill="rgb(120,120,255)" fill-opacity="0.18" filter="url(#f18)"/><ellipse cx="330" cy="390" rx="220" ry="115" transform="rotate(50 330 390)" fill="url(#g49)"/><ellipse cx="352" cy="425" rx="150" ry="62" transform="rotate(58 352 425)" fill="url(#g50)"/><ellipse cx="622" cy="350" rx="90" ry="40" transform="rotate(62 622 350)" fill="url(#g51)"/><ellipse cx="605" cy="315" rx="58" ry="30" transform="rotate(62 605 315)" fill="url(#g52)"/><path d="M-5.0 3.0 C-3.3 3.8 1.7 6.0 5.0 8.0 C8.3 10.0 9.8 13.8 15.0 15.0 C20.2 16.2 30.0 16.7 36.0 15.0 C42.0 13.3 47.7 8.3 51.0 5.0 C54.3 1.7 55.2 -3.3 56.0 -5.0" fill="none" stroke="#7070e8" stroke-width="2.8" stroke-linejoin="round"/><path d="M3.0 -5.0 C3.8 -0.8 5.2 10.7 8.0 20.0 C10.8 29.3 14.5 41.7 20.0 51.0 C25.5 60.3 35.0 67.5 41.0 76.0 C47.0 84.5 52.2 93.5 56.0 102.0 C59.8 110.5 62.3 117.0 64.0 127.0 C65.7 137.0 65.2 149.3 66.0 162.0 C66.8 174.7 68.5 189.3 69.0 203.0 C69.5 216.7 69.8 232.2 69.0 244.0 C68.2 255.8 64.5 264.8 64.0 274.0 C63.5 283.2 63.2 291.5 66.0 299.0 C68.8 306.5 72.5 308.8 81.0 319.0 C89.5 329.2 106.0 346.3 117.0 360.0 C128.0 373.7 138.5 388.3 147.0 401.0 C155.5 413.7 161.2 423.3 168.0 436.0 C174.8 448.7 180.5 466.0 188.0 477.0 C195.5 488.0 202.8 495.3 213.0 502.0 C223.2 508.7 237.2 511.8 249.0 517.0 C260.8 522.2 272.2 527.0 284.0 533.0 C295.8 539.0 311.0 548.5 320.0 553.0 C329.0 557.5 331.7 555.8 338.0 560.0 C344.3 564.2 351.3 569.8 358.0 578.0 C364.7 586.2 374.0 602.0 378.0 609.0 C382.0 616.0 381.3 618.2 382.0 620.0" fill="none" stroke="#7070e8" stroke-width="2.8" stroke-linejoin="round"/><path d="M600.0 620.0 C600.7 618.7 603.0 616.5 604.0 612.0 C605.0 607.5 603.8 600.3 606.0 593.0 C608.2 585.7 615.2 577.2 617.0 568.0 C618.8 558.8 619.7 547.3 617.0 538.0 C614.3 528.7 607.5 519.7 601.0 512.0 C594.5 504.3 582.2 502.2 578.0 492.0 C573.8 481.8 577.7 464.5 576.0 451.0 C574.3 437.5 571.3 425.3 568.0 411.0 C564.7 396.7 560.7 379.5 556.0 365.0 C551.3 350.5 546.0 335.0 540.0 324.0 C534.0 313.0 525.0 305.7 520.0 299.0 C515.0 292.3 515.0 290.7 510.0 284.0 C505.0 277.3 496.8 268.3 490.0 259.0 C483.2 249.7 477.5 237.3 469.0 228.0 C460.5 218.7 450.0 212.2 439.0 203.0 C428.0 193.8 415.7 183.2 403.0 173.0 C390.3 162.8 374.0 149.3 363.0 142.0 C352.0 134.7 346.7 133.2 337.0 129.0 C327.3 124.8 318.8 125.8 305.0 117.0 C291.2 108.2 268.5 87.5 254.0 76.0 C239.5 64.5 229.0 54.3 218.0 48.0 C207.0 41.7 199.0 44.7 188.0 38.0 C177.0 31.3 163.8 13.7 152.0 8.0 C140.2 2.3 124.0 6.2 117.0 4.0 C110.0 1.8 111.2 -3.5 110.0 -5.0" fill="none" stroke="#7070e8" stroke-width="2.8" stroke-linejoin="round"/><path d="M428.0 620.0 C429.0 618.7 430.5 614.8 434.0 612.0 C437.5 609.2 443.2 604.0 449.0 603.0 C454.8 602.0 464.8 604.5 469.0 606.0 C473.2 607.5 472.5 609.7 474.0 612.0 C475.5 614.3 477.3 618.7 478.0 620.0" fill="none" stroke="#7070e8" stroke-width="2.8" stroke-linejoin="round"/><path d="M162.0 127.0 C163.7 122.8 169.5 127.0 178.0 132.0 C186.5 137.0 200.3 146.8 213.0 157.0 C225.7 167.2 240.5 180.2 254.0 193.0 C267.5 205.8 282.2 223.5 294.0 234.0 C305.8 244.5 316.0 251.8 325.0 256.0 C334.0 260.2 342.5 257.7 348.0 259.0 C353.5 260.3 353.8 259.0 358.0 264.0 C362.2 269.0 368.8 282.7 373.0 289.0 C377.2 295.3 376.3 293.5 383.0 302.0 C389.7 310.5 402.0 328.7 413.0 340.0 C424.0 351.3 436.2 361.7 449.0 370.0 C461.8 378.3 479.0 384.0 490.0 390.0 C501.0 396.0 508.3 397.5 515.0 406.0 C521.7 414.5 526.7 429.2 530.0 441.0 C533.3 452.8 532.5 466.0 535.0 477.0 C537.5 488.0 539.0 499.5 545.0 507.0 C551.0 514.5 564.2 516.0 571.0 522.0 C577.8 528.0 583.5 536.2 586.0 543.0 C588.5 549.8 588.5 556.3 586.0 563.0 C583.5 569.7 575.2 574.8 571.0 583.0 C566.8 591.2 564.5 605.0 561.0 612.0 C557.5 619.0 554.3 625.0 550.0 625.0 C545.7 625.0 539.2 616.3 535.0 612.0 C530.8 607.7 530.8 603.8 525.0 599.0 C519.2 594.2 510.2 587.3 500.0 583.0 C489.8 578.7 479.3 575.5 464.0 573.0 C448.7 570.5 424.0 572.2 408.0 568.0 C392.0 563.8 379.8 553.5 368.0 548.0 C356.2 542.5 344.2 538.5 337.0 535.0 C329.8 531.5 332.2 531.7 325.0 527.0 C317.8 522.3 305.8 513.3 294.0 507.0 C282.2 500.7 265.8 494.0 254.0 489.0 C242.2 484.0 231.5 483.3 223.0 477.0 C214.5 470.7 209.7 461.2 203.0 451.0 C196.3 440.8 189.8 427.8 183.0 416.0 C176.2 404.2 169.7 392.7 162.0 380.0 C154.3 367.3 145.3 353.0 137.0 340.0 C128.7 327.0 117.0 313.0 112.0 302.0 C107.0 291.0 107.5 283.7 107.0 274.0 C106.5 264.3 106.5 252.5 109.0 244.0 C111.5 235.5 115.7 228.5 122.0 223.0 C128.3 217.5 137.7 213.5 147.0 211.0 C156.3 208.5 172.8 211.8 178.0 208.0 C183.2 204.2 179.7 196.5 178.0 188.0 C176.3 179.5 170.7 167.2 168.0 157.0 C165.3 146.8 160.3 131.2 162.0 127.0Z" fill="none" stroke="#7070e8" stroke-width="2.8" stroke-dasharray="3.2 6.4" stroke-linejoin="round"/><path d="M515.0 234.0 C517.5 226.3 523.2 220.7 530.0 218.0 C536.8 215.3 545.8 215.3 556.0 218.0 C566.2 220.7 580.8 226.3 591.0 234.0 C601.2 241.7 608.5 252.2 617.0 264.0 C625.5 275.8 634.5 295.0 642.0 305.0 C649.5 315.0 656.2 316.5 662.0 324.0 C667.8 331.5 672.0 341.5 677.0 350.0 C682.0 358.5 689.2 350.0 692.0 375.0 C694.8 400.0 695.2 478.8 694.0 500.0 C692.8 521.2 689.5 501.7 685.0 502.0 C680.5 502.3 673.3 504.5 667.0 502.0 C660.7 499.5 652.8 494.5 647.0 487.0 C641.2 479.5 638.0 468.0 632.0 457.0 C626.0 446.0 618.7 433.0 611.0 421.0 C603.3 409.0 594.3 398.5 586.0 385.0 C577.7 371.5 567.8 352.0 561.0 340.0 C554.2 328.0 550.2 320.7 545.0 313.0 C539.8 305.3 535.0 302.2 530.0 294.0 C525.0 285.8 517.5 274.0 515.0 264.0 C512.5 254.0 512.5 241.7 515.0 234.0Z" fill="none" stroke="#eea878" stroke-width="2.8" stroke-linejoin="round"/><path d="M561.0 264.0 C564.0 258.2 570.2 257.3 576.0 259.0 C581.8 260.7 589.5 267.2 596.0 274.0 C602.5 280.8 607.7 292.3 615.0 300.0 C622.3 307.7 632.5 312.5 640.0 320.0 C647.5 327.5 654.7 335.8 660.0 345.0 C665.3 354.2 669.5 363.2 672.0 375.0 C674.5 386.8 673.7 403.5 675.0 416.0 C676.3 428.5 678.8 438.2 680.0 450.0 C681.2 461.8 684.2 480.8 682.0 487.0 C679.8 493.2 672.0 490.3 667.0 487.0 C662.0 483.7 657.8 477.2 652.0 467.0 C646.2 456.8 638.8 438.8 632.0 426.0 C625.2 413.2 619.5 403.5 611.0 390.0 C602.5 376.5 589.0 357.8 581.0 345.0 C573.0 332.2 566.8 321.5 563.0 313.0 C559.2 304.5 558.3 302.2 558.0 294.0 C557.7 285.8 558.0 269.8 561.0 264.0Z" fill="none" stroke="#eea878" stroke-width="2.8" stroke-dasharray="3.2 6.4" stroke-linejoin="round"/></g></g>
<rect x="489.3" y="694.6" width="195" height="173.7" fill="none" stroke="#a2a2a2" stroke-width="1"/>
<path d="M515.3 868.3v3.6 M543.5 868.3v3.6 M571.9 868.3v3.6 M600.1 868.3v3.6 M628.3 868.3v3.6 M656.5 868.3v3.6 M489.3 700.5h-3.6 M489.3 752.4h-3.6 M489.3 804.3h-3.6 M489.3 856.2h-3.6" stroke="#8c8c8c" stroke-width="0.9" fill="none"/>
<text x="515.3" y="883.5" font-size="12.0" text-anchor="middle">-8</text>
<text x="543.5" y="883.5" font-size="12.0" text-anchor="middle">-6</text>
<text x="571.9" y="883.5" font-size="12.0" text-anchor="middle">-4</text>
<text x="600.1" y="883.5" font-size="12.0" text-anchor="middle">-2</text>
<text x="628.3" y="883.5" font-size="12.0" text-anchor="middle">0</text>
<text x="656.5" y="883.5" font-size="12.0" text-anchor="middle">2</text>
<text transform="translate(481.2,700.5) rotate(-90)" font-size="12.0" text-anchor="middle">10</text>
<text transform="translate(481.2,752.4) rotate(-90)" font-size="12.0" text-anchor="middle">5</text>
<text transform="translate(481.2,804.3) rotate(-90)" font-size="12.0" text-anchor="middle">0</text>
<text transform="translate(481.2,856.2) rotate(-90)" font-size="12.0" text-anchor="middle">-5</text>
<text x="484.4" y="688.9" font-size="16.8">m)</text>
<text x="522.75" y="688.9" font-size="16.8" font-style="italic">Valeriana saxatilis</text>
<text x="373.6" y="901" font-size="17.2" text-anchor="middle">PC1</text>
<text transform="translate(13.3,441.9) rotate(-90)" font-size="17.2" text-anchor="middle">PC2</text>
</svg></body></html>
